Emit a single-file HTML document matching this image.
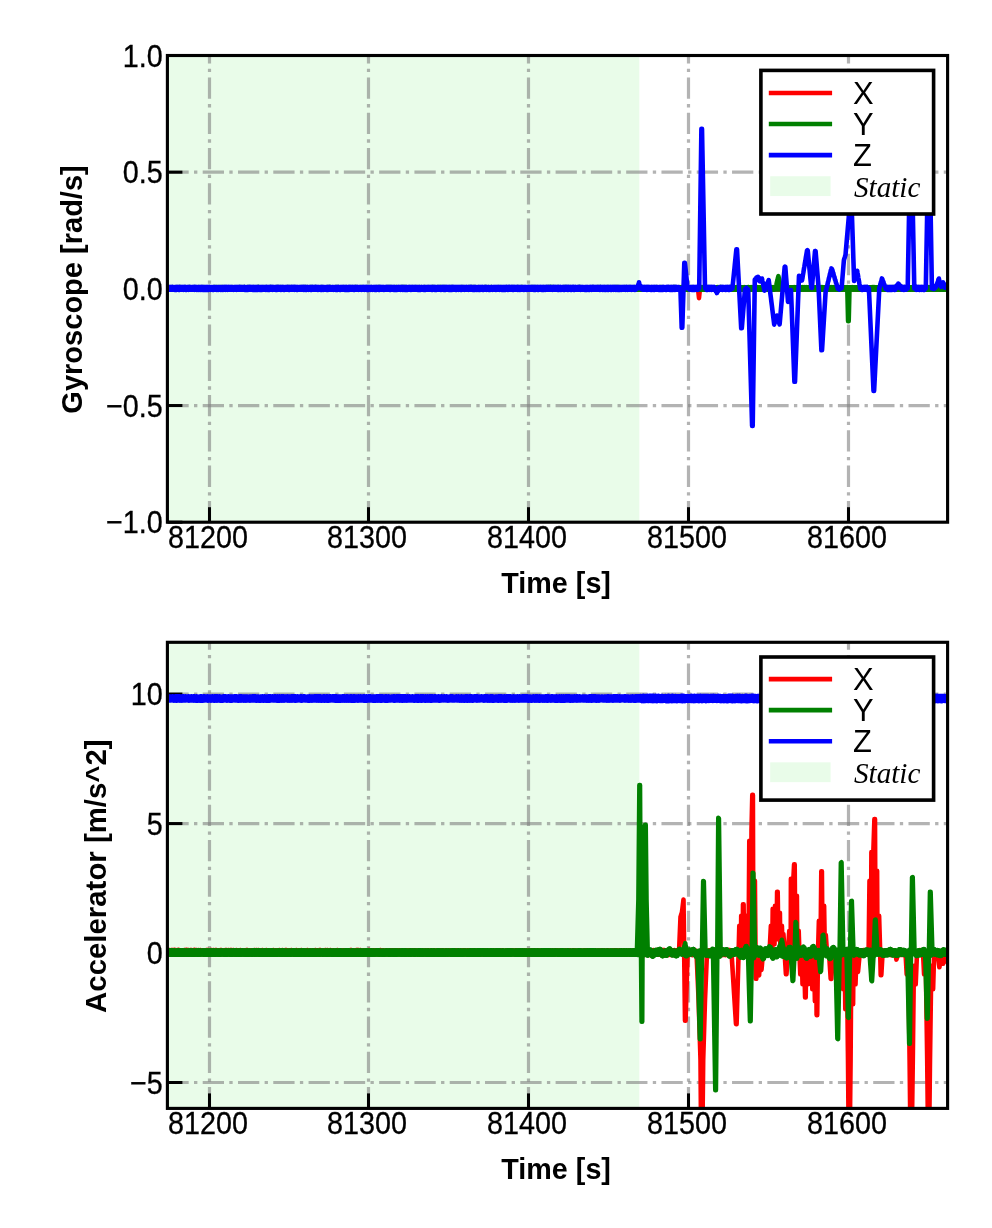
<!DOCTYPE html>
<html lang="en">
<head>
<meta charset="utf-8">
<title>IMU static detection</title>
<style>html,body{margin:0;padding:0;background:#fff}svg{display:block}</style>
</head>
<body>
<svg width="992" height="1228" viewBox="0 0 992 1228" role="img" aria-label="Gyroscope and accelerometer time series with static interval">
<rect x="0" y="0" width="992" height="1228" fill="#ffffff"/>
<defs>
<clipPath id="clip0"><rect x="167.4" y="55.5" width="780.20" height="466.70"/></clipPath>
<clipPath id="clip1"><rect x="167.4" y="642.3" width="780.20" height="466.10"/></clipPath>
</defs>
<g id="axes0">
<rect x="167.4" y="55.5" width="471.90" height="466.70" fill="#90ee90" fill-opacity="0.2"/>
<g clip-path="url(#clip0)" stroke="#808080" stroke-opacity="0.6" stroke-width="3.2" stroke-dasharray="21.3 5.33 3.33 5.33" fill="none">
<line x1="209.50" y1="522.2" x2="209.50" y2="55.5"/>
<line x1="368.50" y1="522.2" x2="368.50" y2="55.5"/>
<line x1="528.50" y1="522.2" x2="528.50" y2="55.5"/>
<line x1="688.50" y1="522.2" x2="688.50" y2="55.5"/>
<line x1="848.50" y1="522.2" x2="848.50" y2="55.5"/>
<line x1="167.4" y1="405.53" x2="947.6" y2="405.53"/>
<line x1="167.4" y1="288.85" x2="947.6" y2="288.85"/>
<line x1="167.4" y1="172.18" x2="947.6" y2="172.18"/>
</g>
<g stroke="#000" stroke-width="3.0">
<line x1="209.50" y1="522.2" x2="209.50" y2="507.20000000000005"/>
<line x1="368.50" y1="522.2" x2="368.50" y2="507.20000000000005"/>
<line x1="528.50" y1="522.2" x2="528.50" y2="507.20000000000005"/>
<line x1="688.50" y1="522.2" x2="688.50" y2="507.20000000000005"/>
<line x1="848.50" y1="522.2" x2="848.50" y2="507.20000000000005"/>
<line x1="167.4" y1="522.20" x2="182.4" y2="522.20"/>
<line x1="167.4" y1="405.53" x2="182.4" y2="405.53"/>
<line x1="167.4" y1="288.85" x2="182.4" y2="288.85"/>
<line x1="167.4" y1="172.18" x2="182.4" y2="172.18"/>
<line x1="167.4" y1="55.50" x2="182.4" y2="55.50"/>
</g>
<g clip-path="url(#clip0)">
<polyline points="165.4,287.4 165.9,289.4 166.4,287.3 166.9,289.4 167.4,287.4 167.9,289.4 168.4,287.5 168.9,289.4 169.4,287.4 169.9,289.5 170.4,287.5 170.9,289.3 171.4,287.5 171.9,289.5 172.4,287.4 172.9,289.3 173.4,287.3 173.9,289.5 174.4,287.4 174.9,289.4 175.4,287.5 175.9,289.3 176.4,287.4 176.9,289.3 177.4,287.5 177.9,289.3 178.4,287.5 178.9,289.4 179.4,287.4 179.9,289.5 180.4,287.4 180.9,289.4 181.4,287.4 181.9,289.4 182.4,287.4 182.9,289.3 183.4,287.3 183.9,289.5 184.4,287.3 184.9,289.4 185.4,287.5 185.9,289.3 186.4,287.5 186.9,289.3 187.4,287.4 187.9,289.4 188.4,287.3 188.9,289.4 189.4,287.3 189.9,289.5 190.4,287.5 190.9,289.3 191.4,287.3 191.9,289.4 192.4,287.3 192.9,289.4 193.4,287.5 193.9,289.4 194.4,287.3 194.9,289.3 195.4,287.5 195.9,289.4 196.4,287.3 196.9,289.4 197.4,287.5 197.9,289.3 198.4,287.5 198.9,289.3 199.4,287.3 199.9,289.3 200.4,287.4 200.9,289.4 201.4,287.5 201.9,289.4 202.4,287.5 202.9,289.4 203.4,287.5 203.9,289.4 204.4,287.5 204.9,289.3 205.4,287.3 205.9,289.5 206.4,287.5 206.9,289.5 207.4,287.5 207.9,289.4 208.4,287.3 208.9,289.4 209.4,287.5 209.9,289.5 210.4,287.5 210.9,289.3 211.4,287.4 211.9,289.4 212.4,287.5 212.9,289.3 213.4,287.5 213.9,289.4 214.4,287.5 214.9,289.4 215.4,287.4 215.9,289.4 216.4,287.3 216.9,289.4 217.4,287.4 217.9,289.5 218.4,287.5 218.9,289.3 219.4,287.3 219.9,289.5 220.4,287.5 220.9,289.3 221.4,287.4 221.9,289.5 222.4,287.5 222.9,289.5 223.4,287.3 223.9,289.4 224.4,287.4 224.9,289.3 225.4,287.5 225.9,289.5 226.4,287.5 226.9,289.4 227.4,287.5 227.9,289.5 228.4,287.4 228.9,289.3 229.4,287.5 229.9,289.4 230.4,287.5 230.9,289.3 231.4,287.4 231.9,289.5 232.4,287.4 232.9,289.3 233.4,287.3 233.9,289.3 234.4,287.5 234.9,289.3 235.4,287.4 235.9,289.3 236.4,287.5 236.9,289.4 237.4,287.4 237.9,289.3 238.4,287.4 238.9,289.5 239.4,287.3 239.9,289.4 240.4,287.4 240.9,289.4 241.4,287.5 241.9,289.3 242.4,287.5 242.9,289.5 243.4,287.4 243.9,289.5 244.4,287.5 244.9,289.4 245.4,287.4 245.9,289.4 246.4,287.4 246.9,289.5 247.4,287.5 247.9,289.4 248.4,287.4 248.9,289.5 249.4,287.4 249.9,289.4 250.4,287.3 250.9,289.5 251.4,287.4 251.9,289.4 252.4,287.3 252.9,289.5 253.4,287.4 253.9,289.5 254.4,287.3 254.9,289.4 255.4,287.4 255.9,289.4 256.4,287.4 256.9,289.4 257.4,287.5 257.9,289.4 258.4,287.3 258.9,289.5 259.4,287.4 259.9,289.4 260.4,287.4 260.9,289.4 261.4,287.4 261.9,289.5 262.4,287.5 262.9,289.4 263.4,287.5 263.9,289.4 264.4,287.4 264.9,289.3 265.4,287.4 265.9,289.4 266.4,287.4 266.9,289.5 267.4,287.5 267.9,289.3 268.4,287.5 268.9,289.4 269.4,287.5 269.9,289.3 270.4,287.3 270.9,289.4 271.4,287.4 271.9,289.5 272.4,287.4 272.9,289.4 273.4,287.5 273.9,289.4 274.4,287.3 274.9,289.5 275.4,287.3 275.9,289.4 276.4,287.4 276.9,289.3 277.4,287.5 277.9,289.4 278.4,287.3 278.9,289.5 279.4,287.4 279.9,289.5 280.4,287.5 280.9,289.3 281.4,287.4 281.9,289.3 282.4,287.5 282.9,289.4 283.4,287.4 283.9,289.4 284.4,287.5 284.9,289.5 285.4,287.3 285.9,289.4 286.4,287.5 286.9,289.3 287.4,287.3 287.9,289.3 288.4,287.4 288.9,289.4 289.4,287.5 289.9,289.5 290.4,287.5 290.9,289.3 291.4,287.4 291.9,289.3 292.4,287.3 292.9,289.3 293.4,287.5 293.9,289.3 294.4,287.4 294.9,289.4 295.4,287.4 295.9,289.4 296.4,287.3 296.9,289.5 297.4,287.4 297.9,289.3 298.4,287.4 298.9,289.3 299.4,287.5 299.9,289.4 300.4,287.4 300.9,289.3 301.4,287.5 301.9,289.4 302.4,287.4 302.9,289.4 303.4,287.4 303.9,289.4 304.4,287.4 304.9,289.5 305.4,287.3 305.9,289.3 306.4,287.3 306.9,289.4 307.4,287.5 307.9,289.4 308.4,287.4 308.9,289.5 309.4,287.4 309.9,289.4 310.4,287.3 310.9,289.5 311.4,287.3 311.9,289.4 312.4,287.4 312.9,289.3 313.4,287.4 313.9,289.5 314.4,287.4 314.9,289.4 315.4,287.5 315.9,289.5 316.4,287.3 316.9,289.5 317.4,287.4 317.9,289.5 318.4,287.4 318.9,289.5 319.4,287.3 319.9,289.4 320.4,287.5 320.9,289.4 321.4,287.4 321.9,289.4 322.4,287.4 322.9,289.3 323.4,287.3 323.9,289.3 324.4,287.3 324.9,289.3 325.4,287.4 325.9,289.5 326.4,287.5 326.9,289.3 327.4,287.4 327.9,289.4 328.4,287.3 328.9,289.4 329.4,287.3 329.9,289.4 330.4,287.3 330.9,289.3 331.4,287.5 331.9,289.4 332.4,287.5 332.9,289.4 333.4,287.4 333.9,289.4 334.4,287.3 334.9,289.4 335.4,287.5 335.9,289.4 336.4,287.3 336.9,289.5 337.4,287.5 337.9,289.5 338.4,287.3 338.9,289.4 339.4,287.4 339.9,289.3 340.4,287.4 340.9,289.4 341.4,287.4 341.9,289.3 342.4,287.3 342.9,289.4 343.4,287.4 343.9,289.5 344.4,287.4 344.9,289.4 345.4,287.4 345.9,289.3 346.4,287.4 346.9,289.4 347.4,287.3 347.9,289.5 348.4,287.5 348.9,289.4 349.4,287.5 349.9,289.4 350.4,287.3 350.9,289.5 351.4,287.4 351.9,289.3 352.4,287.5 352.9,289.4 353.4,287.3 353.9,289.3 354.4,287.3 354.9,289.3 355.4,287.5 355.9,289.3 356.4,287.4 356.9,289.4 357.4,287.4 357.9,289.4 358.4,287.5 358.9,289.4 359.4,287.5 359.9,289.4 360.4,287.5 360.9,289.3 361.4,287.4 361.9,289.4 362.4,287.4 362.9,289.4 363.4,287.4 363.9,289.3 364.4,287.5 364.9,289.4 365.4,287.4 365.9,289.4 366.4,287.3 366.9,289.4 367.4,287.3 367.9,289.3 368.4,287.4 368.9,289.5 369.4,287.3 369.9,289.3 370.4,287.5 370.9,289.5 371.4,287.5 371.9,289.5 372.4,287.3 372.9,289.3 373.4,287.5 373.9,289.4 374.4,287.5 374.9,289.3 375.4,287.3 375.9,289.4 376.4,287.3 376.9,289.3 377.4,287.4 377.9,289.4 378.4,287.5 378.9,289.3 379.4,287.4 379.9,289.5 380.4,287.3 380.9,289.3 381.4,287.4 381.9,289.4 382.4,287.4 382.9,289.4 383.4,287.5 383.9,289.3 384.4,287.5 384.9,289.3 385.4,287.4 385.9,289.4 386.4,287.4 386.9,289.3 387.4,287.5 387.9,289.3 388.4,287.3 388.9,289.5 389.4,287.3 389.9,289.3 390.4,287.5 390.9,289.5 391.4,287.4 391.9,289.4 392.4,287.4 392.9,289.4 393.4,287.4 393.9,289.4 394.4,287.4 394.9,289.3 395.4,287.4 395.9,289.5 396.4,287.5 396.9,289.4 397.4,287.4 397.9,289.4 398.4,287.5 398.9,289.3 399.4,287.4 399.9,289.3 400.4,287.3 400.9,289.5 401.4,287.4 401.9,289.5 402.4,287.4 402.9,289.4 403.4,287.4 403.9,289.4 404.4,287.3 404.9,289.5 405.4,287.5 405.9,289.5 406.4,287.4 406.9,289.5 407.4,287.3 407.9,289.4 408.4,287.3 408.9,289.5 409.4,287.4 409.9,289.4 410.4,287.4 410.9,289.4 411.4,287.4 411.9,289.3 412.4,287.4 412.9,289.4 413.4,287.5 413.9,289.4 414.4,287.4 414.9,289.4 415.4,287.5 415.9,289.5 416.4,287.4 416.9,289.4 417.4,287.4 417.9,289.4 418.4,287.4 418.9,289.4 419.4,287.3 419.9,289.4 420.4,287.4 420.9,289.4 421.4,287.3 421.9,289.3 422.4,287.4 422.9,289.4 423.4,287.5 423.9,289.4 424.4,287.5 424.9,289.3 425.4,287.4 425.9,289.3 426.4,287.5 426.9,289.5 427.4,287.4 427.9,289.4 428.4,287.3 428.9,289.4 429.4,287.3 429.9,289.4 430.4,287.3 430.9,289.3 431.4,287.4 431.9,289.4 432.4,287.5 432.9,289.5 433.4,287.5 433.9,289.4 434.4,287.5 434.9,289.4 435.4,287.4 435.9,289.3 436.4,287.3 436.9,289.4 437.4,287.4 437.9,289.4 438.4,287.4 438.9,289.3 439.4,287.4 439.9,289.4 440.4,287.5 440.9,289.4 441.4,287.5 441.9,289.3 442.4,287.5 442.9,289.3 443.4,287.5 443.9,289.4 444.4,287.4 444.9,289.5 445.4,287.4 445.9,289.3 446.4,287.3 446.9,289.5 447.4,287.5 447.9,289.5 448.4,287.4 448.9,289.4 449.4,287.3 449.9,289.3 450.4,287.4 450.9,289.5 451.4,287.4 451.9,289.4 452.4,287.3 452.9,289.5 453.4,287.4 453.9,289.3 454.4,287.4 454.9,289.4 455.4,287.5 455.9,289.3 456.4,287.4 456.9,289.3 457.4,287.4 457.9,289.4 458.4,287.4 458.9,289.3 459.4,287.4 459.9,289.4 460.4,287.3 460.9,289.4 461.4,287.3 461.9,289.5 462.4,287.4 462.9,289.3 463.4,287.5 463.9,289.5 464.4,287.3 464.9,289.4 465.4,287.4 465.9,289.3 466.4,287.4 466.9,289.4 467.4,287.4 467.9,289.4 468.4,287.4 468.9,289.3 469.4,287.5 469.9,289.5 470.4,287.3 470.9,289.5 471.4,287.5 471.9,289.3 472.4,287.5 472.9,289.4 473.4,287.4 473.9,289.3 474.4,287.4 474.9,289.3 475.4,287.5 475.9,289.4 476.4,287.4 476.9,289.4 477.4,287.4 477.9,289.4 478.4,287.5 478.9,289.4 479.4,287.4 479.9,289.5 480.4,287.5 480.9,289.3 481.4,287.3 481.9,289.4 482.4,287.4 482.9,289.3 483.4,287.4 483.9,289.3 484.4,287.3 484.9,289.4 485.4,287.4 485.9,289.5 486.4,287.4 486.9,289.4 487.4,287.4 487.9,289.5 488.4,287.4 488.9,289.4 489.4,287.5 489.9,289.5 490.4,287.5 490.9,289.3 491.4,287.4 491.9,289.4 492.4,287.4 492.9,289.3 493.4,287.3 493.9,289.3 494.4,287.5 494.9,289.4 495.4,287.5 495.9,289.3 496.4,287.4 496.9,289.4 497.4,287.5 497.9,289.3 498.4,287.4 498.9,289.4 499.4,287.4 499.9,289.3 500.4,287.4 500.9,289.4 501.4,287.3 501.9,289.5 502.4,287.3 502.9,289.4 503.4,287.3 503.9,289.3 504.4,287.5 504.9,289.4 505.4,287.3 505.9,289.5 506.4,287.5 506.9,289.4 507.4,287.4 507.9,289.4 508.4,287.4 508.9,289.4 509.4,287.5 509.9,289.4 510.4,287.3 510.9,289.4 511.4,287.3 511.9,289.4 512.4,287.5 512.9,289.4 513.4,287.3 513.9,289.3 514.4,287.5 514.9,289.4 515.4,287.4 515.9,289.4 516.4,287.3 516.9,289.4 517.4,287.3 517.9,289.3 518.4,287.4 518.9,289.5 519.4,287.5 519.9,289.3 520.4,287.4 520.9,289.5 521.4,287.5 521.9,289.4 522.4,287.5 522.9,289.4 523.4,287.4 523.9,289.3 524.4,287.5 524.9,289.4 525.4,287.4 525.9,289.4 526.4,287.4 526.9,289.4 527.4,287.3 527.9,289.4 528.4,287.4 528.9,289.4 529.4,287.4 529.9,289.4 530.4,287.3 530.9,289.4 531.4,287.3 531.9,289.4 532.4,287.3 532.9,289.5 533.4,287.3 533.9,289.5 534.4,287.3 534.9,289.4 535.4,287.4 535.9,289.4 536.4,287.3 536.9,289.4 537.4,287.4 537.9,289.3 538.4,287.4 538.9,289.5 539.4,287.4 539.9,289.3 540.4,287.5 540.9,289.4 541.4,287.5 541.9,289.5 542.4,287.5 542.9,289.3 543.4,287.5 543.9,289.4 544.4,287.3 544.9,289.3 545.4,287.5 545.9,289.4 546.4,287.4 546.9,289.5 547.4,287.5 547.9,289.3 548.4,287.5 548.9,289.3 549.4,287.5 549.9,289.4 550.4,287.4 550.9,289.3 551.4,287.5 551.9,289.3 552.4,287.5 552.9,289.4 553.4,287.5 553.9,289.4 554.4,287.3 554.9,289.4 555.4,287.5 555.9,289.5 556.4,287.3 556.9,289.4 557.4,287.4 557.9,289.5 558.4,287.4 558.9,289.3 559.4,287.5 559.9,289.5 560.4,287.3 560.9,289.4 561.4,287.4 561.9,289.4 562.4,287.5 562.9,289.5 563.4,287.4 563.9,289.3 564.4,287.5 564.9,289.4 565.4,287.4 565.9,289.5 566.4,287.4 566.9,289.4 567.4,287.5 567.9,289.3 568.4,287.4 568.9,289.3 569.4,287.3 569.9,289.4 570.4,287.4 570.9,289.5 571.4,287.5 571.9,289.4 572.4,287.5 572.9,289.4 573.4,287.5 573.9,289.5 574.4,287.3 574.9,289.5 575.4,287.5 575.9,289.3 576.4,287.4 576.9,289.3 577.4,287.4 577.9,289.4 578.4,287.3 578.9,289.4 579.4,287.3 579.9,289.3 580.4,287.3 580.9,289.4 581.4,287.3 581.9,289.3 582.4,287.3 582.9,289.3 583.4,287.4 583.9,289.4 584.4,287.5 584.9,289.5 585.4,287.5 585.9,289.3 586.4,287.5 586.9,289.3 587.4,287.4 587.9,289.4 588.4,287.4 588.9,289.4 589.4,287.5 589.9,289.4 590.4,287.4 590.9,289.5 591.4,287.3 591.9,289.4 592.4,287.5 592.9,289.4 593.4,287.4 593.9,289.3 594.4,287.4 594.9,289.4 595.4,287.5 595.9,289.5 596.4,287.3 596.9,289.3 597.4,287.4 597.9,289.3 598.4,287.4 598.9,289.4 599.4,287.5 599.9,289.4 600.4,287.4 600.9,289.4 601.4,287.5 601.9,289.3 602.4,287.4 602.9,289.4 603.4,287.3 603.9,289.4 604.4,287.4 604.9,289.4 605.4,287.3 605.9,289.3 606.4,287.5 606.9,289.3 607.4,287.4 607.9,289.4 608.4,287.5 608.9,289.4 609.4,287.3 609.9,289.4 610.4,287.5 610.9,289.3 611.4,287.5 611.9,289.3 612.4,287.4 612.9,289.3 613.4,287.3 613.9,289.4 614.4,287.4 614.9,289.4 615.4,287.4 615.9,289.5 616.4,287.4 616.9,289.4 617.4,287.4 617.9,289.3 618.4,287.4 618.9,289.4 619.4,287.3 619.9,289.5 620.4,287.4 620.9,289.4 621.4,287.5 621.9,289.4 622.4,287.4 622.9,289.4 623.4,287.5 623.9,289.4 624.4,287.4 624.9,289.5 625.4,287.3 625.9,289.4 626.4,287.5 626.9,289.4 627.4,287.3 627.9,289.4 628.4,287.4 628.9,289.4 629.4,287.5 629.9,289.4 630.4,287.3 630.9,289.4 631.4,287.4 631.9,289.5 632.4,287.5 632.9,289.5 633.4,287.4 633.9,289.3 634.4,287.5 634.9,289.3 635.4,287.4 635.9,289.4 636.4,287.4 636.9,289.5 637.4,287.4 637.9,289.4 638.4,287.5 638.9,289.5 639.4,287.5 639.9,289.5 640.4,287.4 640.9,289.4 641.4,287.4 641.9,289.3 642.4,287.3 642.9,289.5 643.4,287.3 643.9,289.4 644.4,287.5 644.9,289.5 645.4,287.5 645.9,289.5 646.4,287.5 646.9,289.4 647.4,287.3 647.9,289.3 648.4,287.4 648.9,289.3 649.4,287.5 649.9,289.3 650.4,287.3 650.9,289.5 651.4,287.4 651.9,289.3 652.4,287.4 652.9,289.4 653.4,287.4 653.9,289.4 654.4,287.3 654.9,289.3 655.4,287.5 655.9,289.4 656.4,287.5 656.9,289.4 657.4,287.4 657.9,289.3 658.4,287.4 658.9,289.3 659.4,287.4 659.9,289.4 660.4,287.4 660.9,289.3 661.4,287.4 661.9,289.3 662.4,287.3 662.9,289.4 663.4,287.4 663.9,289.4 664.4,287.4 664.9,289.4 665.4,287.4 665.9,289.4 666.4,287.4 666.9,289.5 667.4,287.3 667.9,289.5 668.4,287.4 668.9,289.4 669.4,287.4 669.9,289.5 670.4,287.4 670.9,289.4 671.4,287.4 671.9,289.5 672.4,287.4 672.9,289.3 673.4,287.4 673.9,289.5 674.4,287.4 674.9,289.4 675.4,287.4 675.9,289.3 676.4,287.4 676.9,289.3 677.4,287.5 677.9,289.4 678.4,287.4 678.9,289.4 679.4,287.5 679.9,289.4 680.4,287.4 680.9,289.3 681.4,287.5 681.9,289.4 682.4,287.5 682.9,289.3 683.4,287.3 683.9,289.5 684.4,287.4 684.9,289.5 685.4,287.4 685.9,289.5 686.4,287.5 686.9,289.4 687.4,287.4 687.9,289.5 688.4,287.5 688.9,289.5 689.4,287.5 689.9,289.4 690.4,287.3 690.9,289.3 691.4,287.5 691.9,289.3 692.4,287.4 692.9,289.3 693.4,287.3 693.9,289.5 694.4,287.4 694.9,289.4 695.4,287.4 695.9,289.3 696.4,287.5 696.9,288.5 697.4,288.3 697.9,288.5 698.0,288.3 698.4,292.3 698.9,297.0 699.0,298.1 699.4,294.1 699.9,289.4 700.0,288.3 700.4,288.5 700.9,288.3 701.4,289.4 701.9,287.4 702.4,289.3 702.9,287.3 703.4,289.5 703.9,287.5 704.4,289.4 704.9,287.5 705.4,289.5 705.9,287.5 706.4,289.3 706.9,287.4 707.4,289.3 707.9,287.3 708.4,289.5 708.9,287.4 709.4,289.3 709.9,287.4 710.4,289.5 710.9,287.4 711.4,289.3 711.9,287.5 712.4,289.3 712.9,287.4 713.4,289.3 713.9,287.5 714.4,289.3 714.9,287.4 715.4,289.5 715.9,287.4 716.4,289.4 716.9,287.3 717.4,289.4 717.9,287.5 718.4,289.3 718.9,287.3 719.4,289.4 719.9,287.5 720.4,289.4 720.9,287.5 721.4,289.5 721.9,287.4 722.4,289.4 722.9,287.4 723.4,289.3 723.9,287.4 724.4,289.3 724.9,287.5 725.4,289.5 725.9,287.5 726.4,289.3 726.9,287.4 727.4,289.3 727.9,287.5 728.4,289.4 728.9,287.5 729.4,289.5 729.9,287.3 730.4,289.3 730.9,287.4 731.4,289.4 731.9,287.4 732.4,289.5 732.9,287.4 733.4,289.3 733.9,287.4 734.4,289.4 734.9,287.4 735.4,289.4 735.9,287.3 736.4,289.4 736.9,287.4 737.4,289.5 737.9,287.4 738.4,289.4 738.9,287.3 739.4,289.3 739.9,287.3 740.4,289.3 740.9,287.4 741.4,289.3 741.9,287.4 742.4,289.5 742.9,287.3 743.4,289.5 743.9,287.5 744.4,289.4 744.9,287.5 745.4,289.4 745.9,287.4 746.4,289.3 746.9,287.4 747.4,289.4 747.9,287.4 748.4,289.5 748.9,287.5 749.4,289.3 749.9,287.5 750.4,289.4 750.9,287.4 751.4,289.4 751.9,287.5 752.4,289.5 752.9,287.5 753.4,289.5 753.9,287.4 754.4,289.4 754.9,287.3 755.4,289.3 755.9,287.5 756.4,289.3 756.9,287.5 757.4,289.3 757.9,287.4 758.4,289.4 758.9,287.5 759.4,289.4 759.9,287.5 760.4,289.5 760.9,287.5 761.4,289.3 761.9,287.5 762.4,289.4 762.9,287.3 763.4,289.5 763.9,287.5 764.4,289.4 764.9,287.4 765.4,289.3 765.9,287.3 766.4,289.3 766.9,287.4 767.4,289.4 767.9,287.3 768.4,289.3 768.9,287.4 769.4,289.4 769.9,287.5 770.4,289.3 770.9,287.3 771.4,289.3 771.9,287.4 772.4,289.3 772.9,287.4 773.4,289.3 773.9,287.5 774.4,289.5 774.9,287.4 775.4,289.4 775.9,287.5 776.4,289.3 776.9,287.4 777.4,289.3 777.9,287.4 778.4,289.5 778.9,287.4 779.4,289.4 779.9,287.3 780.4,289.4 780.9,287.5 781.4,289.4 781.9,287.4 782.4,289.3 782.9,287.4 783.4,289.4 783.9,287.3 784.4,289.4 784.9,287.3 785.4,289.4 785.9,287.4 786.4,289.5 786.9,287.4 787.4,289.5 787.9,287.5 788.4,289.4 788.9,287.5 789.4,289.4 789.9,287.5 790.4,289.3 790.9,287.5 791.4,289.4 791.9,287.5 792.4,289.4 792.9,287.3 793.4,289.4 793.9,287.3 794.4,289.3 794.9,287.4 795.4,289.3 795.9,287.4 796.4,289.4 796.9,287.5 797.4,289.3 797.9,287.5 798.4,289.3 798.9,287.4 799.4,289.5 799.9,287.4 800.4,289.3 800.9,287.4 801.4,289.3 801.9,287.3 802.4,289.4 802.9,287.4 803.4,289.4 803.9,287.3 804.4,289.3 804.9,287.4 805.4,289.4 805.9,287.5 806.4,289.5 806.9,287.4 807.4,289.4 807.9,287.4 808.4,289.3 808.9,287.4 809.4,289.3 809.9,287.5 810.4,289.3 810.9,287.4 811.4,289.3 811.9,287.5 812.4,289.4 812.9,287.4 813.4,289.3 813.9,287.4 814.4,289.3 814.9,287.4 815.4,289.4 815.9,287.5 816.4,289.3 816.9,287.5 817.4,289.4 817.9,287.4 818.4,289.4 818.9,287.3 819.4,289.3 819.9,287.5 820.4,289.4 820.9,287.5 821.4,289.3 821.9,287.5 822.4,289.4 822.9,287.4 823.4,289.5 823.9,287.3 824.4,289.3 824.9,287.4 825.4,289.5 825.9,287.5 826.4,289.4 826.9,287.4 827.4,289.5 827.9,287.3 828.4,289.3 828.9,287.4 829.4,289.3 829.9,287.4 830.4,289.4 830.9,287.5 831.4,289.4 831.9,287.4 832.4,289.4 832.9,287.5 833.4,289.3 833.9,287.4 834.4,289.4 834.9,287.5 835.4,289.4 835.9,287.5 836.4,289.3 836.9,287.4 837.4,289.4 837.9,287.5 838.4,289.4 838.9,287.4 839.4,289.4 839.9,287.4 840.4,289.3 840.9,287.4 841.4,289.4 841.9,287.5 842.4,289.4 842.9,287.5 843.4,289.4 843.9,287.4 844.4,289.4 844.9,287.4 845.4,289.3 845.9,287.5 846.4,289.4 846.9,287.3 847.4,289.4 847.9,287.5 848.4,289.4 848.9,287.5 849.4,289.4 849.9,287.4 850.4,289.5 850.9,287.4 851.4,289.4 851.9,287.3 852.4,289.4 852.9,287.4 853.4,289.4 853.9,287.4 854.4,289.4 854.9,287.5 855.4,289.5 855.9,287.3 856.4,289.4 856.9,287.3 857.4,289.3 857.9,287.5 858.4,289.4 858.9,287.5 859.4,289.4 859.9,287.3 860.4,289.3 860.9,287.5 861.4,289.3 861.9,287.4 862.4,289.3 862.9,287.5 863.4,289.4 863.9,287.4 864.4,289.3 864.9,287.4 865.4,289.4 865.9,287.4 866.4,289.4 866.9,287.4 867.4,289.5 867.9,287.3 868.4,289.4 868.9,287.4 869.4,289.5 869.9,287.5 870.4,289.4 870.9,287.4 871.4,289.4 871.9,287.3 872.4,289.5 872.9,287.5 873.4,289.4 873.9,287.4 874.4,289.4 874.9,287.4 875.4,289.3 875.9,287.4 876.4,289.4 876.9,287.5 877.4,289.3 877.9,287.4 878.4,289.3 878.9,287.4 879.4,289.3 879.9,287.5 880.4,289.3 880.9,287.5 881.4,289.4 881.9,287.5 882.4,289.4 882.9,287.4 883.4,289.4 883.9,287.5 884.4,289.5 884.9,287.3 885.4,289.3 885.9,287.5 886.4,289.4 886.9,287.3 887.4,289.4 887.9,287.4 888.4,289.3 888.9,287.4 889.4,289.4 889.9,287.4 890.4,289.4 890.9,287.3 891.4,289.5 891.9,287.4 892.4,289.4 892.9,287.4 893.4,289.4 893.9,287.3 894.4,289.5 894.9,287.5 895.4,289.4 895.9,287.4 896.4,289.3 896.9,287.5 897.4,289.3 897.9,287.4 898.4,289.5 898.9,287.3 899.4,289.3 899.9,287.4 900.4,289.4 900.9,287.4 901.4,289.4 901.9,287.3 902.4,289.5 902.9,287.5 903.4,289.4 903.9,287.5 904.4,289.3 904.9,287.5 905.4,289.4 905.9,287.3 906.4,289.3 906.9,287.4 907.4,289.3 907.9,287.4 908.4,289.4 908.9,287.4 909.4,289.3 909.9,287.3 910.4,289.5 910.9,287.5 911.4,289.4 911.9,287.4 912.4,289.4 912.9,287.3 913.4,289.4 913.9,287.4 914.4,289.4 914.9,287.3 915.4,289.3 915.9,287.5 916.4,289.3 916.9,287.3 917.4,289.3 917.9,287.4 918.4,289.3 918.9,287.4 919.4,289.3 919.9,287.4 920.4,289.3 920.9,287.4 921.4,289.3 921.9,287.5 922.4,289.4 922.9,287.4 923.4,289.3 923.9,287.5 924.4,289.3 924.9,287.3 925.4,289.3 925.9,287.5 926.4,289.3 926.9,287.4 927.4,289.5 927.9,287.5 928.4,289.5 928.9,287.4 929.4,289.4 929.9,287.3 930.4,289.4 930.9,287.5 931.4,289.4 931.9,287.4 932.4,289.4 932.9,287.5 933.4,289.5 933.9,287.3 934.4,289.5 934.9,287.4 935.4,289.5 935.9,287.4 936.4,289.3 936.9,287.5 937.4,289.3 937.9,287.5 938.4,289.3 938.9,287.4 939.4,289.4 939.9,287.5 940.4,289.4 940.9,287.5 941.4,289.3 941.9,287.3 942.4,289.3 942.9,287.4 943.4,289.5 943.9,287.3 944.4,289.4 944.9,287.4 945.4,289.5 945.9,287.3 946.4,289.4 946.9,287.3 947.4,289.3 947.9,287.3 948.4,289.4 948.9,287.4 949.4,289.3 949.6,287.3" fill="none" stroke="#ff0000" stroke-width="4.6" stroke-linejoin="round" stroke-linecap="butt" />
<polyline points="165.4,287.4 165.9,289.5 166.4,287.3 166.9,289.6 167.4,287.4 167.9,289.4 168.4,287.3 168.9,289.5 169.4,287.4 169.9,289.5 170.4,287.3 170.9,289.5 171.4,287.4 171.9,289.4 172.4,287.2 172.9,289.4 173.4,287.4 173.9,289.6 174.4,287.3 174.9,289.4 175.4,287.3 175.9,289.5 176.4,287.4 176.9,289.5 177.4,287.4 177.9,289.4 178.4,287.4 178.9,289.4 179.4,287.2 179.9,289.5 180.4,287.2 180.9,289.5 181.4,287.3 181.9,289.6 182.4,287.3 182.9,289.4 183.4,287.3 183.9,289.5 184.4,287.4 184.9,289.4 185.4,287.2 185.9,289.5 186.4,287.4 186.9,289.5 187.4,287.4 187.9,289.6 188.4,287.3 188.9,289.4 189.4,287.2 189.9,289.4 190.4,287.4 190.9,289.4 191.4,287.3 191.9,289.4 192.4,287.3 192.9,289.4 193.4,287.3 193.9,289.5 194.4,287.3 194.9,289.5 195.4,287.3 195.9,289.5 196.4,287.3 196.9,289.4 197.4,287.3 197.9,289.4 198.4,287.2 198.9,289.6 199.4,287.4 199.9,289.4 200.4,287.3 200.9,289.5 201.4,287.4 201.9,289.5 202.4,287.2 202.9,289.5 203.4,287.4 203.9,289.5 204.4,287.2 204.9,289.4 205.4,287.4 205.9,289.4 206.4,287.3 206.9,289.5 207.4,287.4 207.9,289.5 208.4,287.4 208.9,289.4 209.4,287.2 209.9,289.5 210.4,287.4 210.9,289.6 211.4,287.4 211.9,289.4 212.4,287.4 212.9,289.4 213.4,287.4 213.9,289.4 214.4,287.2 214.9,289.4 215.4,287.4 215.9,289.5 216.4,287.2 216.9,289.4 217.4,287.3 217.9,289.4 218.4,287.3 218.9,289.5 219.4,287.2 219.9,289.5 220.4,287.3 220.9,289.6 221.4,287.4 221.9,289.5 222.4,287.2 222.9,289.5 223.4,287.3 223.9,289.4 224.4,287.2 224.9,289.5 225.4,287.4 225.9,289.6 226.4,287.3 226.9,289.4 227.4,287.4 227.9,289.4 228.4,287.4 228.9,289.5 229.4,287.4 229.9,289.4 230.4,287.3 230.9,289.5 231.4,287.3 231.9,289.5 232.4,287.4 232.9,289.4 233.4,287.3 233.9,289.4 234.4,287.4 234.9,289.4 235.4,287.3 235.9,289.4 236.4,287.3 236.9,289.4 237.4,287.3 237.9,289.5 238.4,287.4 238.9,289.6 239.4,287.3 239.9,289.5 240.4,287.4 240.9,289.5 241.4,287.4 241.9,289.5 242.4,287.2 242.9,289.6 243.4,287.4 243.9,289.5 244.4,287.2 244.9,289.5 245.4,287.4 245.9,289.6 246.4,287.3 246.9,289.6 247.4,287.2 247.9,289.6 248.4,287.2 248.9,289.4 249.4,287.2 249.9,289.4 250.4,287.4 250.9,289.5 251.4,287.3 251.9,289.4 252.4,287.3 252.9,289.5 253.4,287.3 253.9,289.5 254.4,287.4 254.9,289.6 255.4,287.4 255.9,289.5 256.4,287.3 256.9,289.4 257.4,287.2 257.9,289.4 258.4,287.2 258.9,289.6 259.4,287.2 259.9,289.6 260.4,287.3 260.9,289.5 261.4,287.4 261.9,289.6 262.4,287.4 262.9,289.4 263.4,287.2 263.9,289.6 264.4,287.3 264.9,289.6 265.4,287.3 265.9,289.6 266.4,287.3 266.9,289.6 267.4,287.4 267.9,289.5 268.4,287.3 268.9,289.6 269.4,287.3 269.9,289.5 270.4,287.2 270.9,289.5 271.4,287.4 271.9,289.4 272.4,287.2 272.9,289.5 273.4,287.3 273.9,289.5 274.4,287.4 274.9,289.4 275.4,287.4 275.9,289.4 276.4,287.2 276.9,289.4 277.4,287.4 277.9,289.6 278.4,287.3 278.9,289.4 279.4,287.3 279.9,289.5 280.4,287.3 280.9,289.5 281.4,287.3 281.9,289.4 282.4,287.3 282.9,289.5 283.4,287.3 283.9,289.4 284.4,287.4 284.9,289.5 285.4,287.3 285.9,289.5 286.4,287.3 286.9,289.5 287.4,287.4 287.9,289.5 288.4,287.2 288.9,289.4 289.4,287.4 289.9,289.5 290.4,287.4 290.9,289.6 291.4,287.4 291.9,289.6 292.4,287.3 292.9,289.4 293.4,287.3 293.9,289.5 294.4,287.3 294.9,289.5 295.4,287.4 295.9,289.6 296.4,287.4 296.9,289.6 297.4,287.4 297.9,289.5 298.4,287.4 298.9,289.4 299.4,287.3 299.9,289.6 300.4,287.4 300.9,289.5 301.4,287.3 301.9,289.5 302.4,287.4 302.9,289.4 303.4,287.2 303.9,289.5 304.4,287.4 304.9,289.6 305.4,287.2 305.9,289.5 306.4,287.4 306.9,289.4 307.4,287.2 307.9,289.4 308.4,287.4 308.9,289.6 309.4,287.4 309.9,289.6 310.4,287.4 310.9,289.5 311.4,287.3 311.9,289.4 312.4,287.3 312.9,289.5 313.4,287.3 313.9,289.5 314.4,287.4 314.9,289.6 315.4,287.2 315.9,289.4 316.4,287.3 316.9,289.4 317.4,287.3 317.9,289.5 318.4,287.3 318.9,289.5 319.4,287.4 319.9,289.6 320.4,287.3 320.9,289.6 321.4,287.4 321.9,289.5 322.4,287.4 322.9,289.5 323.4,287.4 323.9,289.6 324.4,287.4 324.9,289.5 325.4,287.3 325.9,289.5 326.4,287.4 326.9,289.5 327.4,287.2 327.9,289.4 328.4,287.2 328.9,289.4 329.4,287.4 329.9,289.5 330.4,287.2 330.9,289.5 331.4,287.3 331.9,289.4 332.4,287.3 332.9,289.4 333.4,287.4 333.9,289.5 334.4,287.4 334.9,289.4 335.4,287.3 335.9,289.5 336.4,287.2 336.9,289.6 337.4,287.3 337.9,289.4 338.4,287.2 338.9,289.5 339.4,287.4 339.9,289.6 340.4,287.3 340.9,289.6 341.4,287.3 341.9,289.6 342.4,287.4 342.9,289.6 343.4,287.3 343.9,289.5 344.4,287.4 344.9,289.4 345.4,287.4 345.9,289.4 346.4,287.2 346.9,289.4 347.4,287.4 347.9,289.5 348.4,287.4 348.9,289.4 349.4,287.4 349.9,289.4 350.4,287.4 350.9,289.5 351.4,287.3 351.9,289.4 352.4,287.2 352.9,289.5 353.4,287.4 353.9,289.6 354.4,287.4 354.9,289.6 355.4,287.2 355.9,289.4 356.4,287.2 356.9,289.5 357.4,287.3 357.9,289.6 358.4,287.3 358.9,289.4 359.4,287.4 359.9,289.6 360.4,287.3 360.9,289.5 361.4,287.3 361.9,289.6 362.4,287.2 362.9,289.6 363.4,287.3 363.9,289.6 364.4,287.4 364.9,289.4 365.4,287.3 365.9,289.4 366.4,287.2 366.9,289.4 367.4,287.3 367.9,289.4 368.4,287.4 368.9,289.5 369.4,287.2 369.9,289.4 370.4,287.4 370.9,289.4 371.4,287.2 371.9,289.5 372.4,287.3 372.9,289.6 373.4,287.3 373.9,289.5 374.4,287.3 374.9,289.4 375.4,287.3 375.9,289.4 376.4,287.3 376.9,289.5 377.4,287.3 377.9,289.5 378.4,287.3 378.9,289.6 379.4,287.2 379.9,289.6 380.4,287.3 380.9,289.5 381.4,287.4 381.9,289.6 382.4,287.3 382.9,289.5 383.4,287.3 383.9,289.4 384.4,287.4 384.9,289.5 385.4,287.4 385.9,289.5 386.4,287.3 386.9,289.6 387.4,287.2 387.9,289.5 388.4,287.4 388.9,289.6 389.4,287.4 389.9,289.5 390.4,287.2 390.9,289.6 391.4,287.3 391.9,289.6 392.4,287.4 392.9,289.4 393.4,287.4 393.9,289.6 394.4,287.4 394.9,289.4 395.4,287.3 395.9,289.4 396.4,287.2 396.9,289.4 397.4,287.4 397.9,289.6 398.4,287.4 398.9,289.4 399.4,287.3 399.9,289.6 400.4,287.4 400.9,289.5 401.4,287.2 401.9,289.5 402.4,287.2 402.9,289.4 403.4,287.3 403.9,289.4 404.4,287.2 404.9,289.4 405.4,287.4 405.9,289.5 406.4,287.3 406.9,289.4 407.4,287.3 407.9,289.4 408.4,287.4 408.9,289.4 409.4,287.3 409.9,289.6 410.4,287.3 410.9,289.4 411.4,287.4 411.9,289.6 412.4,287.2 412.9,289.6 413.4,287.3 413.9,289.6 414.4,287.3 414.9,289.5 415.4,287.3 415.9,289.5 416.4,287.3 416.9,289.4 417.4,287.3 417.9,289.4 418.4,287.3 418.9,289.4 419.4,287.4 419.9,289.6 420.4,287.3 420.9,289.4 421.4,287.2 421.9,289.6 422.4,287.3 422.9,289.5 423.4,287.4 423.9,289.4 424.4,287.2 424.9,289.5 425.4,287.2 425.9,289.4 426.4,287.4 426.9,289.4 427.4,287.4 427.9,289.5 428.4,287.2 428.9,289.5 429.4,287.3 429.9,289.5 430.4,287.3 430.9,289.4 431.4,287.3 431.9,289.4 432.4,287.2 432.9,289.5 433.4,287.3 433.9,289.6 434.4,287.4 434.9,289.6 435.4,287.3 435.9,289.5 436.4,287.3 436.9,289.5 437.4,287.2 437.9,289.6 438.4,287.3 438.9,289.6 439.4,287.4 439.9,289.6 440.4,287.2 440.9,289.5 441.4,287.4 441.9,289.6 442.4,287.3 442.9,289.4 443.4,287.2 443.9,289.4 444.4,287.3 444.9,289.4 445.4,287.2 445.9,289.4 446.4,287.4 446.9,289.5 447.4,287.3 447.9,289.5 448.4,287.4 448.9,289.4 449.4,287.4 449.9,289.5 450.4,287.4 450.9,289.5 451.4,287.2 451.9,289.5 452.4,287.4 452.9,289.5 453.4,287.4 453.9,289.5 454.4,287.3 454.9,289.4 455.4,287.3 455.9,289.6 456.4,287.4 456.9,289.4 457.4,287.3 457.9,289.4 458.4,287.4 458.9,289.5 459.4,287.3 459.9,289.4 460.4,287.4 460.9,289.5 461.4,287.2 461.9,289.4 462.4,287.3 462.9,289.5 463.4,287.4 463.9,289.5 464.4,287.2 464.9,289.4 465.4,287.3 465.9,289.5 466.4,287.4 466.9,289.5 467.4,287.4 467.9,289.5 468.4,287.4 468.9,289.5 469.4,287.2 469.9,289.6 470.4,287.2 470.9,289.4 471.4,287.2 471.9,289.4 472.4,287.3 472.9,289.5 473.4,287.3 473.9,289.5 474.4,287.2 474.9,289.5 475.4,287.2 475.9,289.4 476.4,287.3 476.9,289.4 477.4,287.3 477.9,289.5 478.4,287.3 478.9,289.5 479.4,287.4 479.9,289.6 480.4,287.4 480.9,289.5 481.4,287.4 481.9,289.4 482.4,287.4 482.9,289.6 483.4,287.4 483.9,289.5 484.4,287.3 484.9,289.6 485.4,287.2 485.9,289.4 486.4,287.2 486.9,289.4 487.4,287.4 487.9,289.4 488.4,287.3 488.9,289.5 489.4,287.3 489.9,289.4 490.4,287.3 490.9,289.4 491.4,287.2 491.9,289.5 492.4,287.3 492.9,289.5 493.4,287.4 493.9,289.4 494.4,287.4 494.9,289.5 495.4,287.4 495.9,289.5 496.4,287.4 496.9,289.4 497.4,287.4 497.9,289.5 498.4,287.2 498.9,289.5 499.4,287.3 499.9,289.4 500.4,287.4 500.9,289.4 501.4,287.3 501.9,289.6 502.4,287.4 502.9,289.4 503.4,287.3 503.9,289.5 504.4,287.4 504.9,289.4 505.4,287.3 505.9,289.4 506.4,287.2 506.9,289.5 507.4,287.3 507.9,289.6 508.4,287.3 508.9,289.6 509.4,287.4 509.9,289.4 510.4,287.3 510.9,289.5 511.4,287.3 511.9,289.4 512.4,287.3 512.9,289.4 513.4,287.2 513.9,289.6 514.4,287.3 514.9,289.4 515.4,287.4 515.9,289.4 516.4,287.3 516.9,289.4 517.4,287.4 517.9,289.4 518.4,287.2 518.9,289.5 519.4,287.4 519.9,289.4 520.4,287.4 520.9,289.4 521.4,287.2 521.9,289.6 522.4,287.2 522.9,289.4 523.4,287.3 523.9,289.6 524.4,287.3 524.9,289.5 525.4,287.4 525.9,289.5 526.4,287.3 526.9,289.5 527.4,287.4 527.9,289.6 528.4,287.2 528.9,289.4 529.4,287.3 529.9,289.4 530.4,287.3 530.9,289.5 531.4,287.3 531.9,289.5 532.4,287.2 532.9,289.5 533.4,287.4 533.9,289.4 534.4,287.4 534.9,289.5 535.4,287.4 535.9,289.6 536.4,287.3 536.9,289.4 537.4,287.2 537.9,289.6 538.4,287.4 538.9,289.5 539.4,287.4 539.9,289.4 540.4,287.4 540.9,289.6 541.4,287.4 541.9,289.4 542.4,287.4 542.9,289.4 543.4,287.2 543.9,289.4 544.4,287.4 544.9,289.4 545.4,287.3 545.9,289.4 546.4,287.2 546.9,289.6 547.4,287.4 547.9,289.5 548.4,287.2 548.9,289.5 549.4,287.4 549.9,289.6 550.4,287.2 550.9,289.4 551.4,287.2 551.9,289.4 552.4,287.2 552.9,289.4 553.4,287.2 553.9,289.4 554.4,287.4 554.9,289.5 555.4,287.3 555.9,289.5 556.4,287.4 556.9,289.4 557.4,287.4 557.9,289.4 558.4,287.2 558.9,289.5 559.4,287.4 559.9,289.4 560.4,287.4 560.9,289.5 561.4,287.4 561.9,289.5 562.4,287.4 562.9,289.5 563.4,287.2 563.9,289.5 564.4,287.4 564.9,289.5 565.4,287.2 565.9,289.4 566.4,287.2 566.9,289.4 567.4,287.4 567.9,289.4 568.4,287.2 568.9,289.4 569.4,287.3 569.9,289.5 570.4,287.3 570.9,289.6 571.4,287.3 571.9,289.4 572.4,287.3 572.9,289.4 573.4,287.2 573.9,289.4 574.4,287.3 574.9,289.5 575.4,287.3 575.9,289.5 576.4,287.4 576.9,289.5 577.4,287.3 577.9,289.6 578.4,287.2 578.9,289.4 579.4,287.2 579.9,289.4 580.4,287.2 580.9,289.5 581.4,287.4 581.9,289.5 582.4,287.3 582.9,289.5 583.4,287.3 583.9,289.5 584.4,287.3 584.9,289.6 585.4,287.4 585.9,289.5 586.4,287.4 586.9,289.5 587.4,287.4 587.9,289.6 588.4,287.3 588.9,289.5 589.4,287.3 589.9,289.5 590.4,287.4 590.9,289.4 591.4,287.3 591.9,289.4 592.4,287.3 592.9,289.5 593.4,287.2 593.9,289.5 594.4,287.4 594.9,289.5 595.4,287.4 595.9,289.4 596.4,287.4 596.9,289.6 597.4,287.2 597.9,289.5 598.4,287.2 598.9,289.5 599.4,287.4 599.9,289.5 600.4,287.2 600.9,289.5 601.4,287.4 601.9,289.5 602.4,287.4 602.9,289.4 603.4,287.4 603.9,289.6 604.4,287.3 604.9,289.5 605.4,287.3 605.9,289.5 606.4,287.3 606.9,289.4 607.4,287.3 607.9,289.5 608.4,287.3 608.9,289.4 609.4,287.3 609.9,289.5 610.4,287.4 610.9,289.4 611.4,287.3 611.9,289.6 612.4,287.3 612.9,289.6 613.4,287.3 613.9,289.5 614.4,287.3 614.9,289.5 615.4,287.2 615.9,289.4 616.4,287.2 616.9,289.4 617.4,287.4 617.9,289.5 618.4,287.2 618.9,289.6 619.4,287.3 619.9,289.5 620.4,287.3 620.9,289.4 621.4,287.4 621.9,289.5 622.4,287.4 622.9,289.5 623.4,287.3 623.9,289.6 624.4,287.4 624.9,289.6 625.4,287.4 625.9,289.5 626.4,287.2 626.9,289.5 627.4,287.3 627.9,289.6 628.4,287.4 628.9,289.6 629.4,287.2 629.9,289.6 630.4,287.4 630.9,289.5 631.4,287.4 631.9,289.4 632.4,287.3 632.9,289.4 633.4,287.3 633.9,289.6 634.4,287.3 634.9,289.4 635.4,287.4 635.9,289.4 636.4,287.2 636.9,289.4 637.4,287.3 637.9,289.4 638.4,287.3 638.9,289.4 639.4,287.3 639.9,289.5 640.4,287.3 640.9,289.4 641.4,287.3 641.9,289.6 642.4,287.4 642.9,289.4 643.4,287.4 643.9,289.4 644.4,287.2 644.9,289.4 645.4,287.4 645.9,289.5 646.4,287.3 646.9,289.4 647.4,287.3 647.9,289.5 648.4,287.2 648.9,289.4 649.4,287.3 649.9,289.4 650.4,287.4 650.9,289.6 651.4,287.2 651.9,289.5 652.4,287.3 652.9,289.5 653.4,287.4 653.9,289.4 654.4,287.4 654.9,289.4 655.4,287.3 655.9,289.5 656.4,287.4 656.9,289.4 657.4,287.2 657.9,289.6 658.4,287.4 658.9,289.5 659.4,287.4 659.9,289.5 660.4,287.3 660.9,289.4 661.4,287.2 661.9,289.5 662.4,287.2 662.9,289.4 663.4,287.4 663.9,289.5 664.4,287.3 664.9,289.4 665.4,287.3 665.9,289.4 666.4,287.3 666.9,289.6 667.4,287.4 667.9,289.4 668.4,287.2 668.9,289.6 669.4,287.3 669.9,289.5 670.4,287.3 670.9,289.5 671.4,287.2 671.9,289.6 672.4,287.3 672.9,289.5 673.4,287.2 673.9,289.5 674.4,287.2 674.9,289.4 675.4,287.3 675.9,289.6 676.4,287.4 676.9,289.4 677.4,287.4 677.9,289.6 678.4,287.3 678.9,289.4 679.4,287.2 679.9,289.4 680.4,287.3 680.9,289.5 681.4,287.2 681.9,289.4 682.4,287.4 682.9,289.4 683.4,287.3 683.9,289.5 684.4,287.4 684.9,289.5 685.4,287.4 685.9,289.5 686.4,287.2 686.9,289.4 687.4,287.3 687.9,289.6 688.4,287.2 688.9,289.5 689.4,287.3 689.9,289.6 690.4,287.3 690.9,289.5 691.4,287.2 691.9,289.4 692.4,287.3 692.9,289.5 693.4,287.3 693.9,289.5 694.4,287.3 694.9,289.4 695.4,287.3 695.9,289.5 696.4,287.3 696.9,289.4 697.4,287.4 697.9,289.5 698.4,287.2 698.9,289.6 699.4,287.3 699.9,289.5 700.4,287.2 700.9,289.6 701.4,287.4 701.9,289.5 702.4,287.4 702.9,289.4 703.4,287.3 703.9,289.4 704.4,287.2 704.9,289.6 705.4,287.4 705.9,289.4 706.4,287.4 706.9,289.6 707.4,287.4 707.9,289.6 708.4,287.2 708.9,289.4 709.4,287.2 709.9,289.4 710.4,287.4 710.9,289.5 711.4,287.4 711.9,289.4 712.4,287.3 712.9,289.6 713.4,287.3 713.9,289.5 714.4,287.3 714.9,289.4 715.4,287.3 715.9,289.4 716.4,287.4 716.9,289.4 717.4,287.4 717.9,289.6 718.4,287.4 718.9,289.5 719.4,287.4 719.9,289.4 720.4,287.2 720.9,289.5 721.4,287.2 721.9,289.5 722.4,287.3 722.9,289.5 723.4,287.4 723.9,289.4 724.4,287.3 724.9,289.6 725.4,287.4 725.9,289.5 726.4,287.3 726.9,289.5 727.4,287.3 727.9,289.4 728.4,287.4 728.9,289.5 729.4,287.3 729.9,289.5 730.4,287.2 730.9,289.6 731.4,287.4 731.9,289.4 732.4,287.4 732.9,289.4 733.4,287.3 733.9,289.5 734.4,287.2 734.9,289.4 735.4,287.3 735.9,289.6 736.4,287.4 736.9,289.5 737.4,287.2 737.9,289.6 738.4,287.4 738.9,289.5 739.4,287.3 739.9,289.5 740.4,287.3 740.9,289.6 741.4,287.4 741.9,289.5 742.4,287.4 742.9,289.5 743.4,287.3 743.9,289.6 744.4,287.2 744.9,289.5 745.4,287.3 745.9,289.5 746.4,287.3 746.9,289.6 747.4,287.4 747.9,289.4 748.4,287.2 748.9,289.5 749.4,287.4 749.9,289.4 750.4,287.4 750.9,289.4 751.4,287.4 751.9,289.5 752.4,287.4 752.9,289.5 753.4,287.4 753.9,289.5 754.4,287.4 754.9,289.5 755.4,287.4 755.9,289.4 756.4,287.4 756.9,289.6 757.4,287.2 757.9,289.4 758.4,287.3 758.9,289.4 759.4,287.4 759.9,289.5 760.4,287.3 760.9,289.5 761.4,287.3 761.9,289.5 762.4,287.4 762.9,289.5 763.4,287.3 763.9,289.4 764.4,287.4 764.9,289.4 765.4,287.2 765.9,289.4 766.4,287.3 766.9,289.5 767.4,287.3 767.9,289.4 768.4,287.3 768.9,289.4 769.4,287.4 769.9,289.5 770.4,287.4 770.9,289.5 771.4,287.3 771.9,289.4 772.4,287.4 772.9,289.6 773.4,287.2 773.9,289.6 774.4,287.4 774.9,289.6 775.4,287.3 775.9,289.5 776.4,287.4 776.9,289.4 777.4,287.4 777.9,289.4 778.4,287.3 778.9,289.4 779.4,287.4 779.9,289.5 780.4,287.2 780.9,289.4 781.4,287.3 781.9,289.4 782.4,287.4 782.9,289.5 783.4,287.4 783.9,289.4 784.4,287.3 784.9,289.5 785.4,287.4 785.9,289.4 786.4,287.3 786.9,289.4 787.4,287.4 787.9,289.4 788.4,287.2 788.9,289.6 789.4,287.4 789.9,289.5 790.4,287.3 790.9,289.4 791.4,287.4 791.9,289.6 792.4,287.4 792.9,289.5 793.4,287.3 793.9,289.5 794.4,287.3 794.9,289.4 795.4,287.3 795.9,289.4 796.4,287.3 796.9,289.6 797.4,287.4 797.9,289.5 798.4,287.4 798.9,289.4 799.4,287.4 799.9,289.4 800.4,287.4 800.9,289.4 801.4,287.3 801.9,289.6 802.4,287.3 802.9,289.5 803.4,287.3 803.9,289.4 804.4,287.4 804.9,289.4 805.4,287.3 805.9,289.4 806.4,287.3 806.9,289.4 807.4,287.3 807.9,289.4 808.4,287.4 808.9,289.5 809.4,287.4 809.9,289.5 810.4,287.3 810.9,289.5 811.4,287.3 811.9,289.5 812.4,287.3 812.9,289.5 813.4,287.3 813.9,289.5 814.4,287.3 814.9,289.6 815.4,287.3 815.9,289.6 816.4,287.4 816.9,289.4 817.4,287.4 817.9,289.6 818.4,287.4 818.9,289.5 819.4,287.3 819.9,289.5 820.4,287.3 820.9,289.5 821.4,287.4 821.9,289.5 822.4,287.2 822.9,289.5 823.4,287.3 823.9,289.4 824.4,287.3 824.9,289.5 825.4,287.4 825.9,289.5 826.4,287.4 826.9,289.4 827.4,287.4 827.9,289.6 828.4,287.3 828.9,289.5 829.4,287.2 829.9,289.5 830.4,287.4 830.9,289.5 831.4,287.4 831.9,289.4 832.4,287.4 832.9,289.5 833.4,287.3 833.9,289.4 834.4,287.4 834.9,289.4 835.4,287.3 835.9,289.6 836.4,287.2 836.9,289.5 837.4,287.2 837.9,289.5 838.4,287.4 838.9,289.6 839.4,287.2 839.9,289.5 840.4,287.4 840.9,289.4 841.4,287.3 841.9,289.4 842.4,287.2 842.9,289.4 843.4,287.4 843.9,289.4 844.4,287.3 844.9,289.4 845.4,287.4 845.9,289.4 846.4,287.4 846.9,289.4 847.4,287.2 847.9,289.5 848.4,287.4 848.9,289.4 849.4,287.3 849.9,289.4 850.4,287.3 850.9,289.5 851.4,287.3 851.9,289.4 852.4,287.2 852.9,289.4 853.4,287.3 853.9,289.4 854.4,287.4 854.9,289.4 855.4,287.4 855.9,289.5 856.4,287.4 856.9,289.4 857.4,287.4 857.9,289.6 858.4,287.2 858.9,289.4 859.4,287.3 859.9,289.5 860.4,287.2 860.9,289.6 861.4,287.3 861.9,289.4 862.4,287.3 862.9,289.5 863.4,287.4 863.9,289.4 864.4,287.4 864.9,289.5 865.4,287.4 865.9,289.4 866.4,287.4 866.9,289.5 867.4,287.3 867.9,289.4 868.4,287.3 868.9,289.4 869.4,287.3 869.9,289.5 870.4,287.3 870.9,289.5 871.4,287.3 871.9,289.6 872.4,287.2 872.9,289.5 873.4,287.2 873.9,289.4 874.4,287.4 874.9,289.6 875.4,287.4 875.9,289.5 876.4,287.4 876.9,289.5 877.4,287.3 877.9,289.4 878.4,287.4 878.9,289.4 879.4,287.3 879.9,289.4 880.4,287.3 880.9,289.5 881.4,287.3 881.9,289.5 882.4,287.2 882.9,289.5 883.4,287.4 883.9,289.5 884.4,287.3 884.9,289.6 885.4,287.4 885.9,289.5 886.4,287.2 886.9,289.5 887.4,287.2 887.9,289.6 888.4,287.2 888.9,289.5 889.4,287.4 889.9,289.5 890.4,287.3 890.9,289.4 891.4,287.4 891.9,289.6 892.4,287.4 892.9,289.4 893.4,287.2 893.9,289.6 894.4,287.4 894.9,289.6 895.4,287.3 895.9,289.5 896.4,287.3 896.9,289.5 897.4,287.3 897.9,289.4 898.4,287.2 898.9,289.5 899.4,287.4 899.9,289.4 900.4,287.4 900.9,289.5 901.4,287.2 901.9,289.4 902.4,287.3 902.9,289.6 903.4,287.3 903.9,289.6 904.4,287.2 904.9,289.5 905.4,287.3 905.9,289.5 906.4,287.4 906.9,289.5 907.4,287.3 907.9,289.4 908.4,287.4 908.9,289.5 909.4,287.2 909.9,289.6 910.4,287.4 910.9,289.6 911.4,287.4 911.9,289.5 912.4,287.2 912.9,289.5 913.4,287.2 913.9,289.4 914.4,287.3 914.9,289.4 915.4,287.3 915.9,289.4 916.4,287.3 916.9,289.5 917.4,287.3 917.9,289.5 918.4,287.2 918.9,289.4 919.4,287.3 919.9,289.4 920.4,287.4 920.9,289.5 921.4,287.3 921.9,289.5 922.4,287.4 922.9,289.5 923.4,287.3 923.9,289.5 924.4,287.3 924.9,289.4 925.4,287.3 925.9,289.5 926.4,287.4 926.9,289.6 927.4,287.4 927.9,289.6 928.4,287.2 928.9,289.6 929.4,287.4 929.9,289.5 930.4,287.4 930.9,289.5 931.4,287.3 931.9,289.5 932.4,287.3 932.9,289.4 933.4,287.2 933.9,289.6 934.4,287.3 934.9,289.4 935.4,287.2 935.9,289.5 936.4,287.2 936.9,289.5 937.4,287.2 937.9,289.5 938.4,287.4 938.9,289.4 939.4,287.4 939.9,289.4 940.4,287.4 940.9,289.6 941.4,287.4 941.9,289.4 942.4,287.3 942.9,289.5 943.4,287.3 943.9,289.4 944.4,287.4 944.9,289.4 945.4,287.2 945.9,289.5 946.4,287.3 946.9,289.4 947.4,287.2 947.9,289.6 948.4,287.3 948.9,289.6 949.4,287.3 949.6,289.4" fill="none" stroke="#008000" stroke-width="4.6" stroke-linejoin="round" stroke-linecap="butt" />
<polyline points="165.4,287.3 165.9,289.5 166.4,287.3 166.9,289.4 167.4,287.4 167.9,289.4 168.4,287.4 168.9,289.6 169.4,287.3 169.9,289.5 170.4,287.3 170.9,289.5 171.4,287.4 171.9,289.5 172.4,287.4 172.9,289.6 173.4,287.4 173.9,289.6 174.4,287.4 174.9,289.5 175.4,287.4 175.9,289.5 176.4,287.2 176.9,289.4 177.4,287.4 177.9,289.6 178.4,287.3 178.9,289.4 179.4,287.2 179.9,289.6 180.4,287.4 180.9,289.5 181.4,287.4 181.9,289.4 182.4,287.3 182.9,289.4 183.4,287.3 183.9,289.4 184.4,287.4 184.9,289.6 185.4,287.3 185.9,289.5 186.4,287.3 186.9,289.5 187.4,287.3 187.9,289.4 188.4,287.3 188.9,289.6 189.4,287.2 189.9,289.5 190.4,287.4 190.9,289.4 191.4,287.3 191.9,289.5 192.4,287.4 192.9,289.4 193.4,287.4 193.9,289.5 194.4,287.2 194.9,289.5 195.4,287.4 195.9,289.6 196.4,287.3 196.9,289.5 197.4,287.4 197.9,289.5 198.4,287.3 198.9,289.5 199.4,287.4 199.9,289.5 200.4,287.4 200.9,289.5 201.4,287.4 201.9,289.4 202.4,287.4 202.9,289.5 203.4,287.4 203.9,289.5 204.4,287.4 204.9,289.4 205.4,287.3 205.9,289.6 206.4,287.3 206.9,289.6 207.4,287.4 207.9,289.6 208.4,287.4 208.9,289.4 209.4,287.3 209.9,289.6 210.4,287.4 210.9,289.4 211.4,287.3 211.9,289.4 212.4,287.4 212.9,289.4 213.4,287.4 213.9,289.5 214.4,287.2 214.9,289.6 215.4,287.3 215.9,289.4 216.4,287.4 216.9,289.5 217.4,287.2 217.9,289.5 218.4,287.4 218.9,289.5 219.4,287.3 219.9,289.5 220.4,287.4 220.9,289.6 221.4,287.2 221.9,289.4 222.4,287.4 222.9,289.6 223.4,287.4 223.9,289.6 224.4,287.3 224.9,289.5 225.4,287.3 225.9,289.4 226.4,287.4 226.9,289.4 227.4,287.3 227.9,289.5 228.4,287.4 228.9,289.6 229.4,287.3 229.9,289.4 230.4,287.3 230.9,289.6 231.4,287.3 231.9,289.5 232.4,287.2 232.9,289.6 233.4,287.3 233.9,289.5 234.4,287.3 234.9,289.6 235.4,287.3 235.9,289.5 236.4,287.4 236.9,289.4 237.4,287.3 237.9,289.5 238.4,287.4 238.9,289.5 239.4,287.2 239.9,289.6 240.4,287.2 240.9,289.6 241.4,287.3 241.9,289.5 242.4,287.3 242.9,289.4 243.4,287.4 243.9,289.4 244.4,287.2 244.9,289.5 245.4,287.3 245.9,289.5 246.4,287.4 246.9,289.5 247.4,287.3 247.9,289.5 248.4,287.4 248.9,289.5 249.4,287.4 249.9,289.5 250.4,287.4 250.9,289.4 251.4,287.4 251.9,289.5 252.4,287.3 252.9,289.5 253.4,287.2 253.9,289.4 254.4,287.4 254.9,289.5 255.4,287.3 255.9,289.4 256.4,287.3 256.9,289.4 257.4,287.4 257.9,289.4 258.4,287.2 258.9,289.4 259.4,287.4 259.9,289.4 260.4,287.4 260.9,289.5 261.4,287.4 261.9,289.6 262.4,287.3 262.9,289.5 263.4,287.4 263.9,289.5 264.4,287.3 264.9,289.6 265.4,287.4 265.9,289.5 266.4,287.2 266.9,289.6 267.4,287.4 267.9,289.5 268.4,287.3 268.9,289.5 269.4,287.3 269.9,289.5 270.4,287.2 270.9,289.5 271.4,287.3 271.9,289.4 272.4,287.3 272.9,289.4 273.4,287.3 273.9,289.4 274.4,287.4 274.9,289.4 275.4,287.4 275.9,289.5 276.4,287.4 276.9,289.4 277.4,287.2 277.9,289.4 278.4,287.2 278.9,289.5 279.4,287.3 279.9,289.6 280.4,287.2 280.9,289.4 281.4,287.4 281.9,289.5 282.4,287.2 282.9,289.5 283.4,287.3 283.9,289.5 284.4,287.3 284.9,289.4 285.4,287.3 285.9,289.5 286.4,287.3 286.9,289.5 287.4,287.2 287.9,289.4 288.4,287.4 288.9,289.4 289.4,287.2 289.9,289.5 290.4,287.4 290.9,289.6 291.4,287.2 291.9,289.6 292.4,287.4 292.9,289.5 293.4,287.4 293.9,289.4 294.4,287.2 294.9,289.6 295.4,287.4 295.9,289.6 296.4,287.4 296.9,289.4 297.4,287.4 297.9,289.4 298.4,287.4 298.9,289.5 299.4,287.4 299.9,289.4 300.4,287.4 300.9,289.4 301.4,287.2 301.9,289.5 302.4,287.4 302.9,289.5 303.4,287.3 303.9,289.5 304.4,287.3 304.9,289.5 305.4,287.2 305.9,289.5 306.4,287.3 306.9,289.5 307.4,287.3 307.9,289.5 308.4,287.3 308.9,289.5 309.4,287.3 309.9,289.4 310.4,287.2 310.9,289.5 311.4,287.2 311.9,289.5 312.4,287.2 312.9,289.5 313.4,287.3 313.9,289.5 314.4,287.3 314.9,289.5 315.4,287.2 315.9,289.4 316.4,287.4 316.9,289.4 317.4,287.4 317.9,289.4 318.4,287.4 318.9,289.4 319.4,287.4 319.9,289.5 320.4,287.3 320.9,289.6 321.4,287.2 321.9,289.5 322.4,287.2 322.9,289.4 323.4,287.4 323.9,289.6 324.4,287.3 324.9,289.4 325.4,287.3 325.9,289.5 326.4,287.3 326.9,289.4 327.4,287.4 327.9,289.4 328.4,287.3 328.9,289.6 329.4,287.2 329.9,289.5 330.4,287.2 330.9,289.4 331.4,287.4 331.9,289.6 332.4,287.3 332.9,289.5 333.4,287.4 333.9,289.4 334.4,287.3 334.9,289.5 335.4,287.2 335.9,289.5 336.4,287.4 336.9,289.5 337.4,287.2 337.9,289.6 338.4,287.3 338.9,289.4 339.4,287.3 339.9,289.5 340.4,287.4 340.9,289.4 341.4,287.3 341.9,289.5 342.4,287.4 342.9,289.5 343.4,287.2 343.9,289.5 344.4,287.4 344.9,289.5 345.4,287.4 345.9,289.5 346.4,287.3 346.9,289.4 347.4,287.3 347.9,289.5 348.4,287.3 348.9,289.5 349.4,287.4 349.9,289.4 350.4,287.2 350.9,289.4 351.4,287.3 351.9,289.5 352.4,287.4 352.9,289.5 353.4,287.4 353.9,289.4 354.4,287.4 354.9,289.4 355.4,287.2 355.9,289.4 356.4,287.4 356.9,289.5 357.4,287.3 357.9,289.5 358.4,287.3 358.9,289.4 359.4,287.3 359.9,289.4 360.4,287.4 360.9,289.6 361.4,287.2 361.9,289.5 362.4,287.4 362.9,289.5 363.4,287.4 363.9,289.6 364.4,287.4 364.9,289.4 365.4,287.3 365.9,289.5 366.4,287.3 366.9,289.5 367.4,287.2 367.9,289.5 368.4,287.2 368.9,289.5 369.4,287.3 369.9,289.4 370.4,287.3 370.9,289.5 371.4,287.4 371.9,289.5 372.4,287.3 372.9,289.5 373.4,287.3 373.9,289.5 374.4,287.3 374.9,289.4 375.4,287.4 375.9,289.4 376.4,287.2 376.9,289.5 377.4,287.3 377.9,289.6 378.4,287.2 378.9,289.4 379.4,287.2 379.9,289.5 380.4,287.4 380.9,289.4 381.4,287.3 381.9,289.4 382.4,287.4 382.9,289.4 383.4,287.4 383.9,289.4 384.4,287.4 384.9,289.6 385.4,287.3 385.9,289.5 386.4,287.3 386.9,289.6 387.4,287.4 387.9,289.4 388.4,287.2 388.9,289.6 389.4,287.2 389.9,289.5 390.4,287.4 390.9,289.4 391.4,287.2 391.9,289.5 392.4,287.3 392.9,289.5 393.4,287.4 393.9,289.5 394.4,287.2 394.9,289.4 395.4,287.3 395.9,289.4 396.4,287.2 396.9,289.6 397.4,287.3 397.9,289.5 398.4,287.4 398.9,289.5 399.4,287.4 399.9,289.5 400.4,287.4 400.9,289.6 401.4,287.3 401.9,289.5 402.4,287.2 402.9,289.6 403.4,287.3 403.9,289.5 404.4,287.2 404.9,289.4 405.4,287.2 405.9,289.4 406.4,287.2 406.9,289.5 407.4,287.3 407.9,289.6 408.4,287.4 408.9,289.5 409.4,287.2 409.9,289.5 410.4,287.3 410.9,289.5 411.4,287.3 411.9,289.6 412.4,287.3 412.9,289.4 413.4,287.4 413.9,289.4 414.4,287.4 414.9,289.4 415.4,287.2 415.9,289.4 416.4,287.3 416.9,289.4 417.4,287.2 417.9,289.5 418.4,287.4 418.9,289.6 419.4,287.2 419.9,289.6 420.4,287.4 420.9,289.5 421.4,287.3 421.9,289.4 422.4,287.3 422.9,289.5 423.4,287.3 423.9,289.6 424.4,287.3 424.9,289.4 425.4,287.3 425.9,289.5 426.4,287.4 426.9,289.4 427.4,287.3 427.9,289.4 428.4,287.4 428.9,289.5 429.4,287.3 429.9,289.4 430.4,287.3 430.9,289.5 431.4,287.3 431.9,289.6 432.4,287.2 432.9,289.4 433.4,287.2 433.9,289.4 434.4,287.2 434.9,289.4 435.4,287.4 435.9,289.6 436.4,287.3 436.9,289.5 437.4,287.4 437.9,289.4 438.4,287.2 438.9,289.4 439.4,287.4 439.9,289.5 440.4,287.2 440.9,289.5 441.4,287.2 441.9,289.5 442.4,287.3 442.9,289.6 443.4,287.4 443.9,289.4 444.4,287.2 444.9,289.6 445.4,287.3 445.9,289.5 446.4,287.4 446.9,289.4 447.4,287.4 447.9,289.4 448.4,287.3 448.9,289.6 449.4,287.2 449.9,289.5 450.4,287.3 450.9,289.5 451.4,287.3 451.9,289.5 452.4,287.2 452.9,289.6 453.4,287.3 453.9,289.5 454.4,287.4 454.9,289.5 455.4,287.3 455.9,289.4 456.4,287.4 456.9,289.5 457.4,287.4 457.9,289.5 458.4,287.4 458.9,289.6 459.4,287.3 459.9,289.5 460.4,287.3 460.9,289.5 461.4,287.4 461.9,289.6 462.4,287.2 462.9,289.5 463.4,287.3 463.9,289.4 464.4,287.3 464.9,289.4 465.4,287.4 465.9,289.5 466.4,287.4 466.9,289.4 467.4,287.3 467.9,289.5 468.4,287.2 468.9,289.4 469.4,287.4 469.9,289.6 470.4,287.3 470.9,289.5 471.4,287.3 471.9,289.4 472.4,287.2 472.9,289.5 473.4,287.2 473.9,289.4 474.4,287.4 474.9,289.5 475.4,287.4 475.9,289.6 476.4,287.4 476.9,289.4 477.4,287.4 477.9,289.4 478.4,287.2 478.9,289.6 479.4,287.3 479.9,289.5 480.4,287.4 480.9,289.6 481.4,287.4 481.9,289.4 482.4,287.3 482.9,289.6 483.4,287.4 483.9,289.4 484.4,287.2 484.9,289.4 485.4,287.3 485.9,289.4 486.4,287.4 486.9,289.4 487.4,287.3 487.9,289.6 488.4,287.2 488.9,289.5 489.4,287.4 489.9,289.4 490.4,287.4 490.9,289.6 491.4,287.2 491.9,289.4 492.4,287.4 492.9,289.6 493.4,287.4 493.9,289.4 494.4,287.4 494.9,289.6 495.4,287.4 495.9,289.5 496.4,287.4 496.9,289.5 497.4,287.4 497.9,289.5 498.4,287.3 498.9,289.6 499.4,287.3 499.9,289.6 500.4,287.3 500.9,289.6 501.4,287.2 501.9,289.6 502.4,287.4 502.9,289.4 503.4,287.3 503.9,289.6 504.4,287.4 504.9,289.5 505.4,287.3 505.9,289.4 506.4,287.4 506.9,289.4 507.4,287.4 507.9,289.6 508.4,287.3 508.9,289.6 509.4,287.2 509.9,289.5 510.4,287.3 510.9,289.5 511.4,287.3 511.9,289.4 512.4,287.2 512.9,289.4 513.4,287.3 513.9,289.5 514.4,287.3 514.9,289.6 515.4,287.4 515.9,289.4 516.4,287.3 516.9,289.4 517.4,287.2 517.9,289.4 518.4,287.3 518.9,289.4 519.4,287.3 519.9,289.4 520.4,287.4 520.9,289.4 521.4,287.4 521.9,289.5 522.4,287.2 522.9,289.4 523.4,287.3 523.9,289.4 524.4,287.4 524.9,289.4 525.4,287.4 525.9,289.5 526.4,287.4 526.9,289.4 527.4,287.4 527.9,289.6 528.4,287.3 528.9,289.6 529.4,287.2 529.9,289.5 530.4,287.4 530.9,289.4 531.4,287.2 531.9,289.5 532.4,287.3 532.9,289.4 533.4,287.2 533.9,289.5 534.4,287.4 534.9,289.4 535.4,287.2 535.9,289.5 536.4,287.4 536.9,289.4 537.4,287.3 537.9,289.4 538.4,287.3 538.9,289.4 539.4,287.4 539.9,289.5 540.4,287.3 540.9,289.4 541.4,287.4 541.9,289.5 542.4,287.4 542.9,289.4 543.4,287.3 543.9,289.4 544.4,287.3 544.9,289.5 545.4,287.3 545.9,289.6 546.4,287.4 546.9,289.5 547.4,287.3 547.9,289.4 548.4,287.2 548.9,289.4 549.4,287.2 549.9,289.5 550.4,287.2 550.9,289.4 551.4,287.2 551.9,289.6 552.4,287.3 552.9,289.5 553.4,287.3 553.9,289.5 554.4,287.2 554.9,289.5 555.4,287.3 555.9,289.5 556.4,287.3 556.9,289.5 557.4,287.2 557.9,289.5 558.4,287.4 558.9,289.5 559.4,287.4 559.9,289.5 560.4,287.3 560.9,289.5 561.4,287.4 561.9,289.4 562.4,287.4 562.9,289.5 563.4,287.4 563.9,289.5 564.4,287.2 564.9,289.5 565.4,287.4 565.9,289.5 566.4,287.3 566.9,289.5 567.4,287.4 567.9,289.5 568.4,287.4 568.9,289.6 569.4,287.3 569.9,289.5 570.4,287.2 570.9,289.6 571.4,287.4 571.9,289.6 572.4,287.4 572.9,289.6 573.4,287.3 573.9,289.4 574.4,287.3 574.9,289.5 575.4,287.3 575.9,289.5 576.4,287.3 576.9,289.5 577.4,287.3 577.9,289.4 578.4,287.3 578.9,289.5 579.4,287.2 579.9,289.5 580.4,287.3 580.9,289.4 581.4,287.4 581.9,289.6 582.4,287.4 582.9,289.6 583.4,287.4 583.9,289.5 584.4,287.3 584.9,289.4 585.4,287.3 585.9,289.6 586.4,287.3 586.9,289.4 587.4,287.4 587.9,289.6 588.4,287.4 588.9,289.5 589.4,287.3 589.9,289.4 590.4,287.3 590.9,289.5 591.4,287.4 591.9,289.4 592.4,287.2 592.9,289.4 593.4,287.3 593.9,289.5 594.4,287.3 594.9,289.6 595.4,287.3 595.9,289.5 596.4,287.3 596.9,289.4 597.4,287.3 597.9,289.5 598.4,287.3 598.9,289.5 599.4,287.4 599.9,289.5 600.4,287.2 600.9,289.5 601.4,287.3 601.9,289.4 602.4,287.4 602.9,289.4 603.4,287.3 603.9,289.4 604.4,287.2 604.9,289.4 605.4,287.4 605.9,289.4 606.4,287.3 606.9,289.5 607.4,287.2 607.9,289.4 608.4,287.2 608.9,289.6 609.4,287.3 609.9,289.5 610.4,287.4 610.9,289.4 611.4,287.4 611.9,289.6 612.4,287.2 612.9,289.5 613.4,287.3 613.9,289.5 614.4,287.3 614.9,289.4 615.4,287.3 615.9,289.4 616.4,287.3 616.9,289.5 617.4,287.2 617.9,289.5 618.4,287.4 618.9,289.6 619.4,287.4 619.9,289.5 620.4,287.2 620.9,289.6 621.4,287.4 621.9,289.5 622.4,287.4 622.9,289.6 623.4,287.3 623.9,289.6 624.4,287.2 624.9,289.5 625.4,287.3 625.9,289.5 626.4,287.4 626.9,289.4 627.4,287.4 627.9,289.6 628.4,287.3 628.9,289.4 629.4,287.3 629.9,289.6 630.4,287.4 630.9,289.5 631.4,287.4 631.9,289.5 632.4,287.3 632.9,289.5 633.4,287.3 633.9,289.4 634.4,287.2 634.9,289.4 635.4,287.3 635.9,289.6 636.4,287.4 636.9,289.5 637.4,287.3 637.9,289.5 638.4,287.4 638.9,289.5 639.4,287.2 639.9,289.5 640.4,287.4 640.9,289.5 641.4,287.2 641.9,289.5 642.4,287.2 642.9,289.4 643.4,287.4 643.9,289.6 644.4,287.4 644.9,289.4 645.4,287.4 645.9,289.6 646.4,287.2 646.9,289.4 647.4,287.3 647.9,289.4 648.4,287.3 648.9,289.4 649.4,287.3 649.9,289.5 650.4,287.3 650.9,289.5 651.4,287.4 651.9,289.5 652.4,287.3 652.9,289.4 653.4,287.3 653.9,289.5 654.4,287.2 654.9,289.5 655.4,287.4 655.9,289.6 656.4,287.2 656.9,289.5 657.4,287.3 657.9,289.5 658.4,287.3 658.9,289.4 659.4,287.3 659.9,289.4 660.4,287.2 660.9,289.5 661.4,287.3 661.9,289.5 662.4,287.3 662.9,289.4 663.4,287.3 663.9,289.5 664.4,287.4 664.9,289.5 665.4,287.4 665.9,289.5 666.4,287.3 666.9,289.4 667.4,287.4 667.9,289.6 668.4,287.3 668.9,289.4 669.4,287.4 669.9,289.5 670.4,287.4 670.9,289.6 671.4,287.3 671.9,289.4 672.4,287.3 672.9,289.4 673.4,287.4 673.9,289.5 674.4,287.2 674.9,289.5 675.4,287.2 675.9,289.4 676.4,287.4 676.9,289.6 677.4,287.3 677.9,289.4 678.4,287.3 678.9,289.5 679.4,287.4 679.9,289.4 680.4,287.3 680.9,289.5 681.4,287.3 681.9,289.4 682.4,287.2 682.9,289.5 683.4,287.3 683.9,289.6 684.4,287.4 684.9,289.5 685.4,287.3 685.9,289.5 686.4,287.4 686.9,289.4 687.4,287.4 687.9,289.5 688.4,287.4 688.9,289.6 689.4,287.2 689.9,289.5 690.4,287.3 690.9,289.6 691.4,287.3 691.9,289.5 692.4,287.2 692.9,289.4 693.4,287.3 693.9,289.6 694.4,287.3 694.9,289.4 695.4,287.4 695.9,289.6 696.4,287.4 696.9,289.4 697.4,287.4 697.9,289.5 698.4,287.3 698.9,289.6 699.4,287.3 699.9,289.4 700.4,287.2 700.9,289.6 701.4,287.2 701.9,289.6 702.4,287.2 702.9,289.5 703.4,287.3 703.9,289.4 704.4,287.2 704.9,289.4 705.4,287.3 705.9,289.5 706.4,287.3 706.9,289.4 707.4,287.3 707.9,289.4 708.4,287.3 708.9,289.4 709.4,287.4 709.9,289.5 710.4,287.3 710.9,289.4 711.4,287.3 711.9,289.6 712.4,287.3 712.9,289.5 713.4,287.3 713.9,289.6 714.4,287.3 714.9,289.6 715.4,287.3 715.9,289.6 716.4,287.3 716.9,289.6 717.4,287.2 717.9,289.6 718.4,287.2 718.9,289.4 719.4,287.4 719.9,289.6 720.4,287.2 720.9,289.5 721.4,287.3 721.9,289.4 722.4,287.3 722.9,289.4 723.4,287.3 723.9,289.4 724.4,287.3 724.9,289.4 725.4,287.4 725.9,289.5 726.4,287.3 726.9,289.4 727.4,287.2 727.9,289.4 728.4,287.3 728.9,289.5 729.4,287.3 729.9,289.5 730.4,287.2 730.9,289.4 731.4,287.3 731.9,289.4 732.4,287.3 732.9,289.5 733.4,287.3 733.9,289.6 734.4,287.3 734.9,289.5 735.4,287.3 735.9,289.4 736.4,287.2 736.9,289.5 737.4,287.3 737.9,289.6 738.4,287.2 738.9,289.6 739.4,287.3 739.9,289.5 740.4,287.3 740.9,289.5 741.4,287.3 741.9,289.4 742.4,287.3 742.9,289.5 743.4,287.4 743.9,289.6 744.4,287.3 744.9,289.6 745.4,287.4 745.9,289.5 746.4,287.3 746.9,289.4 747.4,287.4 747.9,289.4 748.4,287.2 748.9,289.4 749.4,287.4 749.9,289.4 750.4,287.3 750.9,289.5 751.4,287.2 751.9,289.4 752.4,287.4 752.9,289.6 753.4,287.2 753.9,289.4 754.4,287.3 754.9,289.6 755.4,287.2 755.9,289.4 756.4,287.3 756.9,289.4 757.4,287.4 757.9,289.6 758.4,287.4 758.9,289.6 759.4,287.3 759.9,289.6 760.4,287.3 760.9,289.6 761.4,287.3 761.9,289.4 762.4,287.4 762.9,289.4 763.4,287.3 763.9,289.4 764.4,287.4 764.9,289.5 765.4,287.4 765.9,289.4 766.4,287.3 766.9,289.4 767.4,287.3 767.9,289.4 768.4,287.4 768.9,289.5 769.4,287.2 769.9,289.4 770.4,287.2 770.9,289.4 771.4,287.2 771.9,289.5 772.4,287.3 772.9,289.5 773.4,287.3 773.9,289.5 774.4,288.2 774.9,288.6 775.4,288.2 775.5,288.6 775.9,286.5 776.4,284.8 776.9,282.2 777.4,280.5 777.9,278.0 778.4,276.2 778.9,278.2 779.4,281.0 779.9,283.0 780.4,285.7 780.9,287.7 781.0,288.6 781.4,288.2 781.9,288.6 782.4,287.4 782.9,289.6 783.4,287.4 783.9,289.4 784.4,287.2 784.9,289.6 785.4,287.4 785.9,289.5 786.4,287.2 786.9,289.4 787.4,287.4 787.9,289.4 788.4,287.4 788.9,289.5 789.4,287.3 789.9,289.6 790.4,287.3 790.9,289.4 791.4,287.3 791.9,289.4 792.4,287.3 792.9,289.5 793.4,287.4 793.9,289.5 794.4,287.2 794.9,289.5 795.4,287.4 795.9,289.5 796.4,287.4 796.9,289.4 797.4,287.2 797.9,289.5 798.4,287.3 798.9,289.5 799.4,287.4 799.9,289.6 800.4,287.3 800.9,289.6 801.4,287.3 801.9,289.4 802.4,287.2 802.9,289.4 803.4,287.3 803.9,289.6 804.4,287.2 804.9,289.5 805.4,287.4 805.9,289.4 806.4,287.2 806.9,289.4 807.4,287.4 807.9,289.5 808.4,287.3 808.9,289.5 809.4,287.4 809.9,289.5 810.4,287.2 810.9,289.4 811.4,287.3 811.9,289.5 812.4,287.4 812.9,289.4 813.4,287.4 813.9,289.5 814.4,287.4 814.9,289.5 815.4,287.4 815.9,289.4 816.4,287.2 816.9,289.5 817.4,287.3 817.9,289.4 818.4,287.3 818.9,289.5 819.4,287.3 819.9,289.5 820.4,287.4 820.9,289.4 821.4,287.2 821.9,289.5 822.4,287.3 822.9,289.4 823.4,287.3 823.9,289.6 824.4,287.4 824.9,289.4 825.4,287.4 825.9,289.4 826.4,287.3 826.9,289.5 827.4,287.4 827.9,289.4 828.4,287.4 828.9,289.6 829.4,287.2 829.9,289.6 830.4,287.3 830.9,289.4 831.4,287.2 831.9,289.5 832.4,287.3 832.9,289.5 833.4,287.2 833.9,289.5 834.4,287.4 834.9,289.5 835.4,287.2 835.9,289.4 836.4,287.3 836.9,289.5 837.4,287.2 837.9,289.4 838.4,287.2 838.9,289.4 839.4,287.4 839.9,289.4 840.4,287.3 840.9,289.5 841.4,287.4 841.9,289.5 842.4,287.4 842.9,289.6 843.4,287.2 843.9,289.4 844.4,287.4 844.9,289.4 845.4,287.3 845.9,289.4 846.4,288.4 846.9,288.4 847.3,288.4 847.4,292.5 847.9,313.1 848.1,321.3 848.4,321.3 848.7,321.3 848.9,313.1 849.4,292.5 849.5,288.4 849.9,288.4 850.4,288.4 850.9,289.6 851.4,287.4 851.9,289.5 852.4,287.3 852.9,289.5 853.4,287.3 853.9,289.6 854.4,287.4 854.9,289.5 855.4,287.3 855.9,289.5 856.4,287.4 856.9,289.5 857.4,287.3 857.9,289.4 858.4,287.2 858.9,289.4 859.4,287.3 859.9,289.4 860.4,287.4 860.9,289.4 861.4,287.3 861.9,289.5 862.4,287.3 862.9,289.4 863.4,287.4 863.9,289.6 864.4,287.3 864.9,289.5 865.4,287.3 865.9,289.5 866.4,287.4 866.9,289.6 867.4,287.2 867.9,289.5 868.4,287.4 868.9,289.5 869.4,287.3 869.9,289.4 870.4,287.3 870.9,289.6 871.4,287.4 871.9,289.5 872.4,287.4 872.9,289.4 873.4,287.4 873.9,289.4 874.4,287.2 874.9,289.5 875.4,287.3 875.9,289.4 876.4,287.3 876.9,289.4 877.4,287.4 877.9,289.4 878.4,287.4 878.9,289.5 879.4,287.3 879.9,289.5 880.4,287.4 880.9,289.5 881.4,287.4 881.9,289.4 882.4,287.2 882.9,289.5 883.4,287.4 883.9,289.5 884.4,287.2 884.9,289.6 885.4,287.3 885.9,289.4 886.4,287.4 886.9,289.4 887.4,287.2 887.9,289.5 888.4,287.3 888.9,289.5 889.4,287.4 889.9,289.5 890.4,287.4 890.9,289.4 891.4,287.3 891.9,289.4 892.4,287.3 892.9,289.4 893.4,287.2 893.9,289.4 894.4,287.4 894.9,289.5 895.4,287.4 895.9,289.6 896.4,287.2 896.9,289.6 897.4,287.3 897.9,289.4 898.4,287.4 898.9,289.5 899.4,287.3 899.9,289.5 900.4,287.4 900.9,289.5 901.4,287.2 901.9,289.4 902.4,287.2 902.9,289.4 903.4,287.3 903.9,289.4 904.4,287.4 904.9,289.4 905.4,287.4 905.9,289.5 906.4,287.2 906.9,289.6 907.4,287.2 907.9,289.4 908.4,287.2 908.9,289.5 909.4,287.3 909.9,289.5 910.4,287.4 910.9,289.4 911.4,287.3 911.9,289.4 912.4,287.3 912.9,289.6 913.4,287.3 913.9,289.4 914.4,287.2 914.9,289.5 915.4,287.2 915.9,289.4 916.4,287.2 916.9,289.5 917.4,287.3 917.9,289.4 918.4,287.4 918.9,289.5 919.4,287.3 919.9,289.4 920.4,287.3 920.9,289.5 921.4,287.4 921.9,289.5 922.4,287.4 922.9,289.4 923.4,287.4 923.9,289.5 924.4,287.3 924.9,289.4 925.4,287.2 925.9,289.4 926.4,287.2 926.9,289.4 927.4,287.4 927.9,289.4 928.4,287.3 928.9,289.4 929.4,287.4 929.9,289.6 930.4,287.2 930.9,289.4 931.4,287.4 931.9,289.4 932.4,287.4 932.9,289.5 933.4,287.2 933.9,289.5 934.4,287.4 934.9,289.4 935.4,287.4 935.9,289.4 936.4,287.2 936.9,289.6 937.4,287.4 937.9,289.4 938.4,287.2 938.9,289.4 939.4,287.3 939.9,289.6 940.4,287.4 940.9,289.4 941.4,287.4 941.9,289.5 942.4,287.2 942.9,289.6 943.4,287.3 943.9,289.6 944.4,287.3 944.9,289.5 945.4,287.3 945.9,289.6 946.4,287.4 946.9,289.6 947.4,287.4 947.9,289.5 948.4,287.2 948.9,289.5 949.4,287.3 949.6,289.4" fill="none" stroke="#008000" stroke-width="4.6" stroke-linejoin="round" stroke-linecap="butt" />
<polyline points="165.4,287.1 165.9,289.8 166.4,287.0 166.9,289.9 167.4,287.1 167.9,289.7 168.4,287.2 168.9,289.7 169.4,287.0 169.9,289.6 170.4,287.0 170.9,289.7 171.4,287.1 171.9,289.7 172.4,286.9 172.9,289.8 173.4,287.2 173.9,289.7 174.4,287.2 174.9,289.9 175.4,287.0 175.9,289.8 176.4,287.0 176.9,289.8 177.4,286.9 177.9,289.8 178.4,287.1 178.9,289.9 179.4,287.1 179.9,289.8 180.4,287.0 180.9,289.7 181.4,287.1 181.9,289.7 182.4,287.1 182.9,289.6 183.4,287.0 183.9,289.8 184.4,286.9 184.9,289.8 185.4,287.0 185.9,289.8 186.4,287.2 186.9,289.8 187.4,287.1 187.9,289.7 188.4,287.1 188.9,289.8 189.4,287.1 189.9,289.7 190.4,287.0 190.9,289.7 191.4,287.2 191.9,289.7 192.4,287.1 192.9,289.7 193.4,287.1 193.9,289.7 194.4,287.2 194.9,289.8 195.4,286.9 195.9,289.7 196.4,287.0 196.9,289.9 197.4,287.2 197.9,289.6 198.4,287.0 198.9,289.9 199.4,287.0 199.9,289.6 200.4,287.1 200.9,289.9 201.4,286.9 201.9,289.8 202.4,287.1 202.9,289.9 203.4,287.1 203.9,289.8 204.4,287.2 204.9,289.9 205.4,287.0 205.9,289.8 206.4,287.1 206.9,289.8 207.4,287.0 207.9,289.8 208.4,287.1 208.9,289.8 209.4,287.1 209.9,289.7 210.4,287.2 210.9,289.8 211.4,287.2 211.9,289.7 212.4,287.2 212.9,289.8 213.4,287.0 213.9,289.8 214.4,287.2 214.9,289.7 215.4,287.1 215.9,289.6 216.4,287.2 216.9,289.9 217.4,287.2 217.9,289.7 218.4,287.1 218.9,289.8 219.4,287.2 219.9,289.7 220.4,287.1 220.9,289.9 221.4,287.2 221.9,289.7 222.4,287.1 222.9,289.9 223.4,287.0 223.9,289.7 224.4,287.0 224.9,289.7 225.4,287.2 225.9,289.8 226.4,286.9 226.9,289.8 227.4,287.1 227.9,289.8 228.4,286.9 228.9,289.7 229.4,287.0 229.9,289.7 230.4,287.1 230.9,289.7 231.4,287.1 231.9,289.7 232.4,287.2 232.9,289.7 233.4,287.2 233.9,289.8 234.4,287.0 234.9,289.6 235.4,287.0 235.9,289.7 236.4,287.1 236.9,289.8 237.4,287.1 237.9,289.7 238.4,287.1 238.9,289.6 239.4,286.9 239.9,289.6 240.4,287.0 240.9,289.7 241.4,287.1 241.9,289.7 242.4,287.2 242.9,289.6 243.4,287.1 243.9,289.7 244.4,286.9 244.9,289.9 245.4,287.2 245.9,289.8 246.4,287.2 246.9,289.8 247.4,287.1 247.9,289.9 248.4,287.0 248.9,289.6 249.4,287.2 249.9,289.7 250.4,286.9 250.9,289.6 251.4,287.1 251.9,289.7 252.4,287.1 252.9,289.8 253.4,287.1 253.9,289.8 254.4,287.0 254.9,289.9 255.4,287.0 255.9,289.9 256.4,287.1 256.9,289.8 257.4,287.0 257.9,289.9 258.4,286.9 258.9,289.6 259.4,287.2 259.9,289.8 260.4,287.0 260.9,289.8 261.4,287.1 261.9,289.9 262.4,287.1 262.9,289.6 263.4,287.2 263.9,289.6 264.4,287.0 264.9,289.6 265.4,287.0 265.9,289.9 266.4,286.9 266.9,289.8 267.4,287.1 267.9,289.8 268.4,287.0 268.9,289.8 269.4,287.1 269.9,289.8 270.4,287.2 270.9,289.7 271.4,286.9 271.9,289.7 272.4,287.1 272.9,289.8 273.4,287.1 273.9,289.6 274.4,287.2 274.9,289.7 275.4,287.1 275.9,289.9 276.4,287.1 276.9,289.9 277.4,286.9 277.9,289.7 278.4,286.9 278.9,289.8 279.4,287.1 279.9,289.7 280.4,287.1 280.9,289.9 281.4,287.0 281.9,289.7 282.4,287.1 282.9,289.7 283.4,287.1 283.9,289.8 284.4,287.2 284.9,289.8 285.4,287.1 285.9,289.6 286.4,287.0 286.9,289.7 287.4,286.9 287.9,289.7 288.4,287.0 288.9,289.9 289.4,287.1 289.9,289.8 290.4,287.0 290.9,289.7 291.4,286.9 291.9,289.6 292.4,286.9 292.9,289.6 293.4,286.9 293.9,289.6 294.4,287.2 294.9,289.8 295.4,286.9 295.9,289.7 296.4,287.1 296.9,289.8 297.4,287.1 297.9,289.8 298.4,287.2 298.9,289.7 299.4,287.0 299.9,289.7 300.4,287.1 300.9,289.6 301.4,287.0 301.9,289.7 302.4,286.9 302.9,289.8 303.4,287.2 303.9,289.9 304.4,286.9 304.9,289.8 305.4,287.0 305.9,289.8 306.4,287.0 306.9,289.8 307.4,287.0 307.9,289.7 308.4,287.2 308.9,289.8 309.4,287.0 309.9,289.6 310.4,287.0 310.9,289.8 311.4,287.0 311.9,289.8 312.4,286.9 312.9,289.7 313.4,287.0 313.9,289.7 314.4,287.0 314.9,289.7 315.4,286.9 315.9,289.7 316.4,286.9 316.9,289.7 317.4,287.0 317.9,289.9 318.4,287.0 318.9,289.7 319.4,287.2 319.9,289.7 320.4,287.1 320.9,289.8 321.4,287.0 321.9,289.9 322.4,287.1 322.9,289.7 323.4,287.0 323.9,289.8 324.4,287.2 324.9,289.7 325.4,287.2 325.9,289.7 326.4,287.1 326.9,289.9 327.4,287.1 327.9,289.9 328.4,287.1 328.9,289.7 329.4,286.9 329.9,289.6 330.4,287.2 330.9,289.6 331.4,287.2 331.9,289.7 332.4,287.1 332.9,289.6 333.4,287.2 333.9,289.8 334.4,287.2 334.9,289.7 335.4,287.0 335.9,289.9 336.4,287.0 336.9,289.8 337.4,287.0 337.9,289.8 338.4,286.9 338.9,289.6 339.4,287.2 339.9,289.8 340.4,287.0 340.9,289.8 341.4,287.0 341.9,289.7 342.4,287.0 342.9,289.7 343.4,287.1 343.9,289.7 344.4,287.1 344.9,289.8 345.4,287.0 345.9,289.9 346.4,287.1 346.9,289.8 347.4,287.2 347.9,289.8 348.4,287.2 348.9,289.9 349.4,286.9 349.9,289.7 350.4,287.0 350.9,289.7 351.4,287.1 351.9,289.6 352.4,287.1 352.9,289.6 353.4,287.0 353.9,289.8 354.4,287.1 354.9,289.8 355.4,287.1 355.9,289.7 356.4,287.1 356.9,289.6 357.4,286.9 357.9,289.6 358.4,287.2 358.9,289.8 359.4,287.0 359.9,289.7 360.4,287.1 360.9,289.6 361.4,287.2 361.9,289.8 362.4,287.1 362.9,289.6 363.4,286.9 363.9,289.6 364.4,287.1 364.9,289.8 365.4,287.0 365.9,289.6 366.4,287.0 366.9,289.8 367.4,287.0 367.9,289.9 368.4,287.0 368.9,289.8 369.4,287.0 369.9,289.7 370.4,287.0 370.9,289.8 371.4,287.0 371.9,289.7 372.4,287.2 372.9,289.8 373.4,287.1 373.9,289.7 374.4,287.1 374.9,289.8 375.4,287.1 375.9,289.9 376.4,287.0 376.9,289.8 377.4,287.0 377.9,289.7 378.4,287.0 378.9,289.8 379.4,287.0 379.9,289.8 380.4,286.9 380.9,289.8 381.4,287.0 381.9,289.7 382.4,287.1 382.9,289.7 383.4,287.1 383.9,289.9 384.4,287.2 384.9,289.7 385.4,287.0 385.9,289.7 386.4,286.9 386.9,289.6 387.4,287.0 387.9,289.7 388.4,287.0 388.9,289.6 389.4,287.1 389.9,289.8 390.4,287.0 390.9,289.8 391.4,287.1 391.9,289.6 392.4,287.0 392.9,289.7 393.4,287.0 393.9,289.8 394.4,287.1 394.9,289.9 395.4,287.2 395.9,289.9 396.4,287.2 396.9,289.9 397.4,287.0 397.9,289.7 398.4,286.9 398.9,289.8 399.4,287.0 399.9,289.6 400.4,287.0 400.9,289.8 401.4,287.1 401.9,289.6 402.4,287.1 402.9,289.9 403.4,286.9 403.9,289.7 404.4,287.2 404.9,289.8 405.4,287.1 405.9,289.8 406.4,287.1 406.9,289.9 407.4,287.2 407.9,289.8 408.4,287.0 408.9,289.6 409.4,287.0 409.9,289.7 410.4,287.0 410.9,289.9 411.4,287.0 411.9,289.7 412.4,287.0 412.9,289.7 413.4,287.1 413.9,289.6 414.4,287.0 414.9,289.6 415.4,287.0 415.9,289.7 416.4,287.0 416.9,289.6 417.4,287.2 417.9,289.8 418.4,287.0 418.9,289.9 419.4,287.0 419.9,289.9 420.4,287.2 420.9,289.8 421.4,287.0 421.9,289.7 422.4,287.2 422.9,289.7 423.4,287.0 423.9,289.8 424.4,287.0 424.9,289.8 425.4,287.2 425.9,289.8 426.4,287.0 426.9,289.7 427.4,287.0 427.9,289.7 428.4,287.1 428.9,289.7 429.4,287.0 429.9,289.6 430.4,287.1 430.9,289.7 431.4,287.0 431.9,289.8 432.4,287.1 432.9,289.8 433.4,287.1 433.9,289.7 434.4,287.1 434.9,289.8 435.4,287.0 435.9,289.8 436.4,287.2 436.9,289.8 437.4,287.0 437.9,289.7 438.4,287.1 438.9,289.7 439.4,287.0 439.9,289.7 440.4,287.2 440.9,289.9 441.4,287.1 441.9,289.6 442.4,286.9 442.9,289.6 443.4,287.1 443.9,289.8 444.4,287.0 444.9,289.9 445.4,287.1 445.9,289.8 446.4,286.9 446.9,289.7 447.4,287.0 447.9,289.7 448.4,287.0 448.9,289.9 449.4,287.1 449.9,289.8 450.4,287.1 450.9,289.9 451.4,287.0 451.9,289.9 452.4,286.9 452.9,289.8 453.4,286.9 453.9,289.6 454.4,287.0 454.9,289.6 455.4,287.0 455.9,289.8 456.4,287.1 456.9,289.8 457.4,287.1 457.9,289.7 458.4,287.1 458.9,289.8 459.4,287.1 459.9,289.6 460.4,287.1 460.9,289.9 461.4,287.1 461.9,289.8 462.4,287.1 462.9,289.6 463.4,287.0 463.9,289.7 464.4,287.2 464.9,289.8 465.4,287.0 465.9,289.6 466.4,286.9 466.9,289.6 467.4,287.2 467.9,289.7 468.4,287.0 468.9,289.8 469.4,287.0 469.9,289.7 470.4,286.9 470.9,289.6 471.4,286.9 471.9,289.6 472.4,287.2 472.9,289.8 473.4,287.0 473.9,289.8 474.4,287.1 474.9,289.9 475.4,287.0 475.9,289.7 476.4,287.2 476.9,289.9 477.4,287.2 477.9,289.7 478.4,287.1 478.9,289.9 479.4,287.0 479.9,289.9 480.4,287.0 480.9,289.6 481.4,287.0 481.9,289.7 482.4,286.9 482.9,289.9 483.4,287.2 483.9,289.8 484.4,287.1 484.9,289.6 485.4,286.9 485.9,289.7 486.4,287.1 486.9,289.8 487.4,287.2 487.9,289.7 488.4,287.0 488.9,289.9 489.4,287.2 489.9,289.9 490.4,287.2 490.9,289.7 491.4,287.1 491.9,289.7 492.4,287.2 492.9,289.8 493.4,287.1 493.9,289.7 494.4,287.0 494.9,289.6 495.4,287.0 495.9,289.9 496.4,287.1 496.9,289.7 497.4,287.1 497.9,289.7 498.4,287.1 498.9,289.7 499.4,287.1 499.9,289.8 500.4,287.1 500.9,289.6 501.4,287.2 501.9,289.9 502.4,287.1 502.9,289.8 503.4,287.0 503.9,289.8 504.4,287.1 504.9,289.8 505.4,287.1 505.9,289.8 506.4,286.9 506.9,289.6 507.4,287.1 507.9,289.9 508.4,286.9 508.9,289.8 509.4,286.9 509.9,289.6 510.4,287.0 510.9,289.6 511.4,286.9 511.9,289.7 512.4,287.1 512.9,289.8 513.4,287.1 513.9,289.8 514.4,286.9 514.9,289.7 515.4,287.1 515.9,289.7 516.4,287.1 516.9,289.7 517.4,286.9 517.9,289.9 518.4,287.1 518.9,289.7 519.4,287.1 519.9,289.9 520.4,287.1 520.9,289.7 521.4,287.1 521.9,289.6 522.4,287.2 522.9,289.7 523.4,287.0 523.9,289.9 524.4,287.1 524.9,289.7 525.4,287.0 525.9,289.6 526.4,287.2 526.9,289.8 527.4,287.1 527.9,289.7 528.4,287.1 528.9,289.6 529.4,287.1 529.9,289.7 530.4,287.1 530.9,289.6 531.4,287.0 531.9,289.6 532.4,287.1 532.9,289.7 533.4,287.1 533.9,289.8 534.4,286.9 534.9,289.9 535.4,287.1 535.9,289.8 536.4,287.1 536.9,289.6 537.4,287.1 537.9,289.8 538.4,287.1 538.9,289.8 539.4,287.1 539.9,289.7 540.4,286.9 540.9,289.8 541.4,287.1 541.9,289.9 542.4,287.1 542.9,289.8 543.4,287.1 543.9,289.9 544.4,287.0 544.9,289.7 545.4,287.1 545.9,289.8 546.4,286.9 546.9,289.8 547.4,286.9 547.9,289.8 548.4,287.1 548.9,289.7 549.4,287.1 549.9,289.6 550.4,286.9 550.9,289.8 551.4,287.2 551.9,289.7 552.4,287.1 552.9,289.8 553.4,286.9 553.9,289.8 554.4,287.1 554.9,289.7 555.4,286.9 555.9,289.7 556.4,287.0 556.9,289.6 557.4,287.1 557.9,289.8 558.4,286.9 558.9,289.9 559.4,287.0 559.9,289.7 560.4,286.9 560.9,289.9 561.4,287.2 561.9,289.7 562.4,287.0 562.9,289.7 563.4,287.1 563.9,289.8 564.4,287.1 564.9,289.8 565.4,287.2 565.9,289.7 566.4,286.9 566.9,289.6 567.4,287.2 567.9,289.9 568.4,286.9 568.9,289.8 569.4,287.1 569.9,289.7 570.4,287.0 570.9,289.8 571.4,287.1 571.9,289.8 572.4,287.2 572.9,289.7 573.4,286.9 573.9,289.9 574.4,287.1 574.9,289.8 575.4,286.9 575.9,289.8 576.4,287.2 576.9,289.6 577.4,287.0 577.9,289.7 578.4,287.0 578.9,289.6 579.4,286.9 579.9,289.7 580.4,287.0 580.9,289.8 581.4,287.1 581.9,289.7 582.4,287.0 582.9,289.7 583.4,287.2 583.9,289.7 584.4,287.2 584.9,289.9 585.4,287.1 585.9,289.9 586.4,287.0 586.9,289.9 587.4,287.1 587.9,289.7 588.4,287.2 588.9,289.8 589.4,287.0 589.9,289.8 590.4,286.9 590.9,289.6 591.4,287.0 591.9,289.8 592.4,286.9 592.9,289.7 593.4,286.9 593.9,289.6 594.4,287.0 594.9,289.7 595.4,287.0 595.9,289.7 596.4,287.1 596.9,289.7 597.4,287.1 597.9,289.7 598.4,287.1 598.9,289.7 599.4,287.1 599.9,289.9 600.4,286.9 600.9,289.6 601.4,287.0 601.9,289.6 602.4,287.1 602.9,289.9 603.4,287.1 603.9,289.6 604.4,287.0 604.9,289.8 605.4,287.0 605.9,289.9 606.4,287.0 606.9,289.7 607.4,287.1 607.9,289.8 608.4,287.0 608.9,289.8 609.4,287.1 609.9,289.7 610.4,286.9 610.9,289.9 611.4,287.0 611.9,289.8 612.4,287.1 612.9,289.6 613.4,287.2 613.9,289.8 614.4,286.9 614.9,289.8 615.4,287.0 615.9,289.9 616.4,287.1 616.9,289.7 617.4,287.1 617.9,289.8 618.4,287.0 618.9,289.8 619.4,287.0 619.9,289.9 620.4,287.2 620.9,289.7 621.4,287.1 621.9,289.8 622.4,287.1 622.9,289.7 623.4,287.0 623.9,289.7 624.4,287.0 624.9,289.6 625.4,287.1 625.9,289.8 626.4,286.9 626.9,289.8 627.4,287.0 627.9,289.8 628.4,287.0 628.9,289.7 629.4,287.1 629.9,289.6 630.4,286.9 630.9,289.8 631.4,287.0 631.9,289.8 632.4,287.1 632.9,289.7 633.4,287.0 633.9,289.7 634.4,287.0 634.9,289.9 635.4,287.1 635.9,289.7 636.4,288.0 636.9,288.8 637.4,288.0 637.9,287.0 638.4,284.4 638.9,283.4 639.0,282.3 639.4,284.4 639.9,285.3 640.4,287.8 640.7,288.0 640.9,288.8 641.4,288.0 641.9,288.8 642.4,286.9 642.9,289.7 643.4,287.1 643.9,289.7 644.4,287.1 644.9,289.6 645.4,287.0 645.9,289.7 646.4,287.1 646.9,289.9 647.4,286.9 647.9,289.7 648.4,287.1 648.9,289.6 649.4,287.0 649.9,289.7 650.4,287.2 650.9,289.9 651.4,287.0 651.9,289.9 652.4,287.1 652.9,289.7 653.4,287.0 653.9,289.8 654.4,287.1 654.9,289.8 655.4,287.0 655.9,289.7 656.4,287.1 656.9,289.7 657.4,287.2 657.9,289.6 658.4,287.2 658.9,289.9 659.4,287.1 659.9,289.8 660.4,287.2 660.9,289.9 661.4,287.2 661.9,289.8 662.4,287.0 662.9,289.9 663.4,286.9 663.9,289.6 664.4,287.2 664.9,289.7 665.4,287.2 665.9,289.9 666.4,287.2 666.9,289.8 667.4,286.9 667.9,289.8 668.4,286.9 668.9,289.8 669.4,287.1 669.9,289.9 670.4,287.1 670.9,289.8 671.4,287.1 671.9,289.8 672.4,287.1 672.9,289.9 673.4,286.9 673.9,289.8 674.4,287.1 674.9,289.9 675.4,286.9 675.9,289.6 676.4,286.9 676.9,289.6 677.4,287.2 677.9,289.7 678.4,287.1 678.9,289.7 679.4,288.4 679.9,288.4 680.4,288.4 680.9,303.6 681.4,318.7 681.7,327.8 681.9,327.8 682.3,327.8 682.4,324.5 682.9,308.3 683.4,292.1 683.9,275.9 684.3,262.9 684.4,262.9 684.9,262.9 685.4,267.6 685.9,272.3 686.4,277.1 686.9,281.7 687.4,286.6 687.6,288.3 687.9,288.5 688.4,288.3 688.9,288.5 689.4,287.1 689.9,289.7 690.4,287.0 690.9,289.7 691.4,287.2 691.9,289.8 692.4,287.1 692.9,289.8 693.4,286.9 693.9,289.9 694.4,287.0 694.9,289.9 695.4,287.0 695.9,289.7 696.4,286.9 696.9,289.6 697.4,287.1 697.9,289.8 698.4,288.4 698.9,288.4 699.2,288.4 699.4,273.9 699.9,237.6 700.4,201.4 700.9,165.1 701.4,128.9 701.9,128.9 702.0,128.9 702.4,150.2 702.9,176.8 703.4,203.3 703.9,229.9 704.4,256.5 704.9,283.1 705.0,288.4 705.4,288.4 705.9,288.4 706.4,289.8 706.9,287.1 707.4,289.9 707.9,287.1 708.4,289.6 708.9,287.1 709.4,289.8 709.9,287.0 710.4,289.6 710.9,287.2 711.4,289.9 711.9,286.9 712.4,289.7 712.9,287.0 713.4,289.6 713.9,287.0 714.4,289.7 714.5,287.0 714.9,290.2 715.4,288.3 715.9,291.5 716.4,289.9 716.9,293.1 717.4,289.8 717.9,291.5 718.4,288.1 718.9,289.7 719.0,287.3 719.4,289.7 719.9,287.1 720.4,289.6 720.9,287.0 721.4,289.7 721.9,287.0 722.4,289.9 722.9,286.9 723.4,289.7 723.9,287.2 724.4,289.7 724.9,287.0 725.4,289.9 725.9,287.0 726.4,289.8 726.9,287.0 727.4,289.7 727.9,287.1 728.4,289.8 728.9,287.0 729.4,289.9 729.9,286.9 730.4,289.7 730.9,287.1 731.4,288.5 731.9,288.3 732.4,288.5 732.9,283.4 733.4,278.7 733.9,273.6 734.4,268.9 734.9,263.8 735.4,259.1 735.9,254.1 736.4,249.2 736.9,249.2 737.0,249.2 737.4,256.6 737.9,266.0 738.4,275.3 738.9,284.7 739.1,288.4 739.4,294.1 739.9,303.6 740.4,313.1 740.9,322.6 741.2,328.3 741.4,328.3 741.8,328.3 741.9,327.0 742.4,320.9 742.9,314.7 743.4,308.6 743.9,302.3 744.4,296.3 744.9,290.0 745.0,288.9 745.4,288.8 745.9,289.1 746.4,287.7 746.9,290.7 747.4,289.3 747.9,289.4 748.2,289.5 748.4,296.5 748.9,314.0 749.4,331.5 749.9,348.9 750.4,366.5 750.9,383.9 751.4,401.4 751.9,418.9 752.1,425.9 752.4,425.9 752.7,425.9 752.9,412.0 753.4,377.1 753.9,342.2 754.4,307.4 754.8,279.5 754.9,279.5 755.4,279.3 755.9,279.1 756.4,277.5 756.9,279.9 757.4,277.1 757.9,279.7 758.0,276.7 758.4,279.9 758.9,277.7 759.4,280.9 759.9,278.7 760.0,281.4 760.4,278.5 760.9,279.7 761.4,278.9 761.9,279.1 762.0,278.6 762.4,281.0 762.9,282.9 763.4,285.8 763.9,287.7 764.4,290.5 764.5,290.6 764.9,290.0 765.4,288.3 765.9,287.8 766.4,285.3 766.9,285.3 767.4,282.8 767.9,282.2 768.4,280.7 768.7,280.1 768.9,281.5 769.4,285.8 769.9,289.6 770.4,293.9 770.9,297.7 771.4,302.0 771.9,305.8 772.4,310.1 772.9,313.9 773.4,318.1 773.9,322.0 774.2,324.6 774.4,323.7 774.9,322.2 775.4,320.2 775.9,319.0 776.4,316.5 776.8,315.8 776.9,315.5 777.4,317.8 777.9,318.7 778.4,320.7 778.9,322.2 779.4,323.9 779.6,324.4 779.9,321.2 780.4,315.4 780.9,309.8 781.4,304.0 781.9,298.5 782.4,292.7 782.9,287.2 783.4,281.4 783.9,275.8 784.4,270.1 784.7,266.8 784.9,266.6 785.3,266.8 785.4,268.0 785.9,274.6 786.4,281.0 786.9,287.7 787.4,294.1 787.9,300.7 788.0,301.9 788.4,300.5 788.9,298.3 789.4,296.7 789.9,294.4 790.4,292.4 790.9,290.4 791.0,290.0 791.4,300.8 791.9,314.3 792.4,327.8 792.9,341.3 793.4,354.8 793.9,368.3 794.4,381.8 794.9,381.8 795.0,381.8 795.4,371.2 795.9,357.9 796.4,344.7 796.9,331.4 797.4,318.2 797.9,304.9 798.4,291.7 798.9,278.4 799.0,275.8 799.4,276.4 799.9,277.2 800.4,276.7 800.9,278.9 801.4,279.4 801.9,280.5 802.0,280.3 802.4,278.3 802.9,275.0 803.4,272.4 803.9,269.0 804.4,266.4 804.9,263.1 805.4,260.5 805.9,257.2 806.4,254.4 806.9,251.3 807.1,250.3 807.4,250.1 807.7,250.3 807.9,252.2 808.4,257.6 808.9,262.7 809.4,268.0 809.9,273.1 810.4,278.5 810.9,283.6 811.3,287.9 811.4,287.7 811.9,287.9 812.4,281.8 812.9,276.1 813.4,270.0 813.9,264.3 814.4,258.2 814.9,252.4 815.0,251.1 815.4,251.3 815.6,251.1 815.9,254.9 816.4,261.0 816.9,267.2 817.4,273.3 817.9,279.4 818.4,285.5 818.6,288.0 818.9,294.7 819.4,305.8 819.9,316.9 820.4,328.1 820.9,339.2 821.4,350.3 821.9,350.3 822.0,350.3 822.4,343.8 822.9,335.8 823.4,327.6 823.9,319.6 824.4,311.4 824.9,303.4 825.4,295.2 825.6,292.0 825.9,290.7 826.4,288.8 826.9,286.6 827.4,285.0 827.9,282.3 828.4,280.9 828.9,278.2 829.4,276.7 829.9,274.1 830.4,272.7 830.9,270.0 831.3,269.0 831.4,268.4 831.9,269.0 832.4,270.1 832.9,272.4 833.4,273.4 833.9,275.9 834.4,276.8 834.9,279.3 835.4,280.2 835.9,282.6 836.4,283.5 836.9,286.0 837.4,286.9 837.7,288.7 837.9,287.9 838.4,288.7 838.9,287.9 839.4,289.6 839.9,287.1 840.4,288.4 840.9,288.2 841.4,288.4 841.6,288.2 841.9,284.7 842.4,278.4 842.9,272.4 843.4,266.1 843.9,260.1 844.4,258.4 844.9,256.9 845.4,255.2 845.5,255.1 845.9,250.3 846.4,244.7 846.9,238.8 847.4,233.2 847.9,227.3 848.4,221.6 848.8,217.0 848.9,214.5 849.4,202.1 849.9,189.7 850.1,184.7 850.4,184.7 850.7,184.7 850.9,189.7 851.4,202.1 851.9,214.5 852.0,217.0 852.4,229.2 852.9,244.4 853.4,259.7 853.9,274.9 854.1,281.0 854.4,280.0 854.9,278.4 855.4,276.8 855.9,275.7 856.4,273.4 856.9,272.1 857.2,270.8 857.4,272.4 857.9,274.9 858.4,278.1 858.9,280.7 859.4,283.9 859.9,286.5 860.2,288.6 860.4,288.2 860.9,288.6 861.4,288.2 861.9,289.8 862.4,287.2 862.9,289.8 863.4,287.1 863.9,289.6 864.4,286.9 864.9,289.8 865.4,286.9 865.9,289.7 866.4,287.2 866.9,289.8 867.4,286.9 867.9,288.4 868.4,288.4 868.9,288.4 869.4,299.5 869.9,310.7 870.4,321.8 870.9,333.0 871.4,344.1 871.9,355.3 872.4,366.4 872.9,377.6 873.4,388.7 873.5,390.9 873.9,390.9 874.1,390.9 874.4,385.0 874.9,375.2 875.4,365.2 875.9,355.4 876.4,345.5 876.9,335.7 877.4,325.8 877.9,316.0 878.4,306.1 878.9,296.3 879.3,288.4 879.4,288.1 879.9,286.1 880.4,284.4 880.9,282.1 881.4,281.0 881.9,278.4 882.0,278.7 882.4,279.2 882.9,281.3 883.4,281.7 883.9,284.2 884.4,284.5 884.9,286.9 885.4,287.3 885.6,289.0 885.9,287.9 886.4,289.0 886.9,287.9 887.4,289.9 887.9,287.2 888.4,289.9 888.9,287.1 889.4,289.8 889.9,287.0 890.4,289.8 890.9,287.1 891.4,289.8 891.9,287.0 892.4,289.8 892.9,287.2 893.4,289.7 893.9,287.1 894.4,289.9 894.9,287.1 895.0,289.9 895.4,286.7 895.9,288.8 896.4,285.7 896.9,287.9 897.4,284.7 897.9,286.8 898.3,283.6 898.4,286.6 898.9,284.1 899.4,287.2 899.9,285.2 900.4,288.3 900.9,286.0 901.4,289.1 901.9,286.9 902.0,289.7 902.4,287.0 902.9,289.7 903.4,287.1 903.9,289.9 904.4,286.9 904.9,289.7 905.4,287.1 905.9,289.7 906.4,287.1 906.9,288.4 907.4,288.4 907.7,288.4 907.9,277.4 908.4,250.0 908.9,222.5 909.0,217.0 909.4,187.7 909.9,151.0 910.4,114.4 910.6,99.7 910.9,99.7 911.2,99.7 911.4,113.5 911.9,148.0 912.4,182.5 912.9,217.0 913.4,242.5 913.9,268.0 914.3,288.4 914.4,288.4 914.9,288.4 915.4,288.4 915.9,287.1 916.4,289.8 916.9,286.9 917.4,289.8 917.9,287.0 918.4,289.7 918.9,287.1 919.4,289.9 919.9,287.1 920.4,289.7 920.9,287.0 921.4,289.8 921.9,286.9 922.4,289.7 922.9,287.0 923.4,289.8 923.9,287.2 924.4,289.9 924.9,288.4 925.4,288.4 925.8,288.4 925.9,282.9 926.4,255.4 926.9,228.0 927.1,217.0 927.4,193.5 927.9,154.4 928.4,115.3 928.6,99.7 928.9,99.7 929.2,99.7 929.4,115.3 929.9,154.4 930.4,193.5 930.7,217.0 930.9,228.9 931.4,258.6 931.9,288.4 932.4,288.2 932.9,288.0 933.4,286.4 933.9,289.0 934.4,286.1 934.9,288.4 935.4,286.5 935.9,287.1 936.4,286.1 936.9,285.2 937.4,282.8 937.9,282.0 938.4,279.5 938.8,279.0 938.9,278.6 939.4,281.1 939.9,282.2 940.4,284.7 940.9,285.8 941.0,286.9 941.4,285.5 941.9,285.3 942.4,283.1 942.9,284.0 943.0,282.2 943.4,284.7 943.9,283.9 944.4,286.6 944.9,285.9 945.0,287.8 945.4,285.9 945.9,287.3 946.4,284.9 946.9,287.2 947.4,284.0 947.9,286.4 948.4,283.3 948.9,285.9 949.4,282.8 949.6,285.3" fill="none" stroke="#0000ff" stroke-width="4.6" stroke-linejoin="round" stroke-linecap="butt" />
</g>
<rect x="167.4" y="55.5" width="780.20" height="466.70" fill="none" stroke="#000" stroke-width="3.125" stroke-linejoin="miter"/>
<g font-family="Liberation Sans, Arial, Helvetica, sans-serif" font-size="29.17" fill="#000" stroke="#000" stroke-width="0.3">
<text transform="translate(208.00,548.10) scale(0.985,1.1)" text-anchor="middle" >81200</text>
<text transform="translate(367.00,548.10) scale(0.985,1.1)" text-anchor="middle" >81300</text>
<text transform="translate(527.00,548.10) scale(0.985,1.1)" text-anchor="middle" >81400</text>
<text transform="translate(687.00,548.10) scale(0.985,1.1)" text-anchor="middle" >81500</text>
<text transform="translate(847.00,548.10) scale(0.985,1.1)" text-anchor="middle" >81600</text>
<text transform="translate(162.70,533.20) scale(0.985,1.1)" text-anchor="end" >−1.0</text>
<text transform="translate(162.70,416.53) scale(0.985,1.1)" text-anchor="end" >−0.5</text>
<text transform="translate(162.70,299.85) scale(0.985,1.1)" text-anchor="end" >0.0</text>
<text transform="translate(162.70,183.18) scale(0.985,1.1)" text-anchor="end" >0.5</text>
<text transform="translate(162.70,66.50) scale(0.985,1.1)" text-anchor="end" >1.0</text>
</g>
<g font-family="Liberation Sans, Arial, Helvetica, sans-serif" font-size="29.17" font-weight="bold" fill="#000">
<text transform="translate(556.10,592.50) scale(0.985,1.035)" text-anchor="middle" >Time [s]</text>
<text transform="translate(82.00,289.45) rotate(-90) scale(0.995,1.035)" text-anchor="middle" >Gyroscope [rad/s]</text>
</g>
<g id="legend0">
<rect x="760.9" y="70.40" width="172.70" height="143.60" fill="#fff" stroke="#000" stroke-width="3.6"/>
<line x1="768.8" y1="93.00" x2="832.1" y2="93.00" stroke="#ff0000" stroke-width="4.6"/>
<text transform="translate(853.00,104.20) scale(1.06,1.06)" text-anchor="start" font-family="Liberation Sans, Arial, Helvetica, sans-serif" font-size="29.17" fill="#000">X</text>
<line x1="768.8" y1="124.05" x2="832.1" y2="124.05" stroke="#008000" stroke-width="4.6"/>
<text transform="translate(853.00,135.25) scale(1.06,1.06)" text-anchor="start" font-family="Liberation Sans, Arial, Helvetica, sans-serif" font-size="29.17" fill="#000">Y</text>
<line x1="768.8" y1="155.10" x2="832.1" y2="155.10" stroke="#0000ff" stroke-width="4.6"/>
<text transform="translate(853.00,166.30) scale(1.06,1.06)" text-anchor="start" font-family="Liberation Sans, Arial, Helvetica, sans-serif" font-size="29.17" fill="#000">Z</text>
<rect x="770.2" y="176.25" width="60.4" height="19.8" fill="#90ee90" fill-opacity="0.2"/>
<text x="854.0" y="197.35" font-family="Liberation Serif, Times New Roman, serif" font-style="italic" font-size="29.17" fill="#000">Static</text>
</g>
</g>
<g id="axes1">
<rect x="167.4" y="642.3" width="471.90" height="466.10" fill="#90ee90" fill-opacity="0.2"/>
<g clip-path="url(#clip1)" stroke="#808080" stroke-opacity="0.6" stroke-width="3.2" stroke-dasharray="21.3 5.33 3.33 5.33" fill="none">
<line x1="209.50" y1="1108.4" x2="209.50" y2="642.3"/>
<line x1="368.50" y1="1108.4" x2="368.50" y2="642.3"/>
<line x1="528.50" y1="1108.4" x2="528.50" y2="642.3"/>
<line x1="688.50" y1="1108.4" x2="688.50" y2="642.3"/>
<line x1="848.50" y1="1108.4" x2="848.50" y2="642.3"/>
<line x1="167.4" y1="1082.51" x2="947.6" y2="1082.51"/>
<line x1="167.4" y1="953.03" x2="947.6" y2="953.03"/>
<line x1="167.4" y1="823.56" x2="947.6" y2="823.56"/>
<line x1="167.4" y1="694.09" x2="947.6" y2="694.09"/>
</g>
<g stroke="#000" stroke-width="3.0">
<line x1="209.50" y1="1108.4" x2="209.50" y2="1093.4"/>
<line x1="368.50" y1="1108.4" x2="368.50" y2="1093.4"/>
<line x1="528.50" y1="1108.4" x2="528.50" y2="1093.4"/>
<line x1="688.50" y1="1108.4" x2="688.50" y2="1093.4"/>
<line x1="848.50" y1="1108.4" x2="848.50" y2="1093.4"/>
<line x1="167.4" y1="1082.51" x2="182.4" y2="1082.51"/>
<line x1="167.4" y1="953.03" x2="182.4" y2="953.03"/>
<line x1="167.4" y1="823.56" x2="182.4" y2="823.56"/>
<line x1="167.4" y1="694.09" x2="182.4" y2="694.09"/>
</g>
<g clip-path="url(#clip1)">
<polyline points="165.4,950.3 165.9,954.2 166.4,950.1 166.9,954.1 167.4,950.2 167.9,954.2 168.4,950.0 168.9,954.1 169.4,950.1 169.9,954.0 170.4,950.3 170.9,954.0 171.4,950.1 171.9,953.9 172.4,950.0 172.9,954.0 173.4,950.2 173.9,953.9 174.4,949.9 174.9,954.2 175.4,950.0 175.9,954.1 176.4,950.3 176.9,954.0 177.4,950.1 177.9,953.9 178.4,949.9 178.9,954.0 179.4,950.3 179.9,954.2 180.4,950.3 180.9,954.3 181.4,950.2 181.9,954.1 182.4,950.2 182.9,954.1 183.4,950.3 183.9,953.9 184.4,950.0 184.9,954.0 185.4,950.0 185.9,954.0 186.4,949.9 186.9,954.3 187.4,950.0 187.9,954.2 188.4,950.1 188.9,954.2 189.4,950.3 189.9,954.1 190.4,950.0 190.9,954.0 191.4,950.0 191.9,954.3 192.4,950.2 192.9,954.0 193.4,950.2 193.9,954.1 194.4,949.9 194.9,954.1 195.4,950.4 195.9,953.9 196.4,950.1 196.9,954.3 197.4,950.2 197.9,954.1 198.4,950.1 198.9,954.2 199.4,950.3 199.9,954.2 200.4,950.1 200.9,954.2 201.4,950.3 201.9,954.0 202.4,950.2 202.9,954.3 203.4,950.2 203.9,954.2 204.4,950.2 204.9,953.9 205.4,950.4 205.9,954.3 206.4,950.0 206.9,954.1 207.4,950.1 207.9,954.2 208.4,950.0 208.9,954.3 209.4,950.2 209.9,954.3 210.4,950.0 210.9,954.2 211.4,950.0 211.9,954.1 212.4,950.2 212.9,954.0 213.4,950.0 213.9,954.0 214.4,950.4 214.9,954.3 215.4,950.0 215.9,954.1 216.4,950.0 216.9,953.9 217.4,950.3 217.9,954.0 218.4,950.2 218.9,954.0 219.4,950.4 219.9,954.1 220.4,950.0 220.9,954.3 221.4,950.1 221.9,954.1 222.4,950.3 222.9,954.3 223.4,950.2 223.9,954.2 224.4,950.4 224.9,954.0 225.4,950.0 225.9,954.3 226.4,950.0 226.9,954.2 227.4,950.2 227.9,954.2 228.4,950.0 228.9,954.1 229.4,950.2 229.9,954.0 230.4,950.1 230.9,953.9 231.4,950.1 231.9,954.3 232.4,950.4 232.9,954.2 233.4,950.1 233.9,954.3 234.4,950.2 234.9,954.0 235.4,950.2 235.9,954.4 236.4,950.0 236.9,954.0 237.4,950.4 237.9,954.0 238.4,950.4 238.9,954.1 239.4,950.4 239.9,954.3 240.4,950.1 240.9,954.0 241.4,950.2 241.9,954.1 242.4,950.2 242.9,954.0 243.4,950.3 243.9,954.0 244.4,950.3 244.9,954.2 245.4,950.2 245.9,954.0 246.4,950.1 246.9,954.3 247.4,950.1 247.9,954.3 248.4,950.4 248.9,954.1 249.4,950.4 249.9,954.3 250.4,950.3 250.9,954.3 251.4,950.3 251.9,954.3 252.4,950.3 252.9,954.0 253.4,950.3 253.9,954.1 254.4,950.0 254.9,954.1 255.4,950.2 255.9,954.2 256.4,950.0 256.9,954.0 257.4,950.2 257.9,954.2 258.4,950.1 258.9,954.4 259.4,950.3 259.9,954.3 260.4,950.2 260.9,954.2 261.4,950.4 261.9,954.3 262.4,950.0 262.9,954.1 263.4,950.3 263.9,954.4 264.4,950.4 264.9,954.0 265.4,950.4 265.9,954.3 266.4,950.1 266.9,954.2 267.4,950.2 267.9,954.0 268.4,950.2 268.9,954.2 269.4,950.2 269.9,954.1 270.4,950.3 270.9,954.1 271.4,950.4 271.9,954.2 272.4,950.3 272.9,954.3 273.4,950.1 273.9,954.3 274.4,950.2 274.9,954.1 275.4,950.3 275.9,954.2 276.4,950.2 276.9,954.4 277.4,950.4 277.9,954.2 278.4,950.2 278.9,954.3 279.4,950.1 279.9,954.3 280.4,950.2 280.9,954.3 281.4,950.2 281.9,954.4 282.4,950.1 282.9,954.3 283.4,950.3 283.9,954.4 284.4,950.3 284.9,954.2 285.4,950.1 285.9,954.4 286.4,950.0 286.9,954.0 287.4,950.3 287.9,954.1 288.4,950.3 288.9,954.0 289.4,950.2 289.9,954.0 290.4,950.3 290.9,954.4 291.4,950.1 291.9,954.2 292.4,950.4 292.9,954.4 293.4,950.2 293.9,954.1 294.4,950.3 294.9,954.3 295.4,950.2 295.9,954.1 296.4,950.0 296.9,954.1 297.4,950.4 297.9,954.4 298.4,950.4 298.9,954.3 299.4,950.4 299.9,954.3 300.4,950.3 300.9,954.2 301.4,950.1 301.9,954.2 302.4,950.3 302.9,954.3 303.4,950.4 303.9,954.1 304.4,950.3 304.9,954.1 305.4,950.4 305.9,954.4 306.4,950.5 306.9,954.4 307.4,950.1 307.9,954.3 308.4,950.5 308.9,954.2 309.4,950.5 309.9,954.3 310.4,950.2 310.9,954.1 311.4,950.5 311.9,954.2 312.4,950.4 312.9,954.1 313.4,950.3 313.9,954.4 314.4,950.3 314.9,954.1 315.4,950.1 315.9,954.4 316.4,950.3 316.9,954.0 317.4,950.4 317.9,954.2 318.4,950.2 318.9,954.1 319.4,950.1 319.9,954.4 320.4,950.1 320.9,954.4 321.4,950.5 321.9,954.3 322.4,950.5 322.9,954.4 323.4,950.2 323.9,954.3 324.4,950.4 324.9,954.0 325.4,950.1 325.9,954.3 326.4,950.2 326.9,954.2 327.4,950.1 327.9,954.2 328.4,950.4 328.9,954.2 329.4,950.4 329.9,954.3 330.4,950.1 330.9,954.1 331.4,950.5 331.9,954.2 332.4,950.2 332.9,954.1 333.4,950.4 333.9,954.0 334.4,950.5 334.9,954.2 335.4,950.2 335.9,954.3 336.4,950.4 336.9,954.1 337.4,950.1 337.9,954.3 338.4,950.3 338.9,954.3 339.4,950.2 339.9,954.3 340.4,950.5 340.9,954.4 341.4,950.4 341.9,954.0 342.4,950.4 342.9,954.3 343.4,950.2 343.9,954.1 344.4,950.2 344.9,954.3 345.4,950.4 345.9,954.4 346.4,950.2 346.9,954.4 347.4,950.2 347.9,954.1 348.4,950.2 348.9,954.4 349.4,950.3 349.9,954.4 350.4,950.1 350.9,954.2 351.4,950.1 351.9,954.5 352.4,950.2 352.9,954.0 353.4,950.4 353.9,954.3 354.4,950.3 354.9,954.4 355.4,950.2 355.9,954.1 356.4,950.1 356.9,954.3 357.4,950.1 357.9,954.1 358.4,950.1 358.9,954.3 359.4,950.2 359.9,954.4 360.4,950.1 360.9,954.2 361.4,950.5 361.9,954.2 362.4,950.5 362.9,954.3 363.4,950.2 363.9,954.2 364.4,950.5 364.9,954.1 365.4,950.3 365.9,954.3 366.4,950.5 366.9,954.3 367.4,950.4 367.9,954.1 368.4,950.1 368.9,954.3 369.4,950.1 369.9,954.3 370.4,950.5 370.9,954.2 371.4,950.4 371.9,954.3 372.4,950.2 372.9,954.4 373.4,950.3 373.9,954.2 374.4,950.4 374.9,954.2 375.4,950.3 375.9,954.2 376.4,950.3 376.9,954.3 377.4,950.5 377.9,954.4 378.4,950.3 378.9,954.4 379.4,950.2 379.9,954.4 380.4,950.1 380.9,954.2 381.4,950.4 381.9,954.1 382.4,950.3 382.9,954.3 383.4,950.3 383.9,954.5 384.4,950.5 384.9,954.2 385.4,950.2 385.9,954.4 386.4,950.3 386.9,954.1 387.4,950.4 387.9,954.4 388.4,950.3 388.9,954.3 389.4,950.4 389.9,954.4 390.4,950.3 390.9,954.4 391.4,950.2 391.9,954.4 392.4,950.4 392.9,954.2 393.4,950.2 393.9,954.4 394.4,950.2 394.9,954.2 395.4,950.2 395.9,954.5 396.4,950.5 396.9,954.2 397.4,950.3 397.9,954.2 398.4,950.2 398.9,954.2 399.4,950.3 399.9,954.2 400.4,950.5 400.9,954.2 401.4,950.4 401.9,954.4 402.4,950.5 402.9,954.4 403.4,950.4 403.9,954.4 404.4,950.4 404.9,954.2 405.4,950.5 405.9,954.1 406.4,950.3 406.9,954.3 407.4,950.5 407.9,954.5 408.4,950.3 408.9,954.1 409.4,950.3 409.9,954.4 410.4,950.4 410.9,954.3 411.4,950.2 411.9,954.3 412.4,950.3 412.9,954.4 413.4,950.4 413.9,954.3 414.4,950.3 414.9,954.4 415.4,950.4 415.9,954.3 416.4,950.5 416.9,954.5 417.4,950.6 417.9,954.4 418.4,950.4 418.9,954.2 419.4,950.3 419.9,954.4 420.4,950.6 420.9,954.3 421.4,950.5 421.9,954.5 422.4,950.4 422.9,954.3 423.4,950.5 423.9,954.1 424.4,950.5 424.9,954.2 425.4,950.3 425.9,954.5 426.4,950.5 426.9,954.2 427.4,950.4 427.9,954.2 428.4,950.4 428.9,954.5 429.4,950.5 429.9,954.4 430.4,950.4 430.9,954.2 431.4,950.5 431.9,954.4 432.4,950.6 432.9,954.2 433.4,950.3 433.9,954.5 434.4,950.4 434.9,954.4 435.4,950.6 435.9,954.3 436.4,950.5 436.9,954.5 437.4,950.4 437.9,954.5 438.4,950.6 438.9,954.3 439.4,950.2 439.9,954.5 440.4,950.4 440.9,954.2 441.4,950.2 441.9,954.2 442.4,950.2 442.9,954.5 443.4,950.3 443.9,954.4 444.4,950.5 444.9,954.3 445.4,950.3 445.9,954.4 446.4,950.4 446.9,954.5 447.4,950.6 447.9,954.3 448.4,950.6 448.9,954.3 449.4,950.3 449.9,954.5 450.4,950.6 450.9,954.3 451.4,950.6 451.9,954.4 452.4,950.4 452.9,954.2 453.4,950.5 453.9,954.5 454.4,950.4 454.9,954.4 455.4,950.3 455.9,954.4 456.4,950.4 456.9,954.3 457.4,950.5 457.9,954.4 458.4,950.5 458.9,954.3 459.4,950.5 459.9,954.5 460.4,950.4 460.9,954.2 461.4,950.6 461.9,954.2 462.4,950.2 462.9,954.3 463.4,950.3 463.9,954.3 464.4,950.3 464.9,954.3 465.4,950.3 465.9,954.4 466.4,950.5 466.9,954.3 467.4,950.4 467.9,954.5 468.4,950.3 468.9,954.4 469.4,950.5 469.9,954.5 470.4,950.3 470.9,954.2 471.4,950.3 471.9,954.5 472.4,950.3 472.9,954.6 473.4,950.3 473.9,954.3 474.4,950.2 474.9,954.3 475.4,950.5 475.9,954.6 476.4,950.6 476.9,954.3 477.4,950.4 477.9,954.3 478.4,950.5 478.9,954.5 479.4,950.4 479.9,954.5 480.4,950.3 480.9,954.6 481.4,950.3 481.9,954.5 482.4,950.2 482.9,954.4 483.4,950.3 483.9,954.4 484.4,950.2 484.9,954.5 485.4,950.5 485.9,954.5 486.4,950.5 486.9,954.2 487.4,950.5 487.9,954.2 488.4,950.7 488.9,954.2 489.4,950.5 489.9,954.5 490.4,950.6 490.9,954.5 491.4,950.6 491.9,954.4 492.4,950.5 492.9,954.4 493.4,950.3 493.9,954.4 494.4,950.5 494.9,954.5 495.4,950.6 495.9,954.3 496.4,950.4 496.9,954.6 497.4,950.2 497.9,954.3 498.4,950.4 498.9,954.3 499.4,950.4 499.9,954.6 500.4,950.6 500.9,954.3 501.4,950.3 501.9,954.3 502.4,950.4 502.9,954.5 503.4,950.5 503.9,954.5 504.4,950.7 504.9,954.3 505.4,950.6 505.9,954.3 506.4,950.6 506.9,954.2 507.4,950.3 507.9,954.3 508.4,950.4 508.9,954.4 509.4,950.3 509.9,954.6 510.4,950.4 510.9,954.3 511.4,950.3 511.9,954.2 512.4,950.3 512.9,954.3 513.4,950.6 513.9,954.3 514.4,950.5 514.9,954.5 515.4,950.3 515.9,954.5 516.4,950.4 516.9,954.3 517.4,950.5 517.9,954.3 518.4,950.5 518.9,954.6 519.4,950.2 519.9,954.2 520.4,950.3 520.9,954.6 521.4,950.5 521.9,954.5 522.4,950.3 522.9,954.3 523.4,950.4 523.9,954.6 524.4,950.3 524.9,954.6 525.4,950.7 525.9,954.5 526.4,950.5 526.9,954.6 527.4,950.6 527.9,954.5 528.4,950.6 528.9,954.6 529.4,950.4 529.9,954.2 530.4,950.6 530.9,954.3 531.4,950.4 531.9,954.5 532.4,950.7 532.9,954.6 533.4,950.3 533.9,954.4 534.4,950.4 534.9,954.4 535.4,950.4 535.9,954.4 536.4,950.5 536.9,954.6 537.4,950.6 537.9,954.4 538.4,950.4 538.9,954.3 539.4,950.7 539.9,954.6 540.4,950.6 540.9,954.4 541.4,950.6 541.9,954.3 542.4,950.6 542.9,954.5 543.4,950.7 543.9,954.5 544.4,950.7 544.9,954.3 545.4,950.6 545.9,954.3 546.4,950.6 546.9,954.4 547.4,950.3 547.9,954.5 548.4,950.5 548.9,954.6 549.4,950.4 549.9,954.4 550.4,950.4 550.9,954.6 551.4,950.5 551.9,954.6 552.4,950.4 552.9,954.6 553.4,950.6 553.9,954.5 554.4,950.3 554.9,954.5 555.4,950.3 555.9,954.3 556.4,950.4 556.9,954.4 557.4,950.4 557.9,954.4 558.4,950.5 558.9,954.4 559.4,950.6 559.9,954.6 560.4,950.4 560.9,954.5 561.4,950.7 561.9,954.4 562.4,950.3 562.9,954.3 563.4,950.5 563.9,954.6 564.4,950.5 564.9,954.5 565.4,950.3 565.9,954.6 566.4,950.6 566.9,954.4 567.4,950.5 567.9,954.6 568.4,950.4 568.9,954.4 569.4,950.4 569.9,954.4 570.4,950.7 570.9,954.4 571.4,950.6 571.9,954.3 572.4,950.4 572.9,954.7 573.4,950.3 573.9,954.5 574.4,950.4 574.9,954.5 575.4,950.5 575.9,954.7 576.4,950.7 576.9,954.4 577.4,950.6 577.9,954.4 578.4,950.6 578.9,954.3 579.4,950.4 579.9,954.7 580.4,950.6 580.9,954.3 581.4,950.6 581.9,954.6 582.4,950.6 582.9,954.6 583.4,950.7 583.9,954.5 584.4,950.4 584.9,954.6 585.4,950.7 585.9,954.7 586.4,950.4 586.9,954.5 587.4,950.4 587.9,954.5 588.4,950.7 588.9,954.4 589.4,950.4 589.9,954.5 590.4,950.7 590.9,954.3 591.4,950.7 591.9,954.5 592.4,950.5 592.9,954.5 593.4,950.6 593.9,954.7 594.4,950.6 594.9,954.6 595.4,950.7 595.9,954.5 596.4,950.7 596.9,954.3 597.4,950.6 597.9,954.3 598.4,950.6 598.9,954.6 599.4,950.5 599.9,954.6 600.4,950.6 600.9,954.3 601.4,950.4 601.9,954.5 602.4,950.4 602.9,954.7 603.4,950.5 603.9,954.4 604.4,950.6 604.9,954.5 605.4,950.6 605.9,954.3 606.4,950.6 606.9,954.6 607.4,950.4 607.9,954.6 608.4,950.4 608.9,954.6 609.4,950.6 609.9,954.6 610.4,950.7 610.9,954.6 611.4,950.5 611.9,954.4 612.4,950.6 612.9,954.4 613.4,950.4 613.9,954.5 614.4,950.4 614.9,954.7 615.4,950.4 615.9,954.5 616.4,950.6 616.9,954.7 617.4,950.4 617.9,954.4 618.4,950.6 618.9,954.6 619.4,950.4 619.9,954.4 620.4,950.6 620.9,954.7 621.4,950.7 621.9,954.4 622.4,950.5 622.9,954.7 623.4,950.4 623.9,954.5 624.4,950.4 624.9,954.7 625.4,950.6 625.9,954.4 626.4,950.7 626.9,954.7 627.4,950.7 627.9,954.6 628.4,950.4 628.9,954.4 629.4,950.5 629.9,954.5 630.4,950.4 630.9,954.5 631.4,950.6 631.9,954.7 632.4,950.5 632.9,954.4 633.4,950.4 633.9,954.5 634.4,950.4 634.9,954.7 635.4,950.6 635.9,954.5 636.4,950.4 636.9,954.8 637.4,950.4 637.9,954.7 638.4,950.1 638.9,954.7 639.4,950.2 639.9,955.0 640.4,950.1 640.9,954.9 641.4,950.0 641.9,954.8 642.4,950.4 642.9,954.9 643.4,950.3 643.9,955.2 644.4,950.0 644.9,955.0 645.4,950.1 645.9,954.8 646.4,950.2 646.9,954.8 647.4,950.3 647.9,954.8 648.4,950.2 648.9,955.0 649.4,950.5 649.9,954.9 650.4,950.4 650.9,955.2 651.4,950.2 651.9,955.0 652.4,950.3 652.9,955.0 653.4,950.1 653.9,955.1 654.4,950.2 654.9,954.8 655.4,950.2 655.9,954.7 656.4,950.1 656.9,954.8 657.4,950.1 657.9,954.7 658.4,950.2 658.9,954.7 659.4,950.5 659.9,954.8 660.4,950.1 660.9,954.9 661.4,950.2 661.9,955.1 662.4,950.0 662.9,954.8 663.4,950.1 663.9,955.1 664.4,950.1 664.9,954.8 665.4,950.3 665.9,955.1 666.4,950.4 666.9,954.9 667.4,950.2 667.9,955.1 668.4,950.4 668.9,955.0 669.4,950.4 669.9,954.8 670.4,950.3 670.9,955.0 671.4,950.2 671.9,955.2 672.4,950.4 672.9,954.9 673.4,950.3 673.9,954.8 674.4,950.0 674.9,954.8 675.4,950.4 675.9,954.7 676.4,950.2 676.9,955.0 677.4,950.4 677.9,952.6 678.4,952.6 678.9,952.6 679.0,952.6 679.4,943.1 679.9,931.2 680.4,919.4 680.5,917.0 680.9,915.7 681.4,914.0 681.9,912.5 682.0,911.8 682.4,908.7 682.9,904.5 683.4,900.3 683.5,899.5 683.9,931.9 684.4,972.3 684.9,1012.7 685.0,1020.8 685.4,1020.8 685.6,1020.8 685.9,1010.6 686.4,993.5 686.9,976.5 687.4,959.4 687.6,952.6 687.9,952.6 688.4,952.6 688.9,952.6 689.4,955.0 689.9,950.1 690.4,954.8 690.9,950.2 691.4,954.9 691.9,950.2 692.4,955.1 692.9,950.3 693.4,954.9 693.9,950.2 694.4,954.8 694.9,950.1 695.4,952.6 695.9,952.6 696.4,952.6 696.5,952.6 696.9,961.7 697.4,972.9 697.9,984.2 698.4,995.5 698.6,1000.0 698.9,1009.5 699.4,1025.3 699.9,1041.0 700.4,1056.8 700.5,1060.0 700.9,1111.4 701.2,1150.0 701.4,1150.0 701.9,1150.0 702.2,1150.0 702.4,1132.0 702.9,1087.0 703.2,1060.0 703.4,1053.3 703.9,1036.7 704.4,1020.0 704.9,1003.3 705.0,1000.0 705.4,990.5 705.9,978.7 706.4,966.8 706.9,955.0 707.0,952.6 707.4,952.6 707.9,952.6 708.4,955.1 708.9,950.2 709.4,955.2 709.9,950.3 710.4,955.2 710.9,950.5 711.4,954.9 711.9,950.2 712.4,955.1 712.9,950.2 713.4,955.1 713.9,950.3 714.4,955.0 714.9,950.1 715.4,955.0 715.9,950.5 716.4,955.0 716.9,950.5 717.4,954.8 717.9,950.5 718.4,955.1 718.9,950.4 719.4,955.1 719.9,950.5 720.4,954.8 720.9,950.2 721.4,955.2 721.9,950.5 722.4,955.0 722.9,950.3 723.4,955.0 723.9,950.5 724.4,954.7 724.9,950.5 725.4,955.1 725.9,950.3 726.4,955.0 726.9,950.5 727.4,955.0 727.9,950.1 728.4,954.8 728.9,950.1 729.4,955.1 729.9,950.0 730.4,952.7 730.9,952.5 731.4,952.7 731.5,952.5 731.9,959.0 732.4,966.8 732.9,974.9 733.4,982.7 733.9,990.8 734.4,998.6 734.9,1006.7 735.4,1014.5 735.9,1022.5 736.0,1024.1 736.4,1024.1 736.6,1024.1 736.9,1013.4 737.4,995.5 737.9,977.6 738.4,959.7 738.6,952.6 738.9,941.1 739.3,925.7 739.4,925.7 739.9,925.7 740.3,947.3 740.4,947.3 740.9,947.3 741.2,915.7 741.4,915.7 741.8,915.7 741.9,925.2 742.1,944.3 742.4,944.3 742.7,944.3 742.9,917.6 743.0,904.2 743.4,904.2 743.6,904.2 743.9,935.0 744.0,945.3 744.4,945.3 744.6,945.3 744.9,923.1 745.0,915.7 745.4,915.7 745.6,915.7 745.9,939.4 746.0,947.3 746.4,947.3 746.6,947.3 746.9,925.7 747.4,925.7 747.5,925.7 747.9,949.3 748.4,949.3 748.5,949.3 748.9,895.0 749.3,840.7 749.4,840.7 749.9,840.7 750.3,949.3 750.4,949.3 750.9,949.3 751.4,849.9 751.5,830.0 751.9,812.5 752.3,794.9 752.4,794.9 752.9,794.9 753.3,939.3 753.4,939.3 753.9,939.3 754.3,880.7 754.4,880.7 754.9,880.7 755.4,940.6 755.5,952.6 755.7,978.8 755.9,978.8 756.3,978.8 756.4,976.8 756.9,966.7 757.2,960.7 757.4,960.7 757.8,960.7 757.9,962.8 758.4,973.2 758.5,975.3 758.9,975.2 759.1,975.3 759.4,970.5 759.9,962.8 760.2,957.9 760.4,959.9 760.9,964.4 761.4,969.2 761.5,969.9 761.9,965.5 762.4,959.5 762.9,953.9 763.0,952.5 763.4,952.7 763.9,952.5 764.4,954.7 764.9,950.0 765.4,954.9 765.9,950.5 766.4,954.9 766.9,950.5 767.4,955.1 767.9,950.2 768.4,952.7 768.9,952.5 769.4,952.6 769.5,952.6 769.9,945.0 770.4,935.3 770.9,925.7 771.4,925.7 771.5,925.7 771.7,947.3 771.9,947.3 772.3,947.3 772.4,937.7 772.7,908.7 772.9,908.7 773.3,908.7 773.4,914.6 773.9,944.3 774.4,944.3 774.5,944.3 774.9,913.4 775.0,905.7 775.4,905.7 775.6,905.7 775.9,930.9 776.0,939.3 776.4,939.3 776.6,939.3 776.9,910.7 777.1,891.7 777.4,891.7 777.7,891.7 777.9,907.6 778.3,939.3 778.4,939.3 778.9,939.3 779.3,912.7 779.4,912.7 779.9,912.7 780.3,944.3 780.4,944.3 780.9,944.3 781.3,925.7 781.4,925.7 781.9,925.7 782.4,941.6 782.6,948.0 782.9,942.7 783.4,934.0 783.9,941.7 784.4,949.6 784.6,952.5 784.9,957.6 785.4,965.7 785.9,974.1 786.4,973.9 786.5,974.1 786.9,967.4 787.4,959.3 787.8,952.5 787.9,951.2 788.4,943.8 788.9,936.5 789.3,930.7 789.4,930.7 789.9,930.7 790.1,947.3 790.4,947.3 790.7,947.3 790.9,878.7 791.4,878.7 791.5,878.7 791.9,919.1 792.1,939.3 792.4,939.3 792.7,939.3 792.9,919.5 793.3,880.0 793.4,878.1 793.9,868.3 794.1,864.4 794.4,864.4 794.7,864.4 794.9,891.0 795.3,944.3 795.4,944.3 795.9,944.3 796.3,895.7 796.4,895.7 796.9,895.7 797.3,947.3 797.4,947.3 797.9,947.3 798.1,930.7 798.4,930.7 798.7,930.7 798.9,937.0 799.4,952.6 799.9,964.7 800.3,974.3 800.4,974.3 800.9,974.3 801.3,956.7 801.4,956.7 801.9,956.7 802.4,979.7 802.5,984.3 802.9,984.3 803.1,984.3 803.4,965.1 803.5,958.7 803.9,958.7 804.1,958.7 804.4,970.3 804.9,989.7 805.1,997.5 805.4,997.5 805.7,997.5 805.9,984.6 806.3,958.7 806.4,958.7 806.9,958.7 807.4,980.0 807.5,984.3 807.9,984.3 808.1,984.3 808.4,971.0 808.7,957.7 808.9,957.7 809.3,957.7 809.4,960.5 809.9,974.3 810.4,974.3 810.5,974.3 810.9,961.0 811.0,957.7 811.4,957.7 811.6,957.7 811.9,971.3 812.3,989.3 812.4,989.3 812.9,989.3 813.4,963.8 813.5,958.7 813.9,958.7 814.1,958.7 814.4,974.7 814.9,1001.3 815.4,1001.3 815.5,1001.3 815.7,960.7 815.9,960.7 816.3,960.7 816.4,978.8 816.6,1015.1 816.9,1015.1 817.2,1015.1 817.4,999.5 817.9,960.4 818.0,952.6 818.4,938.4 818.9,920.7 819.4,920.7 819.5,920.7 819.9,947.3 820.4,947.3 820.5,947.3 820.9,909.3 821.3,871.3 821.4,871.3 821.9,871.3 822.4,932.1 822.5,944.3 822.9,944.3 823.1,944.3 823.4,915.3 823.5,905.7 823.9,905.7 824.1,905.7 824.4,923.8 824.8,948.0 824.9,946.7 825.4,940.2 825.8,935.0 825.9,936.5 826.4,943.7 826.9,951.2 827.0,952.5 827.4,952.7 827.9,952.5 828.4,952.7 828.9,952.5 829.0,952.7 829.4,958.7 829.9,966.5 830.4,974.1 830.7,978.9 830.9,978.7 831.3,978.9 831.4,977.2 831.9,969.6 832.4,961.8 832.9,954.2 833.0,952.5 833.4,952.7 833.9,952.5 834.4,955.2 834.9,950.5 835.4,954.8 835.9,950.4 836.4,955.0 836.9,950.3 837.4,954.8 837.9,950.2 838.4,955.1 838.9,950.4 839.4,954.7 839.9,950.3 840.4,955.2 840.9,952.6 841.4,952.6 841.9,952.6 842.0,952.6 842.4,965.9 842.9,982.6 843.1,989.3 843.4,989.3 843.7,989.3 843.9,974.0 844.1,958.7 844.4,958.7 844.7,958.7 844.9,975.6 845.3,1009.3 845.4,1009.3 845.9,1009.3 846.3,960.7 846.4,960.7 846.9,960.7 847.4,1005.8 847.9,1051.0 848.0,1060.0 848.4,1105.0 848.8,1150.0 848.9,1150.0 849.4,1150.0 849.6,1150.0 849.9,1123.0 850.4,1078.0 850.6,1060.0 850.9,1017.4 851.3,960.7 851.4,960.7 851.9,960.7 852.4,997.0 852.5,1004.3 852.9,1004.3 853.1,1004.3 853.4,970.1 853.5,958.7 853.9,958.7 854.1,958.7 854.4,968.3 854.9,984.3 855.4,984.3 855.5,984.3 855.9,972.6 856.4,958.0 856.9,962.4 857.4,966.7 857.9,971.2 858.0,971.9 858.4,967.8 858.9,962.2 859.4,957.1 859.9,955.5 860.4,954.4 860.9,952.0 861.0,953.6 861.4,951.6 861.9,953.6 862.4,950.5 862.9,954.7 863.4,950.0 863.9,955.2 864.4,950.4 864.9,954.8 865.4,950.1 865.9,954.7 866.4,950.5 866.9,954.8 867.4,952.6 867.9,952.6 868.4,952.6 868.6,952.6 868.9,928.6 869.4,888.7 869.5,880.7 869.9,880.7 870.1,880.7 870.3,947.3 870.4,947.3 870.9,947.3 871.4,852.1 871.5,852.1 871.9,910.2 872.1,939.3 872.4,939.3 872.7,939.3 872.9,913.8 873.4,850.0 873.9,834.5 874.4,819.0 874.9,819.0 875.0,819.0 875.4,915.2 875.5,939.3 875.9,939.3 876.1,939.3 876.4,887.8 876.5,870.7 876.9,870.7 877.1,870.7 877.4,926.6 877.5,945.3 877.9,945.3 878.1,945.3 878.4,923.1 878.5,915.7 878.9,915.7 879.1,915.7 879.4,925.8 879.9,942.6 880.2,952.6 880.4,961.7 880.7,975.2 880.9,975.2 881.3,975.2 881.4,973.5 881.9,964.8 882.4,956.1 882.6,952.5 882.9,952.7 883.4,952.5 883.9,952.7 884.4,950.4 884.9,954.9 885.4,950.2 885.9,954.7 886.4,950.2 886.9,955.0 887.4,950.5 887.9,954.8 888.4,950.1 888.9,954.8 889.4,950.2 889.9,954.9 890.4,950.3 890.9,955.1 891.4,950.3 891.9,955.1 892.4,950.1 892.9,955.0 893.4,950.5 893.9,953.0 894.4,952.1 894.9,953.0 895.0,952.2 895.4,954.9 895.9,956.4 896.4,959.6 896.5,959.1 896.9,958.2 897.4,955.0 897.9,953.5 898.0,952.2 898.4,953.1 898.9,952.2 899.4,954.8 899.9,950.3 900.4,955.0 900.9,950.2 901.4,955.0 901.9,950.1 902.4,955.0 902.9,950.4 903.4,955.1 903.9,950.2 904.4,952.7 904.9,952.5 905.4,952.7 905.5,952.5 905.9,959.9 906.4,968.9 906.7,974.3 906.9,974.3 907.3,974.3 907.4,970.1 907.7,957.7 907.9,957.7 908.3,957.7 908.4,965.6 908.9,1004.9 909.4,1044.3 909.6,1060.0 909.9,1087.0 910.4,1132.0 910.6,1150.0 910.9,1150.0 911.4,1150.0 911.6,1150.0 911.9,1127.5 912.4,1090.0 912.8,1060.0 912.9,1051.4 913.4,1008.6 913.9,965.7 914.4,965.7 914.5,965.7 914.9,978.1 915.1,984.3 915.4,984.3 915.7,984.3 915.9,979.5 916.4,967.6 916.8,958.0 916.9,957.6 917.4,955.3 917.9,953.1 918.0,952.6 918.4,953.1 918.9,952.1 919.4,955.1 919.9,950.1 920.4,954.9 920.9,950.5 921.4,954.8 921.9,952.6 922.4,952.6 922.9,952.5 923.0,952.6 923.4,960.5 923.9,970.4 924.1,974.3 924.4,974.3 924.7,974.3 924.9,966.0 925.1,957.7 925.4,957.7 925.7,957.7 925.9,971.3 926.4,1005.4 926.9,1039.5 927.2,1060.0 927.4,1078.0 927.9,1123.0 928.2,1150.0 928.4,1150.0 928.9,1150.0 929.0,1150.0 929.4,1114.0 929.9,1069.0 930.0,1060.0 930.4,1031.0 930.9,994.7 931.3,965.7 931.4,965.7 931.9,965.7 932.4,985.4 932.5,989.3 932.9,989.3 933.1,989.3 933.4,978.9 933.9,961.5 934.0,958.0 934.4,956.2 934.9,954.0 935.2,952.6 935.4,953.1 935.9,952.2 936.4,952.8 936.9,952.4 937.4,952.8 937.5,952.4 937.9,956.0 938.4,959.4 938.9,963.8 939.4,967.3 939.9,964.4 940.4,960.8 940.9,957.9 941.0,956.8 941.4,958.5 941.9,959.4 942.4,962.0 942.9,961.9 943.0,963.8 943.4,961.2 943.9,961.6 944.4,958.4 944.9,959.4 945.0,956.9 945.4,959.5 945.9,957.6 946.4,961.6 946.9,957.4 947.4,962.4 947.9,958.3 948.4,963.1 948.9,958.9 949.4,964.1 949.6,959.9" fill="none" stroke="#ff0000" stroke-width="4.6" stroke-linejoin="round" stroke-linecap="butt" />
<polyline points="165.4,950.5 165.9,954.7 166.4,950.8 166.9,954.8 167.4,950.8 167.9,954.7 168.4,950.8 168.9,954.7 169.4,950.8 169.9,954.7 170.4,950.5 170.9,954.7 171.4,950.6 171.9,954.7 172.4,950.4 172.9,954.4 173.4,950.6 173.9,954.8 174.4,950.5 174.9,954.6 175.4,950.7 175.9,954.8 176.4,950.8 176.9,954.7 177.4,950.5 177.9,954.4 178.4,950.7 178.9,954.5 179.4,950.6 179.9,954.5 180.4,950.4 180.9,954.8 181.4,950.7 181.9,954.8 182.4,950.8 182.9,954.4 183.4,950.5 183.9,954.7 184.4,950.5 184.9,954.8 185.4,950.5 185.9,954.5 186.4,950.5 186.9,954.8 187.4,950.8 187.9,954.6 188.4,950.8 188.9,954.4 189.4,950.6 189.9,954.7 190.4,950.4 190.9,954.4 191.4,950.6 191.9,954.8 192.4,950.5 192.9,954.6 193.4,950.7 193.9,954.6 194.4,950.7 194.9,954.6 195.4,950.6 195.9,954.5 196.4,950.5 196.9,954.5 197.4,950.6 197.9,954.7 198.4,950.7 198.9,954.4 199.4,950.6 199.9,954.6 200.4,950.5 200.9,954.5 201.4,950.7 201.9,954.4 202.4,950.6 202.9,954.5 203.4,950.6 203.9,954.7 204.4,950.8 204.9,954.8 205.4,950.5 205.9,954.7 206.4,950.6 206.9,954.6 207.4,950.7 207.9,954.5 208.4,950.7 208.9,954.5 209.4,950.7 209.9,954.5 210.4,950.4 210.9,954.7 211.4,950.6 211.9,954.4 212.4,950.7 212.9,954.6 213.4,950.5 213.9,954.5 214.4,950.6 214.9,954.8 215.4,950.7 215.9,954.5 216.4,950.5 216.9,954.5 217.4,950.5 217.9,954.5 218.4,950.8 218.9,954.6 219.4,950.8 219.9,954.7 220.4,950.5 220.9,954.6 221.4,950.4 221.9,954.5 222.4,950.6 222.9,954.4 223.4,950.8 223.9,954.7 224.4,950.8 224.9,954.8 225.4,950.6 225.9,954.7 226.4,950.8 226.9,954.8 227.4,950.5 227.9,954.4 228.4,950.8 228.9,954.4 229.4,950.6 229.9,954.4 230.4,950.5 230.9,954.6 231.4,950.5 231.9,954.5 232.4,950.6 232.9,954.6 233.4,950.6 233.9,954.5 234.4,950.4 234.9,954.7 235.4,950.5 235.9,954.5 236.4,950.8 236.9,954.4 237.4,950.8 237.9,954.8 238.4,950.7 238.9,954.7 239.4,950.7 239.9,954.6 240.4,950.7 240.9,954.5 241.4,950.5 241.9,954.6 242.4,950.4 242.9,954.5 243.4,950.7 243.9,954.4 244.4,950.7 244.9,954.8 245.4,950.6 245.9,954.6 246.4,950.7 246.9,954.7 247.4,950.5 247.9,954.4 248.4,950.8 248.9,954.4 249.4,950.5 249.9,954.7 250.4,950.7 250.9,954.5 251.4,950.7 251.9,954.7 252.4,950.5 252.9,954.5 253.4,950.7 253.9,954.5 254.4,950.4 254.9,954.6 255.4,950.4 255.9,954.5 256.4,950.6 256.9,954.6 257.4,950.4 257.9,954.5 258.4,950.7 258.9,954.7 259.4,950.4 259.9,954.6 260.4,950.7 260.9,954.4 261.4,950.6 261.9,954.8 262.4,950.7 262.9,954.6 263.4,950.6 263.9,954.5 264.4,950.8 264.9,954.6 265.4,950.4 265.9,954.7 266.4,950.7 266.9,954.7 267.4,950.5 267.9,954.6 268.4,950.7 268.9,954.4 269.4,950.5 269.9,954.7 270.4,950.7 270.9,954.4 271.4,950.8 271.9,954.7 272.4,950.5 272.9,954.6 273.4,950.6 273.9,954.7 274.4,950.8 274.9,954.6 275.4,950.6 275.9,954.7 276.4,950.8 276.9,954.7 277.4,950.8 277.9,954.6 278.4,950.4 278.9,954.4 279.4,950.6 279.9,954.4 280.4,950.6 280.9,954.6 281.4,950.4 281.9,954.6 282.4,950.4 282.9,954.7 283.4,950.5 283.9,954.5 284.4,950.8 284.9,954.6 285.4,950.8 285.9,954.6 286.4,950.8 286.9,954.6 287.4,950.5 287.9,954.8 288.4,950.8 288.9,954.4 289.4,950.7 289.9,954.8 290.4,950.7 290.9,954.6 291.4,950.7 291.9,954.4 292.4,950.6 292.9,954.5 293.4,950.6 293.9,954.7 294.4,950.5 294.9,954.5 295.4,950.6 295.9,954.6 296.4,950.5 296.9,954.4 297.4,950.7 297.9,954.7 298.4,950.6 298.9,954.6 299.4,950.6 299.9,954.6 300.4,950.5 300.9,954.7 301.4,950.5 301.9,954.8 302.4,950.6 302.9,954.4 303.4,950.7 303.9,954.7 304.4,950.5 304.9,954.6 305.4,950.8 305.9,954.4 306.4,950.6 306.9,954.5 307.4,950.8 307.9,954.8 308.4,950.7 308.9,954.8 309.4,950.6 309.9,954.8 310.4,950.5 310.9,954.4 311.4,950.7 311.9,954.7 312.4,950.6 312.9,954.6 313.4,950.5 313.9,954.6 314.4,950.5 314.9,954.6 315.4,950.7 315.9,954.7 316.4,950.8 316.9,954.7 317.4,950.5 317.9,954.4 318.4,950.8 318.9,954.8 319.4,950.8 319.9,954.6 320.4,950.7 320.9,954.4 321.4,950.7 321.9,954.4 322.4,950.5 322.9,954.7 323.4,950.5 323.9,954.4 324.4,950.7 324.9,954.4 325.4,950.5 325.9,954.8 326.4,950.4 326.9,954.7 327.4,950.6 327.9,954.6 328.4,950.8 328.9,954.4 329.4,950.6 329.9,954.8 330.4,950.4 330.9,954.5 331.4,950.6 331.9,954.7 332.4,950.7 332.9,954.7 333.4,950.6 333.9,954.6 334.4,950.7 334.9,954.4 335.4,950.8 335.9,954.5 336.4,950.4 336.9,954.7 337.4,950.8 337.9,954.7 338.4,950.8 338.9,954.6 339.4,950.4 339.9,954.8 340.4,950.4 340.9,954.8 341.4,950.6 341.9,954.4 342.4,950.7 342.9,954.7 343.4,950.6 343.9,954.8 344.4,950.8 344.9,954.8 345.4,950.6 345.9,954.6 346.4,950.8 346.9,954.5 347.4,950.6 347.9,954.7 348.4,950.5 348.9,954.6 349.4,950.5 349.9,954.5 350.4,950.7 350.9,954.8 351.4,950.5 351.9,954.6 352.4,950.4 352.9,954.7 353.4,950.5 353.9,954.8 354.4,950.7 354.9,954.8 355.4,950.6 355.9,954.5 356.4,950.7 356.9,954.4 357.4,950.4 357.9,954.8 358.4,950.7 358.9,954.8 359.4,950.8 359.9,954.6 360.4,950.4 360.9,954.6 361.4,950.8 361.9,954.6 362.4,950.8 362.9,954.7 363.4,950.6 363.9,954.6 364.4,950.5 364.9,954.4 365.4,950.5 365.9,954.7 366.4,950.4 366.9,954.5 367.4,950.7 367.9,954.7 368.4,950.4 368.9,954.6 369.4,950.7 369.9,954.6 370.4,950.7 370.9,954.6 371.4,950.4 371.9,954.7 372.4,950.8 372.9,954.8 373.4,950.5 373.9,954.5 374.4,950.8 374.9,954.7 375.4,950.7 375.9,954.4 376.4,950.4 376.9,954.5 377.4,950.8 377.9,954.5 378.4,950.4 378.9,954.5 379.4,950.6 379.9,954.5 380.4,950.8 380.9,954.4 381.4,950.8 381.9,954.6 382.4,950.7 382.9,954.7 383.4,950.5 383.9,954.7 384.4,950.8 384.9,954.6 385.4,950.8 385.9,954.5 386.4,950.7 386.9,954.5 387.4,950.5 387.9,954.5 388.4,950.8 388.9,954.6 389.4,950.7 389.9,954.8 390.4,950.8 390.9,954.4 391.4,950.8 391.9,954.5 392.4,950.5 392.9,954.4 393.4,950.6 393.9,954.8 394.4,950.7 394.9,954.7 395.4,950.5 395.9,954.8 396.4,950.5 396.9,954.6 397.4,950.7 397.9,954.5 398.4,950.8 398.9,954.4 399.4,950.6 399.9,954.5 400.4,950.8 400.9,954.6 401.4,950.8 401.9,954.6 402.4,950.4 402.9,954.5 403.4,950.8 403.9,954.4 404.4,950.7 404.9,954.8 405.4,950.4 405.9,954.6 406.4,950.7 406.9,954.4 407.4,950.5 407.9,954.4 408.4,950.7 408.9,954.7 409.4,950.5 409.9,954.4 410.4,950.4 410.9,954.6 411.4,950.5 411.9,954.5 412.4,950.5 412.9,954.4 413.4,950.6 413.9,954.4 414.4,950.5 414.9,954.6 415.4,950.6 415.9,954.5 416.4,950.5 416.9,954.4 417.4,950.8 417.9,954.4 418.4,950.6 418.9,954.4 419.4,950.8 419.9,954.7 420.4,950.7 420.9,954.5 421.4,950.5 421.9,954.5 422.4,950.5 422.9,954.8 423.4,950.8 423.9,954.5 424.4,950.8 424.9,954.5 425.4,950.6 425.9,954.8 426.4,950.5 426.9,954.7 427.4,950.8 427.9,954.8 428.4,950.6 428.9,954.7 429.4,950.8 429.9,954.8 430.4,950.7 430.9,954.5 431.4,950.5 431.9,954.7 432.4,950.7 432.9,954.6 433.4,950.5 433.9,954.5 434.4,950.6 434.9,954.6 435.4,950.7 435.9,954.5 436.4,950.7 436.9,954.7 437.4,950.6 437.9,954.4 438.4,950.8 438.9,954.5 439.4,950.6 439.9,954.6 440.4,950.6 440.9,954.7 441.4,950.7 441.9,954.4 442.4,950.6 442.9,954.6 443.4,950.7 443.9,954.8 444.4,950.8 444.9,954.4 445.4,950.6 445.9,954.5 446.4,950.6 446.9,954.4 447.4,950.6 447.9,954.6 448.4,950.6 448.9,954.4 449.4,950.8 449.9,954.5 450.4,950.7 450.9,954.7 451.4,950.8 451.9,954.7 452.4,950.4 452.9,954.6 453.4,950.8 453.9,954.6 454.4,950.4 454.9,954.5 455.4,950.5 455.9,954.5 456.4,950.7 456.9,954.5 457.4,950.6 457.9,954.8 458.4,950.8 458.9,954.4 459.4,950.7 459.9,954.6 460.4,950.5 460.9,954.6 461.4,950.5 461.9,954.6 462.4,950.8 462.9,954.8 463.4,950.7 463.9,954.4 464.4,950.8 464.9,954.5 465.4,950.5 465.9,954.5 466.4,950.8 466.9,954.7 467.4,950.6 467.9,954.6 468.4,950.7 468.9,954.8 469.4,950.6 469.9,954.6 470.4,950.4 470.9,954.5 471.4,950.7 471.9,954.6 472.4,950.6 472.9,954.6 473.4,950.8 473.9,954.7 474.4,950.4 474.9,954.5 475.4,950.5 475.9,954.4 476.4,950.8 476.9,954.6 477.4,950.4 477.9,954.6 478.4,950.7 478.9,954.4 479.4,950.4 479.9,954.7 480.4,950.4 480.9,954.5 481.4,950.5 481.9,954.4 482.4,950.8 482.9,954.5 483.4,950.7 483.9,954.7 484.4,950.7 484.9,954.5 485.4,950.5 485.9,954.7 486.4,950.6 486.9,954.7 487.4,950.8 487.9,954.5 488.4,950.5 488.9,954.6 489.4,950.8 489.9,954.5 490.4,950.4 490.9,954.5 491.4,950.4 491.9,954.8 492.4,950.6 492.9,954.7 493.4,950.7 493.9,954.7 494.4,950.8 494.9,954.6 495.4,950.8 495.9,954.5 496.4,950.4 496.9,954.6 497.4,950.8 497.9,954.7 498.4,950.5 498.9,954.8 499.4,950.6 499.9,954.4 500.4,950.5 500.9,954.6 501.4,950.8 501.9,954.6 502.4,950.6 502.9,954.7 503.4,950.6 503.9,954.5 504.4,950.8 504.9,954.4 505.4,950.8 505.9,954.5 506.4,950.7 506.9,954.8 507.4,950.6 507.9,954.7 508.4,950.5 508.9,954.7 509.4,950.5 509.9,954.7 510.4,950.5 510.9,954.6 511.4,950.5 511.9,954.5 512.4,950.7 512.9,954.4 513.4,950.8 513.9,954.4 514.4,950.8 514.9,954.5 515.4,950.5 515.9,954.8 516.4,950.6 516.9,954.7 517.4,950.6 517.9,954.4 518.4,950.5 518.9,954.6 519.4,950.6 519.9,954.7 520.4,950.4 520.9,954.4 521.4,950.8 521.9,954.5 522.4,950.6 522.9,954.6 523.4,950.7 523.9,954.5 524.4,950.6 524.9,954.4 525.4,950.6 525.9,954.8 526.4,950.5 526.9,954.7 527.4,950.8 527.9,954.5 528.4,950.8 528.9,954.4 529.4,950.8 529.9,954.4 530.4,950.5 530.9,954.5 531.4,950.5 531.9,954.6 532.4,950.7 532.9,954.7 533.4,950.6 533.9,954.4 534.4,950.7 534.9,954.6 535.4,950.7 535.9,954.6 536.4,950.7 536.9,954.8 537.4,950.8 537.9,954.7 538.4,950.8 538.9,954.4 539.4,950.5 539.9,954.7 540.4,950.7 540.9,954.8 541.4,950.7 541.9,954.5 542.4,950.5 542.9,954.7 543.4,950.4 543.9,954.5 544.4,950.5 544.9,954.8 545.4,950.5 545.9,954.5 546.4,950.4 546.9,954.7 547.4,950.8 547.9,954.6 548.4,950.4 548.9,954.7 549.4,950.5 549.9,954.4 550.4,950.5 550.9,954.5 551.4,950.7 551.9,954.7 552.4,950.6 552.9,954.8 553.4,950.5 553.9,954.4 554.4,950.8 554.9,954.4 555.4,950.8 555.9,954.5 556.4,950.7 556.9,954.4 557.4,950.5 557.9,954.7 558.4,950.7 558.9,954.6 559.4,950.6 559.9,954.8 560.4,950.5 560.9,954.4 561.4,950.6 561.9,954.5 562.4,950.4 562.9,954.7 563.4,950.6 563.9,954.8 564.4,950.5 564.9,954.7 565.4,950.7 565.9,954.7 566.4,950.8 566.9,954.7 567.4,950.7 567.9,954.8 568.4,950.6 568.9,954.5 569.4,950.7 569.9,954.5 570.4,950.5 570.9,954.6 571.4,950.7 571.9,954.8 572.4,950.5 572.9,954.4 573.4,950.6 573.9,954.8 574.4,950.7 574.9,954.4 575.4,950.6 575.9,954.7 576.4,950.5 576.9,954.6 577.4,950.7 577.9,954.6 578.4,950.8 578.9,954.8 579.4,950.4 579.9,954.4 580.4,950.8 580.9,954.4 581.4,950.7 581.9,954.7 582.4,950.7 582.9,954.5 583.4,950.6 583.9,954.6 584.4,950.6 584.9,954.6 585.4,950.7 585.9,954.6 586.4,950.6 586.9,954.5 587.4,950.4 587.9,954.6 588.4,950.5 588.9,954.6 589.4,950.4 589.9,954.4 590.4,950.7 590.9,954.6 591.4,950.4 591.9,954.6 592.4,950.8 592.9,954.6 593.4,950.4 593.9,954.4 594.4,950.8 594.9,954.6 595.4,950.8 595.9,954.8 596.4,950.8 596.9,954.7 597.4,950.7 597.9,954.6 598.4,950.5 598.9,954.6 599.4,950.7 599.9,954.8 600.4,950.6 600.9,954.5 601.4,950.8 601.9,954.6 602.4,950.7 602.9,954.6 603.4,950.7 603.9,954.4 604.4,950.6 604.9,954.6 605.4,950.7 605.9,954.8 606.4,950.5 606.9,954.6 607.4,950.5 607.9,954.8 608.4,950.7 608.9,954.8 609.4,950.7 609.9,954.8 610.4,950.5 610.9,954.4 611.4,950.8 611.9,954.6 612.4,950.7 612.9,954.6 613.4,950.8 613.9,954.6 614.4,950.6 614.9,954.7 615.4,950.6 615.9,954.7 616.4,950.6 616.9,954.8 617.4,950.7 617.9,954.6 618.4,950.7 618.9,954.7 619.4,950.7 619.9,954.4 620.4,950.5 620.9,954.7 621.4,950.7 621.9,954.8 622.4,950.8 622.9,954.5 623.4,950.5 623.9,954.7 624.4,950.6 624.9,954.5 625.4,950.8 625.9,954.7 626.4,950.8 626.9,954.8 627.4,950.8 627.9,954.5 628.4,950.8 628.9,954.5 629.4,950.6 629.9,954.7 630.4,950.8 630.9,954.4 631.4,950.7 631.9,954.8 632.4,950.7 632.9,954.5 633.4,950.4 633.9,954.7 634.4,950.6 634.9,954.7 635.4,950.7 635.9,954.6 636.4,950.3 636.9,954.7 637.4,950.7 637.9,954.9 638.4,950.3 638.9,954.9 639.4,950.6 639.9,954.8 640.4,950.4 640.9,954.6 641.4,950.5 641.9,954.8 642.4,950.2 642.9,954.6 643.4,950.6 643.9,955.0 644.4,950.4 644.9,954.7 645.4,950.3 645.9,955.0 646.4,950.5 646.9,955.0 647.4,950.4 647.9,954.7 648.4,950.0 648.9,954.2 649.4,949.5 649.9,953.7 650.4,949.6 650.9,954.4 651.4,951.0 651.9,956.0 652.4,952.0 652.9,956.6 653.4,952.1 653.9,955.7 654.4,950.8 654.9,954.6 655.4,950.3 655.9,954.3 656.4,950.2 656.9,954.7 657.4,950.1 657.9,954.5 658.4,949.5 658.9,953.7 659.4,949.1 659.9,953.0 660.4,949.1 660.9,954.2 661.4,950.6 661.9,955.9 662.4,952.0 662.9,956.1 663.4,951.4 663.9,955.4 664.4,950.7 664.9,954.9 665.4,950.6 665.9,955.4 666.4,951.4 666.9,955.5 667.4,950.9 667.9,954.4 668.4,949.3 668.9,953.1 669.4,948.6 669.9,953.0 670.4,949.1 670.9,954.1 671.4,950.5 671.9,955.3 672.4,951.2 672.9,955.3 673.4,950.7 673.9,954.9 674.4,950.9 674.9,955.4 675.4,951.4 675.9,956.3 676.4,951.7 676.9,955.9 677.4,951.0 677.9,954.7 678.4,949.7 678.9,953.4 679.4,948.9 679.9,953.5 680.4,949.6 680.9,954.1 681.4,950.1 681.9,954.6 682.4,950.1 682.9,954.1 683.4,949.6 683.9,954.5 684.4,950.6 684.9,955.3 685.4,951.9 685.9,956.2 686.4,952.5 686.9,956.1 687.4,951.3 687.9,955.2 688.4,950.1 688.9,953.9 689.4,949.6 689.9,954.0 690.4,950.0 690.9,954.4 691.4,950.1 691.9,953.9 692.4,949.5 692.9,953.5 693.4,949.0 693.9,953.8 694.4,950.2 694.9,955.3 695.4,951.6 695.9,956.4 696.4,951.9 696.9,955.8 697.4,951.4 697.9,955.1 698.4,950.8 698.9,955.0 699.4,950.5 699.9,955.3 700.4,950.8 700.9,954.9 701.4,949.9 701.9,953.7 702.4,948.7 702.9,952.8 703.4,949.0 703.9,953.7 704.4,949.8 704.9,954.8 705.4,951.2 705.9,955.8 706.4,951.0 706.9,955.5 707.4,950.8 707.9,955.1 708.4,950.7 708.9,955.8 709.4,951.7 709.9,956.2 710.4,951.3 710.9,955.4 711.4,950.4 711.9,953.8 712.4,948.9 712.9,953.3 713.4,949.0 713.9,953.5 714.4,950.1 714.9,954.5 715.4,950.6 715.9,954.7 716.4,950.3 716.9,954.4 717.4,950.3 717.9,954.9 718.4,951.4 718.9,955.9 719.4,952.0 719.9,956.6 720.4,952.1 720.9,955.6 721.4,950.4 721.9,954.0 722.4,949.5 722.9,953.8 723.4,949.7 723.9,954.1 724.4,950.3 724.9,954.4 725.4,949.8 725.9,953.7 726.4,949.3 726.9,953.6 727.4,949.9 727.9,954.7 728.4,950.9 728.9,956.1 729.4,951.9 729.9,956.5 730.4,951.9 730.9,955.8 731.4,950.8 731.9,954.6 732.4,950.4 732.9,954.7 733.4,950.6 733.9,954.8 734.4,950.6 734.9,954.1 735.4,949.5 735.9,953.1 736.4,949.0 736.9,953.2 737.4,949.3 737.9,954.4 738.4,950.6 738.9,955.5 739.4,951.5 739.9,955.8 740.4,950.7 740.9,956.6 741.4,950.1 741.9,956.4 742.4,950.5 742.9,957.8 743.4,950.7 743.9,957.1 744.4,949.6 744.9,955.6 745.4,947.4 745.9,953.3 746.4,946.0 746.9,953.5 747.4,947.5 747.9,955.5 748.4,949.0 748.9,956.7 749.4,949.7 749.9,956.7 750.4,949.3 750.9,955.9 751.4,950.0 751.9,957.4 752.4,950.9 752.9,958.5 753.4,951.5 753.9,958.1 754.4,950.6 754.9,956.1 755.4,948.2 755.9,954.4 756.4,947.0 756.9,954.3 757.4,948.0 757.9,955.3 758.4,948.3 758.9,955.5 759.4,948.0 759.9,954.5 760.4,948.0 760.9,955.5 761.4,949.4 761.9,957.0 762.4,951.6 762.9,959.3 763.4,952.4 763.9,958.6 764.4,950.6 764.9,956.2 765.4,948.6 765.9,955.2 766.4,948.5 766.9,955.7 767.4,949.2 767.9,955.4 768.4,948.0 768.9,954.1 769.4,946.6 769.9,953.2 770.4,947.0 770.9,954.7 771.4,948.8 771.9,957.3 772.4,951.2 772.9,958.5 773.4,951.7 773.9,957.7 774.4,950.2 774.9,956.7 775.4,949.3 775.9,956.9 776.4,950.5 776.9,957.0 777.4,949.9 777.9,956.1 778.4,948.6 778.9,954.4 779.4,946.2 779.9,953.0 780.4,946.6 780.9,954.5 781.4,948.6 781.9,956.4 782.4,950.2 782.9,956.8 783.4,949.7 783.9,956.6 784.4,949.4 784.9,956.8 785.4,950.6 785.9,957.9 786.4,951.9 786.9,958.2 787.4,950.9 787.9,957.1 788.4,948.4 788.9,954.6 789.4,947.1 789.9,953.5 790.4,947.0 790.9,954.6 791.4,948.2 791.9,955.6 792.4,948.6 792.9,955.7 793.4,948.3 793.9,955.2 794.4,948.7 794.9,956.8 795.4,950.8 795.9,958.1 796.4,952.3 796.9,958.8 797.4,951.5 797.9,956.9 798.4,949.0 798.9,954.9 799.4,947.8 799.9,954.6 800.4,948.6 800.9,955.7 801.4,948.4 801.9,955.5 802.4,947.6 802.9,954.0 803.4,946.9 803.9,954.3 804.4,948.2 804.9,955.9 805.4,950.1 805.9,958.1 806.4,951.9 806.9,958.3 807.4,951.0 807.9,957.0 808.4,949.6 808.9,956.0 809.4,949.1 809.9,956.8 810.4,949.7 810.9,956.3 811.4,948.7 811.9,955.2 812.4,947.0 812.9,953.2 813.4,946.4 813.9,953.8 814.4,947.8 814.9,955.6 815.4,950.2 815.9,957.7 816.4,950.5 816.9,957.0 817.4,950.3 817.9,956.5 818.4,950.1 818.9,956.8 819.4,951.1 819.9,958.0 820.4,951.0 820.9,957.5 821.4,949.7 821.9,955.2 822.4,947.2 822.9,953.4 823.4,946.3 823.9,953.8 824.4,947.5 824.9,955.3 825.4,949.1 825.9,956.2 826.4,948.8 826.9,956.1 827.4,949.1 827.9,955.9 828.4,949.9 828.9,957.8 829.4,951.3 829.9,959.0 830.4,952.2 830.9,958.4 831.4,950.1 831.9,955.4 832.4,948.0 832.9,954.5 833.4,947.1 833.9,954.8 834.4,948.1 834.9,955.0 835.4,950.2 835.9,954.5 836.4,949.9 836.9,953.9 837.4,949.7 837.9,954.3 838.4,950.7 838.9,955.3 839.4,951.3 839.9,956.1 840.4,951.3 840.9,955.5 841.4,950.7 841.9,955.2 842.4,950.0 842.9,954.8 843.4,950.2 843.9,954.8 844.4,950.5 844.9,954.9 845.4,949.9 845.9,954.3 846.4,949.1 846.9,954.0 847.4,949.6 847.9,954.4 848.4,950.1 848.9,955.5 849.4,951.0 849.9,955.5 850.4,951.1 850.9,955.3 851.4,950.6 851.9,955.2 852.4,950.7 852.9,955.1 853.4,951.0 853.9,955.6 854.4,950.5 854.9,954.8 855.4,950.0 855.9,954.1 856.4,949.0 856.9,953.6 857.4,949.5 857.9,954.5 858.4,950.4 858.9,955.1 859.4,950.6 859.9,955.2 860.4,950.4 860.9,955.0 861.4,950.6 861.9,954.9 862.4,950.9 862.9,955.8 863.4,951.7 863.9,955.9 864.4,951.3 864.9,955.2 865.4,949.9 865.9,954.2 866.4,949.5 866.9,954.1 867.4,949.9 867.9,954.4 868.4,949.9 868.9,954.9 869.4,950.0 869.9,954.2 870.4,949.9 870.9,954.2 871.4,950.2 871.9,955.2 872.4,951.0 872.9,955.7 873.4,951.5 873.9,955.9 874.4,951.2 874.9,955.2 875.4,950.3 875.9,954.6 876.4,950.0 876.9,954.4 877.4,950.0 877.9,954.6 878.4,949.9 878.9,954.2 879.4,949.4 879.9,954.1 880.4,949.5 880.9,954.0 881.4,950.0 881.9,954.9 882.4,951.0 882.9,955.7 883.4,951.4 883.9,955.8 884.4,950.9 884.9,955.1 885.4,950.4 885.9,954.9 886.4,950.5 886.9,955.1 887.4,950.7 887.9,955.3 888.4,950.3 888.9,954.6 889.4,949.7 889.9,953.9 890.4,949.0 890.9,953.8 891.4,949.7 891.9,954.9 892.4,950.7 892.9,955.5 893.4,950.6 893.9,955.0 894.4,950.4 894.9,955.2 895.4,950.6 895.9,955.6 896.4,951.2 896.9,955.6 897.4,951.2 897.9,955.4 898.4,950.5 898.9,954.4 899.4,949.3 899.9,954.0 900.4,949.3 900.9,954.2 901.4,949.9 901.9,954.8 902.4,950.3 902.9,954.6 903.4,950.1 903.9,954.3 904.4,950.1 904.9,954.7 905.4,950.6 905.9,955.6 906.4,951.5 906.9,955.9 907.4,951.5 907.9,955.4 908.4,950.5 908.9,954.7 909.4,949.8 909.9,954.3 910.4,949.8 910.9,954.8 911.4,950.3 911.9,954.5 912.4,949.9 912.9,954.1 913.4,949.7 913.9,954.2 914.4,949.5 914.9,954.5 915.4,950.8 915.9,955.4 916.4,951.3 916.9,955.9 917.4,951.2 917.9,955.7 918.4,950.4 918.9,954.9 919.4,950.3 919.9,955.1 920.4,950.3 920.9,954.8 921.4,950.4 921.9,954.7 922.4,949.8 922.9,954.1 923.4,949.2 923.9,953.7 924.4,949.3 924.9,954.4 925.4,950.4 925.9,955.1 926.4,951.1 926.9,955.6 927.4,950.9 927.9,955.1 928.4,950.8 928.9,955.1 929.4,950.8 929.9,955.7 930.4,951.3 930.9,955.6 931.4,950.7 931.9,954.9 932.4,950.0 932.9,953.7 933.4,949.4 933.9,953.6 934.4,949.4 934.9,954.3 935.4,950.4 935.9,954.7 936.4,950.5 936.9,955.1 937.4,950.1 937.9,954.7 938.4,950.3 938.9,955.0 939.4,951.3 939.9,956.0 940.4,951.5 940.9,955.8 941.4,950.7 941.9,954.8 942.4,950.2 942.9,954.2 943.4,949.8 943.9,954.3 944.4,950.0 944.9,954.4 945.4,950.3 945.9,954.6 946.4,949.8 946.9,954.2 947.4,949.5 947.9,954.6 948.4,950.4 948.9,955.4 949.4,951.4 949.6,955.6" fill="none" stroke="#008000" stroke-width="4.6" stroke-linejoin="round" stroke-linecap="butt" />
<polyline points="165.4,950.4 165.9,954.4 166.4,950.8 166.9,954.8 167.4,950.8 167.9,954.4 168.4,950.6 168.9,954.5 169.4,950.4 169.9,954.5 170.4,950.4 170.9,954.5 171.4,950.6 171.9,954.8 172.4,950.5 172.9,954.8 173.4,950.5 173.9,954.4 174.4,950.5 174.9,954.6 175.4,950.7 175.9,954.4 176.4,950.5 176.9,954.6 177.4,950.4 177.9,954.7 178.4,950.4 178.9,954.6 179.4,950.5 179.9,954.6 180.4,950.7 180.9,954.8 181.4,950.7 181.9,954.7 182.4,950.4 182.9,954.6 183.4,950.8 183.9,954.7 184.4,950.5 184.9,954.4 185.4,950.8 185.9,954.6 186.4,950.8 186.9,954.8 187.4,950.6 187.9,954.6 188.4,950.7 188.9,954.7 189.4,950.4 189.9,954.5 190.4,950.7 190.9,954.6 191.4,950.7 191.9,954.6 192.4,950.6 192.9,954.6 193.4,950.5 193.9,954.6 194.4,950.8 194.9,954.8 195.4,950.7 195.9,954.5 196.4,950.7 196.9,954.8 197.4,950.4 197.9,954.6 198.4,950.7 198.9,954.4 199.4,950.4 199.9,954.4 200.4,950.6 200.9,954.5 201.4,950.7 201.9,954.5 202.4,950.8 202.9,954.4 203.4,950.6 203.9,954.7 204.4,950.6 204.9,954.4 205.4,950.5 205.9,954.4 206.4,950.7 206.9,954.7 207.4,950.4 207.9,954.6 208.4,950.5 208.9,954.6 209.4,950.6 209.9,954.6 210.4,950.4 210.9,954.7 211.4,950.6 211.9,954.7 212.4,950.6 212.9,954.5 213.4,950.5 213.9,954.7 214.4,950.6 214.9,954.8 215.4,950.8 215.9,954.6 216.4,950.6 216.9,954.5 217.4,950.8 217.9,954.7 218.4,950.6 218.9,954.5 219.4,950.8 219.9,954.8 220.4,950.7 220.9,954.4 221.4,950.7 221.9,954.5 222.4,950.5 222.9,954.4 223.4,950.7 223.9,954.4 224.4,950.6 224.9,954.5 225.4,950.7 225.9,954.7 226.4,950.4 226.9,954.7 227.4,950.8 227.9,954.5 228.4,950.5 228.9,954.4 229.4,950.8 229.9,954.6 230.4,950.7 230.9,954.7 231.4,950.5 231.9,954.6 232.4,950.7 232.9,954.5 233.4,950.7 233.9,954.4 234.4,950.5 234.9,954.4 235.4,950.4 235.9,954.6 236.4,950.8 236.9,954.6 237.4,950.6 237.9,954.4 238.4,950.6 238.9,954.4 239.4,950.5 239.9,954.4 240.4,950.6 240.9,954.8 241.4,950.5 241.9,954.5 242.4,950.6 242.9,954.4 243.4,950.7 243.9,954.7 244.4,950.5 244.9,954.4 245.4,950.7 245.9,954.6 246.4,950.8 246.9,954.7 247.4,950.4 247.9,954.6 248.4,950.7 248.9,954.7 249.4,950.6 249.9,954.4 250.4,950.7 250.9,954.4 251.4,950.5 251.9,954.6 252.4,950.5 252.9,954.7 253.4,950.4 253.9,954.4 254.4,950.7 254.9,954.7 255.4,950.5 255.9,954.5 256.4,950.6 256.9,954.4 257.4,950.8 257.9,954.4 258.4,950.7 258.9,954.5 259.4,950.6 259.9,954.8 260.4,950.8 260.9,954.6 261.4,950.5 261.9,954.6 262.4,950.6 262.9,954.7 263.4,950.8 263.9,954.8 264.4,950.5 264.9,954.7 265.4,950.5 265.9,954.4 266.4,950.8 266.9,954.4 267.4,950.6 267.9,954.8 268.4,950.4 268.9,954.5 269.4,950.6 269.9,954.7 270.4,950.7 270.9,954.8 271.4,950.4 271.9,954.7 272.4,950.4 272.9,954.7 273.4,950.6 273.9,954.5 274.4,950.7 274.9,954.5 275.4,950.8 275.9,954.8 276.4,950.7 276.9,954.4 277.4,950.7 277.9,954.4 278.4,950.6 278.9,954.5 279.4,950.8 279.9,954.6 280.4,950.7 280.9,954.5 281.4,950.5 281.9,954.5 282.4,950.6 282.9,954.7 283.4,950.4 283.9,954.5 284.4,950.8 284.9,954.8 285.4,950.6 285.9,954.5 286.4,950.8 286.9,954.5 287.4,950.7 287.9,954.4 288.4,950.8 288.9,954.8 289.4,950.5 289.9,954.4 290.4,950.6 290.9,954.7 291.4,950.6 291.9,954.4 292.4,950.7 292.9,954.5 293.4,950.4 293.9,954.6 294.4,950.6 294.9,954.6 295.4,950.8 295.9,954.7 296.4,950.5 296.9,954.7 297.4,950.7 297.9,954.5 298.4,950.8 298.9,954.4 299.4,950.8 299.9,954.6 300.4,950.5 300.9,954.5 301.4,950.6 301.9,954.6 302.4,950.6 302.9,954.4 303.4,950.4 303.9,954.6 304.4,950.7 304.9,954.5 305.4,950.5 305.9,954.8 306.4,950.7 306.9,954.5 307.4,950.6 307.9,954.4 308.4,950.7 308.9,954.8 309.4,950.6 309.9,954.7 310.4,950.7 310.9,954.7 311.4,950.5 311.9,954.5 312.4,950.6 312.9,954.7 313.4,950.6 313.9,954.6 314.4,950.7 314.9,954.6 315.4,950.7 315.9,954.7 316.4,950.7 316.9,954.8 317.4,950.6 317.9,954.5 318.4,950.7 318.9,954.4 319.4,950.5 319.9,954.4 320.4,950.6 320.9,954.5 321.4,950.5 321.9,954.4 322.4,950.5 322.9,954.7 323.4,950.7 323.9,954.4 324.4,950.7 324.9,954.6 325.4,950.7 325.9,954.4 326.4,950.6 326.9,954.7 327.4,950.8 327.9,954.8 328.4,950.6 328.9,954.4 329.4,950.8 329.9,954.5 330.4,950.6 330.9,954.4 331.4,950.8 331.9,954.6 332.4,950.7 332.9,954.6 333.4,950.6 333.9,954.7 334.4,950.6 334.9,954.5 335.4,950.8 335.9,954.7 336.4,950.8 336.9,954.4 337.4,950.8 337.9,954.7 338.4,950.6 338.9,954.8 339.4,950.6 339.9,954.5 340.4,950.7 340.9,954.7 341.4,950.7 341.9,954.7 342.4,950.7 342.9,954.4 343.4,950.7 343.9,954.6 344.4,950.8 344.9,954.8 345.4,950.4 345.9,954.6 346.4,950.4 346.9,954.7 347.4,950.6 347.9,954.4 348.4,950.4 348.9,954.8 349.4,950.6 349.9,954.5 350.4,950.8 350.9,954.6 351.4,950.5 351.9,954.5 352.4,950.7 352.9,954.6 353.4,950.5 353.9,954.4 354.4,950.7 354.9,954.6 355.4,950.8 355.9,954.7 356.4,950.7 356.9,954.7 357.4,950.6 357.9,954.4 358.4,950.8 358.9,954.4 359.4,950.7 359.9,954.7 360.4,950.5 360.9,954.6 361.4,950.7 361.9,954.7 362.4,950.5 362.9,954.5 363.4,950.8 363.9,954.6 364.4,950.7 364.9,954.4 365.4,950.7 365.9,954.4 366.4,950.4 366.9,954.5 367.4,950.4 367.9,954.7 368.4,950.8 368.9,954.8 369.4,950.5 369.9,954.6 370.4,950.5 370.9,954.6 371.4,950.8 371.9,954.4 372.4,950.7 372.9,954.7 373.4,950.5 373.9,954.4 374.4,950.7 374.9,954.4 375.4,950.7 375.9,954.5 376.4,950.7 376.9,954.4 377.4,950.6 377.9,954.5 378.4,950.4 378.9,954.6 379.4,950.7 379.9,954.7 380.4,950.7 380.9,954.5 381.4,950.8 381.9,954.5 382.4,950.7 382.9,954.7 383.4,950.7 383.9,954.7 384.4,950.7 384.9,954.4 385.4,950.7 385.9,954.5 386.4,950.4 386.9,954.4 387.4,950.7 387.9,954.4 388.4,950.7 388.9,954.8 389.4,950.4 389.9,954.5 390.4,950.8 390.9,954.6 391.4,950.6 391.9,954.4 392.4,950.7 392.9,954.7 393.4,950.8 393.9,954.7 394.4,950.5 394.9,954.7 395.4,950.6 395.9,954.6 396.4,950.6 396.9,954.4 397.4,950.6 397.9,954.5 398.4,950.7 398.9,954.4 399.4,950.8 399.9,954.4 400.4,950.6 400.9,954.5 401.4,950.6 401.9,954.6 402.4,950.7 402.9,954.4 403.4,950.6 403.9,954.7 404.4,950.5 404.9,954.6 405.4,950.6 405.9,954.4 406.4,950.7 406.9,954.7 407.4,950.7 407.9,954.4 408.4,950.7 408.9,954.7 409.4,950.8 409.9,954.4 410.4,950.6 410.9,954.7 411.4,950.7 411.9,954.5 412.4,950.5 412.9,954.4 413.4,950.7 413.9,954.6 414.4,950.5 414.9,954.7 415.4,950.7 415.9,954.5 416.4,950.7 416.9,954.4 417.4,950.7 417.9,954.7 418.4,950.4 418.9,954.5 419.4,950.8 419.9,954.7 420.4,950.4 420.9,954.7 421.4,950.7 421.9,954.7 422.4,950.5 422.9,954.7 423.4,950.6 423.9,954.8 424.4,950.5 424.9,954.5 425.4,950.7 425.9,954.4 426.4,950.7 426.9,954.7 427.4,950.6 427.9,954.6 428.4,950.5 428.9,954.4 429.4,950.7 429.9,954.6 430.4,950.6 430.9,954.7 431.4,950.4 431.9,954.7 432.4,950.6 432.9,954.7 433.4,950.6 433.9,954.8 434.4,950.6 434.9,954.6 435.4,950.7 435.9,954.5 436.4,950.5 436.9,954.5 437.4,950.4 437.9,954.7 438.4,950.4 438.9,954.7 439.4,950.6 439.9,954.5 440.4,950.8 440.9,954.7 441.4,950.5 441.9,954.7 442.4,950.5 442.9,954.4 443.4,950.5 443.9,954.5 444.4,950.7 444.9,954.7 445.4,950.7 445.9,954.6 446.4,950.8 446.9,954.4 447.4,950.7 447.9,954.5 448.4,950.6 448.9,954.4 449.4,950.8 449.9,954.4 450.4,950.5 450.9,954.8 451.4,950.5 451.9,954.6 452.4,950.8 452.9,954.7 453.4,950.8 453.9,954.4 454.4,950.6 454.9,954.7 455.4,950.7 455.9,954.7 456.4,950.7 456.9,954.8 457.4,950.5 457.9,954.7 458.4,950.4 458.9,954.7 459.4,950.8 459.9,954.6 460.4,950.6 460.9,954.7 461.4,950.7 461.9,954.6 462.4,950.7 462.9,954.4 463.4,950.6 463.9,954.7 464.4,950.6 464.9,954.5 465.4,950.7 465.9,954.5 466.4,950.7 466.9,954.5 467.4,950.7 467.9,954.5 468.4,950.7 468.9,954.7 469.4,950.6 469.9,954.6 470.4,950.4 470.9,954.7 471.4,950.8 471.9,954.5 472.4,950.6 472.9,954.7 473.4,950.6 473.9,954.4 474.4,950.6 474.9,954.6 475.4,950.5 475.9,954.6 476.4,950.7 476.9,954.4 477.4,950.6 477.9,954.7 478.4,950.8 478.9,954.6 479.4,950.6 479.9,954.6 480.4,950.7 480.9,954.4 481.4,950.8 481.9,954.5 482.4,950.4 482.9,954.5 483.4,950.4 483.9,954.7 484.4,950.6 484.9,954.6 485.4,950.6 485.9,954.7 486.4,950.7 486.9,954.4 487.4,950.4 487.9,954.6 488.4,950.7 488.9,954.5 489.4,950.8 489.9,954.6 490.4,950.5 490.9,954.6 491.4,950.5 491.9,954.7 492.4,950.7 492.9,954.6 493.4,950.4 493.9,954.7 494.4,950.8 494.9,954.7 495.4,950.6 495.9,954.7 496.4,950.5 496.9,954.8 497.4,950.4 497.9,954.5 498.4,950.6 498.9,954.4 499.4,950.4 499.9,954.4 500.4,950.7 500.9,954.6 501.4,950.7 501.9,954.4 502.4,950.6 502.9,954.5 503.4,950.6 503.9,954.7 504.4,950.7 504.9,954.6 505.4,950.6 505.9,954.6 506.4,950.5 506.9,954.8 507.4,950.4 507.9,954.4 508.4,950.6 508.9,954.4 509.4,950.5 509.9,954.5 510.4,950.5 510.9,954.6 511.4,950.5 511.9,954.4 512.4,950.6 512.9,954.5 513.4,950.5 513.9,954.4 514.4,950.8 514.9,954.7 515.4,950.7 515.9,954.6 516.4,950.7 516.9,954.8 517.4,950.6 517.9,954.7 518.4,950.5 518.9,954.7 519.4,950.6 519.9,954.5 520.4,950.6 520.9,954.8 521.4,950.5 521.9,954.6 522.4,950.4 522.9,954.7 523.4,950.8 523.9,954.6 524.4,950.5 524.9,954.4 525.4,950.7 525.9,954.6 526.4,950.6 526.9,954.6 527.4,950.8 527.9,954.5 528.4,950.5 528.9,954.5 529.4,950.6 529.9,954.6 530.4,950.7 530.9,954.5 531.4,950.6 531.9,954.7 532.4,950.5 532.9,954.4 533.4,950.6 533.9,954.7 534.4,950.4 534.9,954.6 535.4,950.6 535.9,954.6 536.4,950.5 536.9,954.8 537.4,950.4 537.9,954.8 538.4,950.8 538.9,954.7 539.4,950.7 539.9,954.5 540.4,950.8 540.9,954.8 541.4,950.4 541.9,954.6 542.4,950.6 542.9,954.5 543.4,950.4 543.9,954.7 544.4,950.8 544.9,954.6 545.4,950.4 545.9,954.5 546.4,950.7 546.9,954.5 547.4,950.7 547.9,954.4 548.4,950.6 548.9,954.5 549.4,950.5 549.9,954.6 550.4,950.5 550.9,954.7 551.4,950.5 551.9,954.4 552.4,950.5 552.9,954.7 553.4,950.7 553.9,954.4 554.4,950.8 554.9,954.7 555.4,950.4 555.9,954.4 556.4,950.7 556.9,954.5 557.4,950.8 557.9,954.6 558.4,950.5 558.9,954.7 559.4,950.8 559.9,954.8 560.4,950.5 560.9,954.4 561.4,950.5 561.9,954.8 562.4,950.5 562.9,954.7 563.4,950.5 563.9,954.6 564.4,950.8 564.9,954.7 565.4,950.6 565.9,954.4 566.4,950.8 566.9,954.7 567.4,950.4 567.9,954.4 568.4,950.8 568.9,954.7 569.4,950.7 569.9,954.7 570.4,950.6 570.9,954.7 571.4,950.8 571.9,954.7 572.4,950.8 572.9,954.5 573.4,950.6 573.9,954.5 574.4,950.7 574.9,954.6 575.4,950.8 575.9,954.4 576.4,950.8 576.9,954.7 577.4,950.7 577.9,954.8 578.4,950.4 578.9,954.4 579.4,950.5 579.9,954.8 580.4,950.6 580.9,954.6 581.4,950.5 581.9,954.6 582.4,950.7 582.9,954.7 583.4,950.7 583.9,954.5 584.4,950.8 584.9,954.5 585.4,950.5 585.9,954.4 586.4,950.8 586.9,954.5 587.4,950.7 587.9,954.4 588.4,950.8 588.9,954.4 589.4,950.5 589.9,954.7 590.4,950.5 590.9,954.7 591.4,950.4 591.9,954.5 592.4,950.5 592.9,954.6 593.4,950.4 593.9,954.6 594.4,950.5 594.9,954.7 595.4,950.4 595.9,954.7 596.4,950.7 596.9,954.6 597.4,950.5 597.9,954.8 598.4,950.7 598.9,954.7 599.4,950.5 599.9,954.4 600.4,950.8 600.9,954.6 601.4,950.6 601.9,954.5 602.4,950.6 602.9,954.4 603.4,950.6 603.9,954.6 604.4,950.5 604.9,954.7 605.4,950.8 605.9,954.6 606.4,950.8 606.9,954.6 607.4,950.5 607.9,954.7 608.4,950.8 608.9,954.6 609.4,950.8 609.9,954.6 610.4,950.6 610.9,954.6 611.4,950.5 611.9,954.5 612.4,950.6 612.9,954.5 613.4,950.8 613.9,954.6 614.4,950.8 614.9,954.7 615.4,950.7 615.9,954.4 616.4,950.5 616.9,954.4 617.4,950.7 617.9,954.6 618.4,950.8 618.9,954.7 619.4,950.6 619.9,954.8 620.4,950.7 620.9,954.7 621.4,950.4 621.9,954.6 622.4,950.8 622.9,954.5 623.4,950.5 623.9,954.4 624.4,950.6 624.9,954.6 625.4,950.5 625.9,954.5 626.4,950.4 626.9,954.4 627.4,950.7 627.9,954.5 628.4,950.6 628.9,954.5 629.4,950.7 629.9,954.6 630.4,950.4 630.9,954.4 631.4,950.7 631.9,954.4 632.4,950.5 632.9,954.7 633.4,950.8 633.9,954.7 634.4,950.5 634.9,954.6 635.4,950.6 635.9,952.6 636.4,952.6 636.9,952.6 637.4,935.1 637.9,917.5 638.4,900.0 638.9,842.5 639.4,785.0 639.9,785.0 640.0,785.0 640.4,861.7 640.6,900.0 640.9,936.5 641.4,997.4 641.6,1021.7 641.9,1021.7 642.2,1021.7 642.4,973.0 642.7,900.0 642.9,851.1 643.0,826.7 643.4,826.7 643.6,826.7 643.9,947.3 644.4,947.3 644.5,947.3 644.9,865.6 645.1,824.7 645.4,824.7 645.7,824.7 645.9,843.5 646.4,890.6 646.5,900.0 646.9,917.1 647.4,938.5 647.8,955.6 647.9,955.4 648.4,954.1 648.9,953.1 649.4,950.2 649.5,953.3 649.9,950.0 650.4,953.5 650.9,950.0 651.4,955.0 651.9,951.6 652.4,956.6 652.9,952.1 653.4,956.1 653.9,951.4 654.4,955.3 654.9,950.3 655.4,954.6 655.9,949.9 656.4,954.4 656.9,950.5 657.4,954.7 657.9,950.1 658.4,954.1 658.9,949.2 659.4,953.3 659.9,949.1 660.4,953.7 660.9,949.8 661.4,955.2 661.9,951.2 662.4,956.1 662.9,951.9 663.4,955.8 663.9,951.3 664.4,955.1 664.9,950.7 665.4,955.1 665.9,950.9 666.4,955.7 666.9,950.9 667.4,954.9 667.9,950.2 668.4,953.9 668.9,949.0 669.4,953.1 669.9,948.6 670.4,953.4 670.9,949.7 671.4,954.6 671.9,950.9 672.4,955.3 672.9,950.8 673.4,955.3 673.9,950.5 674.4,955.0 674.9,950.9 675.4,955.8 675.9,951.8 676.4,956.1 676.9,951.8 677.4,955.7 677.9,950.4 678.4,953.9 678.9,949.2 679.4,953.1 679.9,949.3 680.4,953.7 680.9,950.0 681.4,954.3 681.9,952.0 682.4,952.8 682.9,951.7 683.0,952.5 683.4,949.8 683.9,948.6 684.4,946.1 684.9,945.2 685.3,943.2 685.4,944.6 685.9,946.5 686.4,949.8 686.9,951.0 687.4,953.5 687.5,953.0 687.9,953.2 688.4,951.8 688.9,954.1 689.4,949.9 689.9,954.1 690.4,950.1 690.9,954.5 691.4,950.1 691.9,953.9 692.4,949.4 692.9,953.7 693.4,949.0 693.9,954.0 694.4,949.9 694.9,955.0 695.4,951.5 695.9,956.4 696.4,954.1 696.9,953.9 697.4,953.4 697.5,953.3 697.9,967.3 698.4,985.1 698.9,1003.0 699.4,1021.2 699.9,1039.3 700.4,1039.3 700.5,1039.3 700.9,1016.0 701.4,986.8 701.9,957.4 702.0,951.5 702.4,927.8 702.9,898.4 703.2,881.0 703.4,881.0 703.8,881.4 703.9,885.6 704.4,906.9 704.9,928.1 705.4,949.2 705.5,953.3 705.9,953.5 706.4,953.4 706.9,955.5 707.4,951.0 707.9,954.9 708.4,951.0 708.9,955.4 709.4,951.7 709.9,956.0 710.4,951.5 710.9,955.4 711.4,950.1 711.9,951.7 712.4,951.1 712.9,951.0 713.0,950.9 713.4,975.1 713.9,1005.4 714.4,1035.9 714.9,1066.2 715.3,1090.3 715.4,1090.3 715.9,1090.3 716.4,1040.9 716.9,991.7 717.3,952.4 717.4,938.9 717.9,871.5 718.3,817.8 718.4,817.9 718.9,818.5 719.4,858.7 719.9,898.6 720.4,938.1 720.6,953.8 720.9,953.4 721.4,952.7 721.9,952.0 722.4,953.7 722.9,949.3 723.4,953.8 723.9,949.9 724.4,954.2 724.9,950.2 725.4,954.0 725.9,949.6 726.4,953.8 726.9,949.5 727.4,953.9 727.9,950.5 728.4,955.3 728.9,951.7 729.4,956.5 729.9,952.0 730.4,956.1 730.9,951.2 731.4,955.2 731.9,950.2 732.4,954.3 732.9,950.2 733.4,954.8 733.9,950.3 734.4,954.8 734.9,950.0 735.4,953.6 735.9,949.2 736.4,953.2 736.9,949.1 737.4,953.5 737.9,950.0 738.4,955.2 738.9,951.3 739.4,955.7 739.9,951.3 740.4,957.6 740.9,950.4 741.4,956.7 741.9,950.0 742.4,956.9 742.9,950.6 743.4,958.0 743.9,950.9 744.4,956.8 744.9,948.3 745.4,954.0 745.9,946.3 746.4,952.7 746.9,950.0 747.4,950.8 747.9,951.8 748.0,952.0 748.4,966.3 748.9,983.9 749.4,1001.0 749.9,1018.0 750.0,1021.3 750.4,1021.2 750.6,1021.1 750.9,1004.0 751.4,975.9 751.8,953.6 751.9,944.6 752.4,899.8 752.7,872.7 752.9,872.9 753.3,873.0 753.4,877.8 753.9,901.5 754.4,924.7 754.9,947.6 755.0,952.2 755.4,951.3 755.9,950.6 756.4,946.9 756.9,954.5 757.4,947.6 757.9,955.2 758.4,948.3 758.9,955.4 759.4,948.2 759.9,954.6 760.4,947.8 760.9,955.1 761.4,949.1 761.9,957.1 762.4,951.6 762.9,959.1 763.4,951.7 763.9,958.4 764.4,950.4 764.9,956.2 765.4,948.6 765.9,955.6 766.4,948.9 766.9,955.5 767.4,949.1 767.9,955.9 768.4,948.2 768.9,954.1 769.4,946.6 769.9,953.4 770.4,947.1 770.9,954.2 771.4,949.2 771.9,956.8 772.4,951.4 772.9,958.5 773.4,951.6 773.9,957.6 774.4,950.1 774.9,956.5 775.4,949.8 775.9,956.6 776.4,950.2 776.9,957.2 777.4,950.0 777.9,956.1 778.4,951.2 778.9,951.2 779.4,949.3 779.5,950.3 779.9,947.0 780.4,945.7 780.9,943.0 781.4,942.6 781.9,939.8 782.0,940.5 782.4,942.0 782.9,945.7 783.4,947.2 783.9,950.5 784.4,951.9 784.5,953.5 784.9,952.6 785.4,954.3 785.9,951.2 786.4,958.3 786.9,951.9 787.4,957.9 787.9,949.6 788.4,955.4 788.9,947.2 789.4,950.3 789.9,950.0 790.4,950.6 790.5,950.5 790.9,956.8 791.4,964.1 791.9,971.5 792.4,978.2 792.6,981.0 792.9,980.7 793.2,980.6 793.4,976.3 793.9,966.1 794.4,956.2 794.6,952.5 794.9,943.2 795.4,928.2 795.6,922.0 795.9,922.7 796.2,923.0 796.4,926.8 796.9,935.6 797.4,944.0 797.9,951.8 798.0,953.5 798.4,952.5 798.9,951.8 799.4,947.9 799.9,954.7 800.4,948.5 800.9,955.5 801.4,948.5 801.9,954.8 802.4,947.7 802.9,953.7 803.4,946.8 803.9,954.2 804.4,947.7 804.9,956.2 805.4,950.3 805.9,958.4 806.4,951.7 806.9,958.6 807.4,950.9 807.9,957.3 808.4,949.7 808.9,956.5 809.4,949.6 809.9,956.1 810.4,950.1 810.9,956.5 811.4,948.8 811.9,954.7 812.4,946.9 812.9,953.3 813.4,946.1 813.9,953.3 814.4,947.3 814.9,955.6 815.4,950.1 815.9,957.5 816.4,951.1 816.9,957.4 817.4,953.2 817.9,953.4 818.4,953.0 818.5,953.5 818.9,957.0 819.4,962.5 819.9,967.1 820.4,971.9 820.9,971.2 821.0,971.1 821.4,963.3 821.9,953.6 822.0,951.5 822.4,942.2 822.7,935.2 822.9,935.1 823.3,934.9 823.4,935.7 823.9,939.4 824.4,944.0 824.9,947.6 825.4,952.2 825.5,952.3 825.9,953.1 826.4,952.2 826.9,955.5 827.4,948.6 827.9,955.7 828.4,949.9 828.9,957.9 829.4,951.3 829.9,959.0 830.4,951.8 830.9,958.3 831.4,949.8 831.9,955.9 832.4,947.7 832.9,954.2 833.4,947.3 833.9,954.6 834.4,951.7 834.9,952.0 835.4,952.3 835.5,952.3 835.9,970.4 836.4,993.1 836.9,1015.8 837.4,1038.7 837.9,1039.0 838.0,1039.1 838.4,1017.8 838.9,991.2 839.4,964.4 839.6,953.7 839.9,932.8 840.4,897.9 840.9,862.8 841.4,862.4 841.5,862.3 841.9,882.2 842.4,907.2 842.9,932.3 843.3,952.5 843.4,952.6 843.9,952.6 844.4,952.6 844.9,950.3 845.4,952.2 845.9,951.8 846.4,951.6 846.5,951.5 846.9,968.9 847.4,990.7 847.9,1012.8 848.0,1017.3 848.4,1017.7 848.6,1017.9 848.9,1004.2 849.4,981.2 849.9,958.1 850.0,953.4 850.4,936.0 850.9,914.1 851.2,901.1 851.4,901.0 851.8,900.9 851.9,904.0 852.4,919.3 852.9,934.7 853.4,950.2 853.5,953.2 853.9,953.2 854.4,953.0 854.9,954.7 855.4,949.9 855.9,954.2 856.4,949.3 856.9,953.6 857.4,949.4 857.9,954.5 858.4,950.4 858.9,955.1 859.4,950.5 859.9,955.3 860.4,950.4 860.9,954.8 861.4,950.4 861.9,955.3 862.4,951.1 862.9,955.9 863.4,951.4 863.9,955.9 864.4,951.0 864.9,955.1 865.4,950.2 865.9,954.0 866.4,949.7 866.9,953.9 867.4,949.8 867.9,954.5 868.4,952.3 868.9,952.5 869.4,952.2 869.5,952.3 869.9,958.0 870.4,965.5 870.9,972.9 871.4,980.7 871.9,981.0 872.0,981.2 872.4,974.4 872.9,966.0 873.4,957.3 873.6,953.8 873.9,946.6 874.4,934.6 874.9,922.3 875.0,920.0 875.4,919.6 875.6,919.6 875.9,924.6 876.4,933.3 876.9,941.9 877.4,950.8 877.5,952.4 877.9,952.5 878.4,952.3 878.9,954.4 879.4,949.6 879.9,954.0 880.4,949.3 880.9,954.2 881.4,949.9 881.9,955.1 882.4,951.2 882.9,955.7 883.4,951.1 883.9,955.8 884.4,950.7 884.9,955.4 885.4,950.7 885.9,955.0 886.4,950.4 886.9,955.2 887.4,950.8 887.9,954.9 888.4,950.5 888.9,954.5 889.4,949.3 889.9,953.8 890.4,949.0 890.9,954.0 891.4,949.7 891.9,954.9 892.4,950.7 892.9,955.3 893.4,950.9 893.9,955.1 894.4,950.4 894.9,954.8 895.4,950.4 895.9,955.3 896.4,951.2 896.9,955.7 897.4,951.4 897.9,955.5 898.4,950.6 898.9,954.4 899.4,949.4 899.9,953.8 900.4,949.5 900.9,953.9 901.4,950.1 901.9,954.8 902.4,950.3 902.9,954.6 903.4,950.0 903.9,954.5 904.4,950.2 904.9,955.0 905.4,950.7 905.9,955.5 906.4,953.7 906.9,953.8 907.3,953.7 907.4,958.5 907.9,982.2 908.4,1005.8 908.9,1029.5 909.2,1043.7 909.4,1043.6 909.8,1043.6 909.9,1035.9 910.4,997.9 910.9,959.9 911.0,952.3 911.4,925.1 911.9,891.1 912.1,877.4 912.4,877.3 912.7,877.2 912.9,885.4 913.4,906.0 913.9,926.8 914.4,947.8 914.5,952.0 914.9,952.3 915.4,952.9 915.9,951.3 916.4,956.0 916.9,951.2 917.4,955.6 917.9,951.0 918.4,954.9 918.9,950.4 919.4,954.6 919.9,950.4 920.4,954.9 920.9,950.7 921.4,955.0 921.9,950.3 922.4,954.1 922.9,949.5 923.4,953.6 923.9,949.1 924.4,951.8 924.9,952.2 925.2,952.5 925.4,959.9 925.9,978.5 926.4,996.9 926.9,1015.1 927.0,1018.7 927.4,1018.6 927.6,1018.5 927.9,1003.3 928.4,978.0 928.9,952.9 929.4,925.1 929.9,897.3 930.0,891.7 930.4,891.8 930.6,891.8 930.9,902.0 931.4,918.8 931.9,935.5 932.4,952.0 932.9,951.7 933.4,951.5 933.9,953.8 934.4,949.6 934.9,954.6 935.4,950.4 935.9,954.7 936.4,950.4 936.9,955.0 937.4,950.5 937.9,954.8 938.4,950.6 938.9,955.4 939.4,951.0 939.9,955.8 940.4,951.6 940.9,956.0 941.4,950.7 941.9,954.7 942.4,950.0 942.9,954.0 943.4,949.4 943.9,954.4 944.4,949.9 944.9,954.7 945.4,950.2 945.9,954.7 946.4,950.0 946.9,954.1 947.4,949.7 947.9,954.5 948.4,950.2 948.9,955.0 949.4,951.4 949.6,955.6" fill="none" stroke="#008000" stroke-width="4.6" stroke-linejoin="round" stroke-linecap="butt" />
<polyline points="165.4,696.3 165.9,700.7 166.4,696.3 166.9,700.3 167.4,696.4 167.9,700.5 168.4,696.5 168.9,700.4 169.4,696.6 169.9,700.5 170.4,696.6 170.9,700.5 171.4,696.7 171.9,700.3 172.4,696.4 172.9,700.5 173.4,696.5 173.9,700.6 174.4,696.5 174.9,700.3 175.4,696.3 175.9,700.6 176.4,696.4 176.9,700.6 177.4,696.3 177.9,700.5 178.4,696.4 178.9,700.5 179.4,696.4 179.9,700.6 180.4,696.6 180.9,700.3 181.4,696.5 181.9,700.6 182.4,696.4 182.9,700.5 183.4,696.4 183.9,700.4 184.4,696.6 184.9,700.4 185.4,696.3 185.9,700.4 186.4,696.6 186.9,700.3 187.4,696.7 187.9,700.4 188.4,696.4 188.9,700.7 189.4,696.6 189.9,700.5 190.4,696.6 190.9,700.4 191.4,696.4 191.9,700.5 192.4,696.6 192.9,700.3 193.4,696.3 193.9,700.6 194.4,696.3 194.9,700.4 195.4,696.5 195.9,700.7 196.4,696.4 196.9,700.7 197.4,696.6 197.9,700.7 198.4,696.7 198.9,700.5 199.4,696.7 199.9,700.7 200.4,696.4 200.9,700.7 201.4,696.3 201.9,700.7 202.4,696.5 202.9,700.7 203.4,696.4 203.9,700.5 204.4,696.3 204.9,700.5 205.4,696.6 205.9,700.3 206.4,696.5 206.9,700.4 207.4,696.3 207.9,700.7 208.4,696.6 208.9,700.3 209.4,696.5 209.9,700.4 210.4,696.5 210.9,700.7 211.4,696.6 211.9,700.5 212.4,696.3 212.9,700.5 213.4,696.5 213.9,700.7 214.4,696.3 214.9,700.7 215.4,696.4 215.9,700.5 216.4,696.4 216.9,700.7 217.4,696.4 217.9,700.4 218.4,696.6 218.9,700.5 219.4,696.4 219.9,700.6 220.4,696.5 220.9,700.7 221.4,696.7 221.9,700.6 222.4,696.6 222.9,700.6 223.4,696.3 223.9,700.4 224.4,696.3 224.9,700.3 225.4,696.4 225.9,700.5 226.4,696.6 226.9,700.6 227.4,696.5 227.9,700.5 228.4,696.4 228.9,700.3 229.4,696.5 229.9,700.7 230.4,696.6 230.9,700.7 231.4,696.6 231.9,700.6 232.4,696.6 232.9,700.5 233.4,696.5 233.9,700.3 234.4,696.4 234.9,700.5 235.4,696.4 235.9,700.5 236.4,696.4 236.9,700.5 237.4,696.6 237.9,700.7 238.4,696.7 238.9,700.7 239.4,696.3 239.9,700.5 240.4,696.4 240.9,700.6 241.4,696.4 241.9,700.4 242.4,696.6 242.9,700.5 243.4,696.6 243.9,700.7 244.4,696.5 244.9,700.5 245.4,696.5 245.9,700.7 246.4,696.5 246.9,700.5 247.4,696.6 247.9,700.4 248.4,696.7 248.9,700.4 249.4,696.6 249.9,700.7 250.4,696.5 250.9,700.3 251.4,696.5 251.9,700.4 252.4,696.4 252.9,700.5 253.4,696.3 253.9,700.4 254.4,696.3 254.9,700.4 255.4,696.3 255.9,700.6 256.4,696.7 256.9,700.7 257.4,696.6 257.9,700.5 258.4,696.6 258.9,700.7 259.4,696.7 259.9,700.6 260.4,696.5 260.9,700.6 261.4,696.6 261.9,700.3 262.4,696.3 262.9,700.6 263.4,696.6 263.9,700.7 264.4,696.3 264.9,700.4 265.4,696.7 265.9,700.6 266.4,696.6 266.9,700.6 267.4,696.5 267.9,700.6 268.4,696.4 268.9,700.6 269.4,696.3 269.9,700.6 270.4,696.4 270.9,700.4 271.4,696.6 271.9,700.3 272.4,696.3 272.9,700.4 273.4,696.5 273.9,700.4 274.4,696.4 274.9,700.5 275.4,696.3 275.9,700.5 276.4,696.5 276.9,700.6 277.4,696.4 277.9,700.7 278.4,696.6 278.9,700.7 279.4,696.3 279.9,700.7 280.4,696.6 280.9,700.5 281.4,696.4 281.9,700.7 282.4,696.7 282.9,700.5 283.4,696.4 283.9,700.6 284.4,696.5 284.9,700.4 285.4,696.5 285.9,700.3 286.4,696.6 286.9,700.5 287.4,696.3 287.9,700.6 288.4,696.5 288.9,700.4 289.4,696.6 289.9,700.6 290.4,696.5 290.9,700.4 291.4,696.3 291.9,700.6 292.4,696.3 292.9,700.5 293.4,696.4 293.9,700.5 294.4,696.4 294.9,700.7 295.4,696.3 295.9,700.6 296.4,696.5 296.9,700.3 297.4,696.3 297.9,700.5 298.4,696.5 298.9,700.3 299.4,696.7 299.9,700.5 300.4,696.3 300.9,700.6 301.4,696.4 301.9,700.6 302.4,696.6 302.9,700.4 303.4,696.4 303.9,700.3 304.4,696.4 304.9,700.5 305.4,696.5 305.9,700.4 306.4,696.7 306.9,700.5 307.4,696.6 307.9,700.6 308.4,696.6 308.9,700.6 309.4,696.4 309.9,700.6 310.4,696.5 310.9,700.4 311.4,696.5 311.9,700.7 312.4,696.6 312.9,700.4 313.4,696.5 313.9,700.5 314.4,696.3 314.9,700.4 315.4,696.3 315.9,700.3 316.4,696.3 316.9,700.6 317.4,696.3 317.9,700.4 318.4,696.4 318.9,700.7 319.4,696.4 319.9,700.4 320.4,696.3 320.9,700.7 321.4,696.7 321.9,700.7 322.4,696.7 322.9,700.3 323.4,696.3 323.9,700.6 324.4,696.3 324.9,700.6 325.4,696.5 325.9,700.4 326.4,696.4 326.9,700.7 327.4,696.4 327.9,700.7 328.4,696.6 328.9,700.6 329.4,696.4 329.9,700.3 330.4,696.3 330.9,700.4 331.4,696.6 331.9,700.3 332.4,696.4 332.9,700.4 333.4,696.3 333.9,700.3 334.4,696.3 334.9,700.6 335.4,696.4 335.9,700.6 336.4,696.3 336.9,700.6 337.4,696.6 337.9,700.7 338.4,696.5 338.9,700.6 339.4,696.5 339.9,700.7 340.4,696.5 340.9,700.7 341.4,696.7 341.9,700.4 342.4,696.4 342.9,700.6 343.4,696.3 343.9,700.4 344.4,696.3 344.9,700.7 345.4,696.6 345.9,700.4 346.4,696.4 346.9,700.7 347.4,696.4 347.9,700.5 348.4,696.5 348.9,700.7 349.4,696.5 349.9,700.5 350.4,696.4 350.9,700.7 351.4,696.3 351.9,700.7 352.4,696.6 352.9,700.6 353.4,696.3 353.9,700.6 354.4,696.3 354.9,700.7 355.4,696.6 355.9,700.5 356.4,696.5 356.9,700.4 357.4,696.5 357.9,700.7 358.4,696.4 358.9,700.3 359.4,696.6 359.9,700.5 360.4,696.3 360.9,700.5 361.4,696.6 361.9,700.5 362.4,696.6 362.9,700.3 363.4,696.4 363.9,700.7 364.4,696.4 364.9,700.6 365.4,696.6 365.9,700.6 366.4,696.4 366.9,700.6 367.4,696.5 367.9,700.3 368.4,696.3 368.9,700.4 369.4,696.4 369.9,700.5 370.4,696.3 370.9,700.5 371.4,696.7 371.9,700.5 372.4,696.5 372.9,700.7 373.4,696.5 373.9,700.6 374.4,696.5 374.9,700.6 375.4,696.6 375.9,700.7 376.4,696.3 376.9,700.3 377.4,696.3 377.9,700.7 378.4,696.4 378.9,700.3 379.4,696.4 379.9,700.6 380.4,696.4 380.9,700.7 381.4,696.3 381.9,700.6 382.4,696.3 382.9,700.4 383.4,696.6 383.9,700.5 384.4,696.5 384.9,700.7 385.4,696.4 385.9,700.6 386.4,696.4 386.9,700.7 387.4,696.5 387.9,700.6 388.4,696.4 388.9,700.5 389.4,696.5 389.9,700.4 390.4,696.7 390.9,700.5 391.4,696.6 391.9,700.3 392.4,696.5 392.9,700.5 393.4,696.3 393.9,700.7 394.4,696.4 394.9,700.7 395.4,696.6 395.9,700.4 396.4,696.4 396.9,700.4 397.4,696.3 397.9,700.5 398.4,696.3 398.9,700.4 399.4,696.7 399.9,700.6 400.4,696.4 400.9,700.4 401.4,696.3 401.9,700.7 402.4,696.4 402.9,700.7 403.4,696.3 403.9,700.4 404.4,696.4 404.9,700.6 405.4,696.4 405.9,700.5 406.4,696.5 406.9,700.6 407.4,696.3 407.9,700.3 408.4,696.5 408.9,700.4 409.4,696.3 409.9,700.4 410.4,696.7 410.9,700.4 411.4,696.6 411.9,700.5 412.4,696.3 412.9,700.5 413.4,696.7 413.9,700.6 414.4,696.6 414.9,700.6 415.4,696.4 415.9,700.5 416.4,696.4 416.9,700.6 417.4,696.3 417.9,700.6 418.4,696.3 418.9,700.6 419.4,696.6 419.9,700.5 420.4,696.4 420.9,700.7 421.4,696.4 421.9,700.7 422.4,696.3 422.9,700.5 423.4,696.4 423.9,700.3 424.4,696.5 424.9,700.6 425.4,696.3 425.9,700.7 426.4,696.5 426.9,700.4 427.4,696.3 427.9,700.6 428.4,696.6 428.9,700.3 429.4,696.3 429.9,700.6 430.4,696.7 430.9,700.7 431.4,696.4 431.9,700.6 432.4,696.3 432.9,700.4 433.4,696.5 433.9,700.4 434.4,696.4 434.9,700.5 435.4,696.3 435.9,700.4 436.4,696.6 436.9,700.5 437.4,696.7 437.9,700.5 438.4,696.3 438.9,700.7 439.4,696.6 439.9,700.7 440.4,696.6 440.9,700.4 441.4,696.4 441.9,700.4 442.4,696.6 442.9,700.3 443.4,696.6 443.9,700.4 444.4,696.3 444.9,700.3 445.4,696.5 445.9,700.4 446.4,696.4 446.9,700.3 447.4,696.5 447.9,700.6 448.4,696.7 448.9,700.5 449.4,696.6 449.9,700.5 450.4,696.4 450.9,700.3 451.4,696.3 451.9,700.4 452.4,696.4 452.9,700.4 453.4,696.7 453.9,700.4 454.4,696.7 454.9,700.4 455.4,696.6 455.9,700.3 456.4,696.3 456.9,700.5 457.4,696.5 457.9,700.5 458.4,696.3 458.9,700.3 459.4,696.7 459.9,700.6 460.4,696.7 460.9,700.5 461.4,696.4 461.9,700.7 462.4,696.7 462.9,700.5 463.4,696.6 463.9,700.6 464.4,696.7 464.9,700.6 465.4,696.3 465.9,700.5 466.4,696.4 466.9,700.7 467.4,696.3 467.9,700.7 468.4,696.5 468.9,700.3 469.4,696.3 469.9,700.7 470.4,696.4 470.9,700.4 471.4,696.3 471.9,700.6 472.4,696.6 472.9,700.7 473.4,696.6 473.9,700.4 474.4,696.3 474.9,700.3 475.4,696.3 475.9,700.5 476.4,696.4 476.9,700.6 477.4,696.3 477.9,700.4 478.4,696.7 478.9,700.5 479.4,696.6 479.9,700.5 480.4,696.7 480.9,700.3 481.4,696.4 481.9,700.3 482.4,696.6 482.9,700.5 483.4,696.7 483.9,700.7 484.4,696.3 484.9,700.3 485.4,696.3 485.9,700.4 486.4,696.4 486.9,700.3 487.4,696.4 487.9,700.7 488.4,696.6 488.9,700.4 489.4,696.5 489.9,700.7 490.4,696.3 490.9,700.4 491.4,696.3 491.9,700.6 492.4,696.3 492.9,700.7 493.4,696.6 493.9,700.6 494.4,696.7 494.9,700.4 495.4,696.5 495.9,700.4 496.4,696.6 496.9,700.5 497.4,696.5 497.9,700.7 498.4,696.4 498.9,700.6 499.4,696.4 499.9,700.4 500.4,696.3 500.9,700.6 501.4,696.3 501.9,700.5 502.4,696.5 502.9,700.3 503.4,696.5 503.9,700.6 504.4,696.3 504.9,700.7 505.4,696.5 505.9,700.6 506.4,696.3 506.9,700.7 507.4,696.4 507.9,700.4 508.4,696.3 508.9,700.3 509.4,696.4 509.9,700.5 510.4,696.3 510.9,700.6 511.4,696.6 511.9,700.4 512.4,696.7 512.9,700.6 513.4,696.3 513.9,700.5 514.4,696.6 514.9,700.6 515.4,696.6 515.9,700.5 516.4,696.5 516.9,700.4 517.4,696.4 517.9,700.4 518.4,696.6 518.9,700.6 519.4,696.3 519.9,700.4 520.4,696.6 520.9,700.4 521.4,696.6 521.9,700.5 522.4,696.3 522.9,700.4 523.4,696.4 523.9,700.5 524.4,696.4 524.9,700.5 525.4,696.4 525.9,700.4 526.4,696.4 526.9,700.5 527.4,696.3 527.9,700.6 528.4,696.5 528.9,700.7 529.4,696.6 529.9,700.3 530.4,696.6 530.9,700.6 531.4,696.7 531.9,700.6 532.4,696.7 532.9,700.4 533.4,696.4 533.9,700.3 534.4,696.5 534.9,700.7 535.4,696.4 535.9,700.5 536.4,696.3 536.9,700.6 537.4,696.3 537.9,700.5 538.4,696.5 538.9,700.6 539.4,696.4 539.9,700.6 540.4,696.6 540.9,700.5 541.4,696.6 541.9,700.4 542.4,696.6 542.9,700.6 543.4,696.6 543.9,700.5 544.4,696.7 544.9,700.6 545.4,696.4 545.9,700.3 546.4,696.3 546.9,700.7 547.4,696.4 547.9,700.7 548.4,696.4 548.9,700.3 549.4,696.6 549.9,700.4 550.4,696.7 550.9,700.6 551.4,696.4 551.9,700.5 552.4,696.4 552.9,700.4 553.4,696.6 553.9,700.4 554.4,696.6 554.9,700.7 555.4,696.5 555.9,700.6 556.4,696.3 556.9,700.6 557.4,696.5 557.9,700.7 558.4,696.7 558.9,700.5 559.4,696.3 559.9,700.6 560.4,696.5 560.9,700.7 561.4,696.4 561.9,700.6 562.4,696.6 562.9,700.6 563.4,696.4 563.9,700.7 564.4,696.5 564.9,700.7 565.4,696.4 565.9,700.4 566.4,696.4 566.9,700.4 567.4,696.4 567.9,700.4 568.4,696.3 568.9,700.5 569.4,696.3 569.9,700.7 570.4,696.5 570.9,700.6 571.4,696.6 571.9,700.5 572.4,696.5 572.9,700.6 573.4,696.5 573.9,700.4 574.4,696.4 574.9,700.5 575.4,696.5 575.9,700.5 576.4,696.3 576.9,700.6 577.4,696.4 577.9,700.5 578.4,696.5 578.9,700.5 579.4,696.4 579.9,700.5 580.4,696.7 580.9,700.4 581.4,696.7 581.9,700.3 582.4,696.5 582.9,700.5 583.4,696.5 583.9,700.4 584.4,696.6 584.9,700.5 585.4,696.6 585.9,700.4 586.4,696.5 586.9,700.6 587.4,696.7 587.9,700.3 588.4,696.5 588.9,700.7 589.4,696.4 589.9,700.5 590.4,696.3 590.9,700.6 591.4,696.3 591.9,700.7 592.4,696.7 592.9,700.4 593.4,696.3 593.9,700.5 594.4,696.3 594.9,700.3 595.4,696.3 595.9,700.6 596.4,696.5 596.9,700.7 597.4,696.5 597.9,700.5 598.4,696.6 598.9,700.7 599.4,696.6 599.9,700.4 600.4,696.7 600.9,700.3 601.4,696.6 601.9,700.3 602.4,696.5 602.9,700.5 603.4,696.7 603.9,700.5 604.4,696.6 604.9,700.4 605.4,696.5 605.9,700.4 606.4,696.7 606.9,700.7 607.4,696.3 607.9,700.4 608.4,696.4 608.9,700.6 609.4,696.6 609.9,700.5 610.4,696.6 610.9,700.4 611.4,696.5 611.9,700.3 612.4,696.6 612.9,700.7 613.4,696.4 613.9,700.4 614.4,696.3 614.9,700.4 615.4,696.3 615.9,700.4 616.4,696.3 616.9,700.5 617.4,696.3 617.9,700.4 618.4,696.5 618.9,700.5 619.4,696.3 619.9,700.7 620.4,696.6 620.9,700.5 621.4,696.6 621.9,700.3 622.4,696.6 622.9,700.3 623.4,696.6 623.9,700.5 624.4,696.3 624.9,700.6 625.4,696.4 625.9,700.4 626.4,696.6 626.9,700.5 627.4,696.6 627.9,700.3 628.4,696.6 628.9,700.7 629.4,696.7 629.9,700.5 630.4,696.6 630.9,700.6 631.4,696.7 631.9,700.5 632.4,696.4 632.9,700.5 633.4,696.6 633.9,700.7 634.4,696.7 634.9,700.7 635.4,696.3 635.9,700.7 636.4,696.3 636.9,700.5 637.4,696.4 637.9,700.5 638.4,696.4 638.9,700.5 639.4,696.3 639.9,700.4 640.4,696.0 640.9,700.7 641.4,696.3 641.9,701.1 642.4,696.1 642.9,700.9 643.4,695.8 643.9,701.1 644.4,696.3 644.9,701.0 645.4,696.1 645.9,701.0 646.4,696.2 646.9,700.8 647.4,695.8 647.9,701.0 648.4,696.0 648.9,701.0 649.4,695.9 649.9,700.8 650.4,695.9 650.9,700.9 651.4,696.3 651.9,700.8 652.4,695.8 652.9,701.1 653.4,695.9 653.9,700.9 654.4,696.0 654.9,700.9 655.4,695.9 655.9,700.9 656.4,696.1 656.9,701.2 657.4,696.1 657.9,700.7 658.4,695.9 658.9,700.7 659.4,696.2 659.9,700.9 660.4,696.2 660.9,700.9 661.4,696.1 661.9,700.9 662.4,696.0 662.9,701.0 663.4,696.3 663.9,700.8 664.4,696.3 664.9,700.8 665.4,696.1 665.9,701.1 666.4,696.3 666.9,701.1 667.4,696.3 667.9,701.1 668.4,695.9 668.9,701.2 669.4,696.0 669.9,700.7 670.4,696.2 670.9,700.9 671.4,696.0 671.9,701.2 672.4,695.9 672.9,700.7 673.4,696.3 673.9,701.0 674.4,696.2 674.9,701.0 675.4,696.1 675.9,701.0 676.4,696.2 676.9,701.2 677.4,696.2 677.9,700.9 678.4,696.3 678.9,700.8 679.4,696.3 679.9,701.0 680.4,696.3 680.9,700.8 681.4,695.9 681.9,701.1 682.4,696.2 682.9,701.1 683.4,695.9 683.9,701.0 684.4,696.0 684.9,701.1 685.4,696.2 685.9,700.8 686.4,696.2 686.9,700.8 687.4,696.1 687.9,701.0 688.4,696.2 688.9,700.7 689.4,696.3 689.9,700.8 690.4,696.3 690.9,701.0 691.4,695.9 691.9,700.9 692.4,696.0 692.9,700.9 693.4,696.3 693.9,701.1 694.4,695.9 694.9,700.7 695.4,696.2 695.9,701.0 696.4,696.0 696.9,700.7 697.4,696.1 697.9,700.9 698.4,696.0 698.9,701.1 699.4,696.3 699.9,700.9 700.4,695.8 700.9,700.8 701.4,696.2 701.9,701.1 702.4,696.0 702.9,700.9 703.4,696.1 703.9,700.7 704.4,696.0 704.9,700.8 705.4,696.1 705.9,701.2 706.4,696.1 706.9,700.9 707.4,696.1 707.9,700.8 708.4,696.0 708.9,701.0 709.4,696.3 709.9,700.7 710.4,696.1 710.9,700.7 711.4,696.0 711.9,700.7 712.4,696.1 712.9,700.9 713.4,695.8 713.9,700.8 714.4,696.2 714.9,700.8 715.4,696.0 715.9,700.8 716.4,696.2 716.9,701.0 717.4,696.1 717.9,700.7 718.4,695.9 718.9,700.7 719.4,696.2 719.9,701.0 720.4,696.1 720.9,701.1 721.4,696.3 721.9,701.0 722.4,696.2 722.9,700.7 723.4,696.0 723.9,701.1 724.4,696.3 724.9,700.7 725.4,696.2 725.9,701.0 726.4,696.3 726.9,701.2 727.4,696.3 727.9,701.1 728.4,695.9 728.9,700.9 729.4,695.9 729.9,700.8 730.4,695.9 730.9,701.0 731.4,695.9 731.9,701.1 732.4,695.9 732.9,701.1 733.4,696.2 733.9,700.7 734.4,696.2 734.9,701.1 735.4,696.1 735.9,700.9 736.4,696.1 736.9,700.7 737.4,695.8 737.9,701.0 738.4,696.0 738.9,700.9 739.4,695.9 739.9,700.9 740.4,696.0 740.9,701.1 741.4,696.3 741.9,701.1 742.4,696.0 742.9,700.8 743.4,696.3 743.9,700.9 744.4,696.2 744.9,700.7 745.4,695.9 745.9,701.1 746.4,695.9 746.9,701.1 747.4,696.1 747.9,701.2 748.4,696.2 748.9,700.8 749.4,696.1 749.9,701.0 750.4,696.3 750.9,700.7 751.4,695.8 751.9,700.7 752.4,695.9 752.9,700.9 753.4,695.8 753.9,701.1 754.4,696.1 754.9,701.0 755.4,696.0 755.9,700.8 756.4,696.3 756.9,701.2 757.4,696.0 757.9,701.1 758.4,696.0 758.9,700.7 759.4,696.3 759.9,700.8 760.4,695.8 760.9,701.1 761.4,696.2 761.9,700.9 762.4,695.8 762.9,700.9 763.4,696.2 763.9,700.9 764.4,696.2 764.9,701.0 765.4,696.3 765.9,700.9 766.4,696.3 766.9,700.7 767.4,695.9 767.9,700.9 768.4,696.3 768.9,700.9 769.4,695.9 769.9,700.9 770.4,696.2 770.9,700.9 771.4,695.9 771.9,701.0 772.4,696.1 772.9,701.0 773.4,696.1 773.9,701.2 774.4,696.2 774.9,700.8 775.4,696.1 775.9,701.1 776.4,695.9 776.9,701.0 777.4,696.3 777.9,701.1 778.4,695.8 778.9,700.7 779.4,696.2 779.9,700.8 780.4,696.3 780.9,700.7 781.4,696.1 781.9,701.0 782.4,696.1 782.9,701.0 783.4,696.0 783.9,701.1 784.4,695.8 784.9,701.0 785.4,696.1 785.9,700.7 786.4,696.2 786.9,700.8 787.4,695.8 787.9,701.1 788.4,696.3 788.9,700.8 789.4,696.1 789.9,701.0 790.4,695.8 790.9,700.8 791.4,696.0 791.9,700.9 792.4,695.9 792.9,700.9 793.4,695.9 793.9,701.0 794.4,696.0 794.9,701.1 795.4,696.1 795.9,700.9 796.4,696.0 796.9,701.0 797.4,696.0 797.9,700.9 798.4,696.1 798.9,700.9 799.4,696.1 799.9,700.8 800.4,696.3 800.9,700.7 801.4,696.3 801.9,700.7 802.4,696.1 802.9,701.2 803.4,696.1 803.9,701.2 804.4,696.0 804.9,701.2 805.4,696.0 805.9,701.2 806.4,695.9 806.9,700.7 807.4,696.3 807.9,701.2 808.4,696.2 808.9,701.0 809.4,695.8 809.9,701.2 810.4,696.1 810.9,700.8 811.4,696.0 811.9,701.0 812.4,696.3 812.9,701.1 813.4,696.3 813.9,700.9 814.4,695.9 814.9,701.1 815.4,695.9 815.9,701.1 816.4,696.1 816.9,700.9 817.4,696.1 817.9,700.9 818.4,696.2 818.9,700.9 819.4,696.1 819.9,700.7 820.4,696.0 820.9,700.7 821.4,696.0 821.9,700.7 822.4,696.2 822.9,700.9 823.4,695.9 823.9,701.2 824.4,695.9 824.9,701.1 825.4,696.1 825.9,700.9 826.4,696.0 826.9,701.2 827.4,695.9 827.9,700.7 828.4,696.0 828.9,701.0 829.4,695.9 829.9,701.2 830.4,696.1 830.9,700.9 831.4,696.2 831.9,700.8 832.4,695.9 832.9,701.1 833.4,695.9 833.9,700.8 834.4,695.9 834.9,700.7 835.4,696.1 835.9,700.8 836.4,696.2 836.9,701.2 837.4,696.3 837.9,701.2 838.4,696.0 838.9,701.2 839.4,696.1 839.9,701.1 840.4,696.0 840.9,701.0 841.4,696.0 841.9,700.8 842.4,696.0 842.9,700.8 843.4,696.3 843.9,701.0 844.4,696.3 844.9,701.2 845.4,696.2 845.9,701.2 846.4,696.2 846.9,701.0 847.4,696.2 847.9,701.0 848.4,696.2 848.9,700.8 849.4,696.2 849.9,701.2 850.4,695.9 850.9,700.9 851.4,695.8 851.9,701.2 852.4,696.3 852.9,701.0 853.4,696.2 853.9,700.8 854.4,696.2 854.9,700.8 855.4,696.0 855.9,700.8 856.4,696.2 856.9,700.7 857.4,696.2 857.9,701.1 858.4,696.2 858.9,701.2 859.4,696.3 859.9,700.7 860.4,696.2 860.9,700.9 861.4,696.2 861.9,700.9 862.4,695.9 862.9,701.0 863.4,696.2 863.9,701.1 864.4,696.1 864.9,701.0 865.4,696.1 865.9,701.1 866.4,696.0 866.9,700.9 867.4,696.2 867.9,700.7 868.4,696.2 868.9,701.1 869.4,695.8 869.9,700.9 870.4,696.3 870.9,700.8 871.4,695.8 871.9,700.7 872.4,696.1 872.9,700.7 873.4,696.1 873.9,700.8 874.4,695.8 874.9,701.2 875.4,696.1 875.9,701.1 876.4,696.0 876.9,700.9 877.4,695.9 877.9,700.7 878.4,696.2 878.9,701.1 879.4,696.1 879.9,701.0 880.4,696.0 880.9,701.1 881.4,696.2 881.9,700.8 882.4,696.2 882.9,701.1 883.4,696.1 883.9,701.1 884.4,695.9 884.9,700.8 885.4,695.9 885.9,701.1 886.4,696.1 886.9,700.9 887.4,696.1 887.9,700.9 888.4,696.2 888.9,701.0 889.4,695.9 889.9,700.8 890.4,696.1 890.9,700.9 891.4,696.2 891.9,701.2 892.4,695.9 892.9,700.7 893.4,696.1 893.9,700.8 894.4,696.1 894.9,700.7 895.4,696.0 895.9,700.9 896.4,696.0 896.9,700.7 897.4,696.1 897.9,700.9 898.4,696.0 898.9,700.7 899.4,695.9 899.9,700.9 900.4,696.2 900.9,700.8 901.4,695.9 901.9,700.7 902.4,696.0 902.9,700.8 903.4,696.2 903.9,701.2 904.4,696.3 904.9,700.8 905.4,696.3 905.9,700.9 906.4,696.3 906.9,700.7 907.4,696.0 907.9,701.2 908.4,696.2 908.9,701.0 909.4,695.8 909.9,700.8 910.4,696.3 910.9,700.9 911.4,696.3 911.9,701.0 912.4,695.9 912.9,701.1 913.4,696.3 913.9,701.0 914.4,696.1 914.9,700.9 915.4,696.2 915.9,701.0 916.4,696.3 916.9,701.0 917.4,696.3 917.9,700.7 918.4,695.9 918.9,700.8 919.4,696.1 919.9,700.9 920.4,696.1 920.9,700.7 921.4,695.9 921.9,701.2 922.4,696.2 922.9,700.8 923.4,696.2 923.9,701.0 924.4,696.1 924.9,701.0 925.4,696.0 925.9,700.8 926.4,696.1 926.9,700.9 927.4,696.0 927.9,701.0 928.4,695.8 928.9,700.7 929.4,696.1 929.9,701.0 930.4,696.3 930.9,700.9 931.4,696.2 931.9,701.0 932.4,696.0 932.9,700.8 933.4,696.1 933.9,700.8 934.4,696.1 934.9,701.2 935.4,695.9 935.9,700.9 936.4,696.2 936.9,700.8 937.4,695.9 937.9,701.2 938.4,696.3 938.9,700.9 939.4,696.1 939.9,700.8 940.4,696.0 940.9,701.1 941.4,696.1 941.9,701.2 942.4,696.0 942.9,700.8 943.4,696.0 943.9,700.7 944.4,696.1 944.9,701.0 945.4,696.2 945.9,700.7 946.4,696.1 946.9,701.1 947.4,696.2 947.9,700.9 948.4,696.0 948.9,700.8 949.4,696.1 949.6,701.1" fill="none" stroke="#0000ff" stroke-width="4.6" stroke-linejoin="round" stroke-linecap="butt" />
</g>
<rect x="167.4" y="642.3" width="780.20" height="466.10" fill="none" stroke="#000" stroke-width="3.125" stroke-linejoin="miter"/>
<g font-family="Liberation Sans, Arial, Helvetica, sans-serif" font-size="29.17" fill="#000" stroke="#000" stroke-width="0.3">
<text transform="translate(208.00,1134.30) scale(0.985,1.1)" text-anchor="middle" >81200</text>
<text transform="translate(367.00,1134.30) scale(0.985,1.1)" text-anchor="middle" >81300</text>
<text transform="translate(527.00,1134.30) scale(0.985,1.1)" text-anchor="middle" >81400</text>
<text transform="translate(687.00,1134.30) scale(0.985,1.1)" text-anchor="middle" >81500</text>
<text transform="translate(847.00,1134.30) scale(0.985,1.1)" text-anchor="middle" >81600</text>
<text transform="translate(162.70,1093.51) scale(0.985,1.1)" text-anchor="end" >−5</text>
<text transform="translate(162.70,964.03) scale(0.985,1.1)" text-anchor="end" >0</text>
<text transform="translate(162.70,834.56) scale(0.985,1.1)" text-anchor="end" >5</text>
<text transform="translate(162.70,705.09) scale(0.985,1.1)" text-anchor="end" >10</text>
</g>
<g font-family="Liberation Sans, Arial, Helvetica, sans-serif" font-size="29.17" font-weight="bold" fill="#000">
<text transform="translate(556.10,1178.70) scale(0.985,1.035)" text-anchor="middle" >Time [s]</text>
<text transform="translate(106.00,876.15) rotate(-90) scale(1.008,1.035)" text-anchor="middle" >Accelerator [m/s^2]</text>
</g>
<g id="legend1">
<rect x="760.9" y="657.00" width="172.70" height="143.10" fill="#fff" stroke="#000" stroke-width="3.6"/>
<line x1="768.8" y1="679.10" x2="832.1" y2="679.10" stroke="#ff0000" stroke-width="4.6"/>
<text transform="translate(853.00,690.30) scale(1.06,1.06)" text-anchor="start" font-family="Liberation Sans, Arial, Helvetica, sans-serif" font-size="29.17" fill="#000">X</text>
<line x1="768.8" y1="710.15" x2="832.1" y2="710.15" stroke="#008000" stroke-width="4.6"/>
<text transform="translate(853.00,721.35) scale(1.06,1.06)" text-anchor="start" font-family="Liberation Sans, Arial, Helvetica, sans-serif" font-size="29.17" fill="#000">Y</text>
<line x1="768.8" y1="741.20" x2="832.1" y2="741.20" stroke="#0000ff" stroke-width="4.6"/>
<text transform="translate(853.00,752.40) scale(1.06,1.06)" text-anchor="start" font-family="Liberation Sans, Arial, Helvetica, sans-serif" font-size="29.17" fill="#000">Z</text>
<rect x="770.2" y="762.35" width="60.4" height="19.8" fill="#90ee90" fill-opacity="0.2"/>
<text x="854.0" y="783.45" font-family="Liberation Serif, Times New Roman, serif" font-style="italic" font-size="29.17" fill="#000">Static</text>
</g>
</g>
</svg>
</body>
</html>
